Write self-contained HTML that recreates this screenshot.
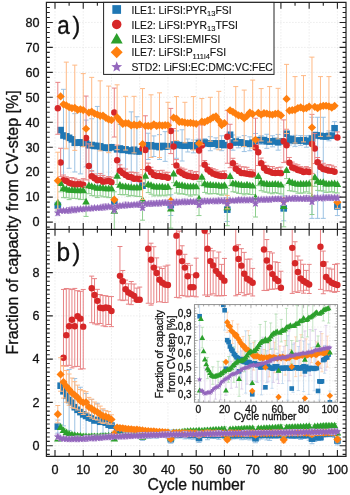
<!DOCTYPE html><html><head><meta charset="utf-8"><style>html,body{margin:0;padding:0;background:#fff}body{width:350px;height:495px;overflow:hidden}svg{display:block;will-change:transform}text{font-family:"Liberation Sans",sans-serif;stroke:#111;stroke-width:0.3px;paint-order:stroke}</style></head><body>
<svg width="350" height="495" viewBox="0 0 350 495">
<defs><clipPath id="ca"><rect x="46.4" y="2.4" width="299.6" height="227"/></clipPath>
<clipPath id="cb"><rect x="46.4" y="229.4" width="299.6" height="227"/></clipPath>
<clipPath id="ci"><rect x="194.4" y="304.6" width="143.2" height="97.6"/></clipPath></defs>
<path d="M55 2.4V229.4M55 229.4V456.4M83.24 2.4V229.4M83.24 229.4V456.4M111.48 2.4V229.4M111.48 229.4V456.4M139.72 2.4V229.4M139.72 229.4V456.4M167.96 2.4V229.4M167.96 229.4V456.4M196.2 2.4V229.4M196.2 229.4V456.4M224.44 2.4V229.4M224.44 229.4V456.4M252.68 2.4V229.4M252.68 229.4V456.4M280.92 2.4V229.4M280.92 229.4V456.4M309.16 2.4V229.4M309.16 229.4V456.4M337.4 2.4V229.4M337.4 229.4V456.4M46.4 222.1H346M46.4 197.14H346M46.4 172.19H346M46.4 147.23H346M46.4 122.28H346M46.4 97.32H346M46.4 72.36H346M46.4 47.41H346M46.4 22.45H346M46.4 445.7H346M46.4 402.42H346M46.4 359.14H346M46.4 315.86H346M46.4 272.58H346" stroke="#dadada" stroke-width="0.75" stroke-dasharray="1 2" fill="none"/>
<g clip-path="url(#ca)">
<path d="M63.47 89.32V181.65M60.97 89.32H65.97M60.97 181.65H65.97" stroke="#9cc2e3" stroke-width="1.0" fill="none"/><path d="M69.12 107.36V168.29M66.62 107.36H71.62M66.62 168.29H71.62" stroke="#9cc2e3" stroke-width="1.0" fill="none"/><path d="M74.77 113.67V171.96M72.27 113.67H77.27M72.27 171.96H77.27" stroke="#9cc2e3" stroke-width="1.0" fill="none"/><path d="M80.42 110.89V173.87M77.92 110.89H82.92M77.92 173.87H82.92" stroke="#9cc2e3" stroke-width="1.0" fill="none"/><path d="M86.06 120.07V166.84M83.56 120.07H88.56M83.56 166.84H88.56" stroke="#9cc2e3" stroke-width="1.0" fill="none"/><path d="M91.71 118.76V171.32M89.21 118.76H94.21M89.21 171.32H94.21" stroke="#9cc2e3" stroke-width="1.0" fill="none"/><path d="M97.36 106.43V185.39M94.86 106.43H99.86M94.86 185.39H99.86" stroke="#9cc2e3" stroke-width="1.0" fill="none"/><path d="M103.01 117.52V177.9M100.51 117.52H105.51M100.51 177.9H105.51" stroke="#9cc2e3" stroke-width="1.0" fill="none"/><path d="M108.66 117.29V178.7M106.16 117.29H111.16M106.16 178.7H111.16" stroke="#9cc2e3" stroke-width="1.0" fill="none"/><path d="M119.95 124.54V172.44M117.45 124.54H122.45M117.45 172.44H122.45" stroke="#9cc2e3" stroke-width="1.0" fill="none"/><path d="M125.6 122.03V176.7M123.1 122.03H128.1M123.1 176.7H128.1" stroke="#9cc2e3" stroke-width="1.0" fill="none"/><path d="M131.25 111.86V190.14M128.75 111.86H133.75M128.75 190.14H133.75" stroke="#9cc2e3" stroke-width="1.0" fill="none"/><path d="M136.9 116.74V185.67M134.4 116.74H139.4M134.4 185.67H139.4" stroke="#9cc2e3" stroke-width="1.0" fill="none"/><path d="M148.19 133.23V159.53M145.69 133.23H150.69M145.69 159.53H150.69" stroke="#9cc2e3" stroke-width="1.0" fill="none"/><path d="M153.84 135.91V156.53M151.34 135.91H156.34M151.34 156.53H156.34" stroke="#9cc2e3" stroke-width="1.0" fill="none"/><path d="M159.49 134.65V159.51M156.99 134.65H161.99M156.99 159.51H161.99" stroke="#9cc2e3" stroke-width="1.0" fill="none"/><path d="M165.14 131.67V161.35M162.64 131.67H167.64M162.64 161.35H167.64" stroke="#9cc2e3" stroke-width="1.0" fill="none"/><path d="M170.78 194.77V215.49M168.28 194.77H173.28M168.28 215.49H173.28" stroke="#9cc2e3" stroke-width="1.0" fill="none"/><path d="M176.43 130.93V158.3M173.93 130.93H178.93M173.93 158.3H178.93" stroke="#9cc2e3" stroke-width="1.0" fill="none"/><path d="M182.08 129.77V161M179.58 129.77H184.58M179.58 161H184.58" stroke="#9cc2e3" stroke-width="1.0" fill="none"/><path d="M187.73 139.02V151.98M185.23 139.02H190.23M185.23 151.98H190.23" stroke="#9cc2e3" stroke-width="1.0" fill="none"/><path d="M193.38 139.97V152.85M190.88 139.97H195.88M190.88 152.85H195.88" stroke="#9cc2e3" stroke-width="1.0" fill="none"/><path d="M199.02 139.13V146.92M196.52 139.13H201.52M196.52 146.92H201.52" stroke="#9cc2e3" stroke-width="1.0" fill="none"/><path d="M204.67 138.67V146.36M202.17 138.67H207.17M202.17 146.36H207.17" stroke="#9cc2e3" stroke-width="1.0" fill="none"/><path d="M210.32 136.72V150.74M207.82 136.72H212.82M207.82 150.74H212.82" stroke="#9cc2e3" stroke-width="1.0" fill="none"/><path d="M215.97 137.88V148.88M213.47 137.88H218.47M213.47 148.88H218.47" stroke="#9cc2e3" stroke-width="1.0" fill="none"/><path d="M221.62 135.79V150.69M219.12 135.79H224.12M219.12 150.69H224.12" stroke="#9cc2e3" stroke-width="1.0" fill="none"/><path d="M227.26 197.8V221.45M224.76 197.8H229.76M224.76 221.45H229.76" stroke="#9cc2e3" stroke-width="1.0" fill="none"/><path d="M232.91 134.96V150.21M230.41 134.96H235.41M230.41 150.21H235.41" stroke="#9cc2e3" stroke-width="1.0" fill="none"/><path d="M238.56 137.13V147.82M236.06 137.13H241.06M236.06 147.82H241.06" stroke="#9cc2e3" stroke-width="1.0" fill="none"/><path d="M244.21 135.62V151.58M241.71 135.62H246.71M241.71 151.58H246.71" stroke="#9cc2e3" stroke-width="1.0" fill="none"/><path d="M249.86 136.84V150.75M247.36 136.84H252.36M247.36 150.75H252.36" stroke="#9cc2e3" stroke-width="1.0" fill="none"/><path d="M255.5 133.5V148.55M253 133.5H258M253 148.55H258" stroke="#9cc2e3" stroke-width="1.0" fill="none"/><path d="M261.15 135.65V144.39M258.65 135.65H263.65M258.65 144.39H263.65" stroke="#9cc2e3" stroke-width="1.0" fill="none"/><path d="M266.8 134.26V148.38M264.3 134.26H269.3M264.3 148.38H269.3" stroke="#9cc2e3" stroke-width="1.0" fill="none"/><path d="M272.45 135.75V146.82M269.95 135.75H274.95M269.95 146.82H274.95" stroke="#9cc2e3" stroke-width="1.0" fill="none"/><path d="M278.1 134.42V150.16M275.6 134.42H280.6M275.6 150.16H280.6" stroke="#9cc2e3" stroke-width="1.0" fill="none"/><path d="M283.74 195.92V220.83M281.24 195.92H286.24M281.24 220.83H286.24" stroke="#9cc2e3" stroke-width="1.0" fill="none"/><path d="M289.39 135.67V145M286.89 135.67H291.89M286.89 145H291.89" stroke="#9cc2e3" stroke-width="1.0" fill="none"/><path d="M295.04 135.27V146.33M292.54 135.27H297.54M292.54 146.33H297.54" stroke="#9cc2e3" stroke-width="1.0" fill="none"/><path d="M300.69 135.56V145.35M298.19 135.56H303.19M298.19 145.35H303.19" stroke="#9cc2e3" stroke-width="1.0" fill="none"/><path d="M306.34 135.75V147.23M303.84 135.75H308.84M303.84 147.23H308.84" stroke="#9cc2e3" stroke-width="1.0" fill="none"/><path d="M311.98 117.28V218.36M309.48 117.28H314.48M309.48 218.36H314.48" stroke="#9cc2e3" stroke-width="1.0" fill="none"/><path d="M317.63 117.28V218.36M315.13 117.28H320.13M315.13 218.36H320.13" stroke="#9cc2e3" stroke-width="1.0" fill="none"/><path d="M323.28 117.28V218.36M320.78 117.28H325.78M320.78 218.36H325.78" stroke="#9cc2e3" stroke-width="1.0" fill="none"/><path d="M328.93 130.89V140.81M326.43 130.89H331.43M326.43 140.81H331.43" stroke="#9cc2e3" stroke-width="1.0" fill="none"/><path d="M334.58 121.69V134.84M332.08 121.69H337.08M332.08 134.84H337.08" stroke="#9cc2e3" stroke-width="1.0" fill="none"/><path d="M337.4 197.18V215.57M334.9 197.18H339.9M334.9 215.57H339.9" stroke="#9cc2e3" stroke-width="1.0" fill="none"/>
<rect x="54.52" y="202.33" width="6.6" height="6.6" fill="#1f77b4"/><rect x="57.35" y="126.79" width="6.6" height="6.6" fill="#1f77b4"/><rect x="60.17" y="132.19" width="6.6" height="6.6" fill="#1f77b4"/><rect x="63" y="133.05" width="6.6" height="6.6" fill="#1f77b4"/><rect x="65.82" y="134.53" width="6.6" height="6.6" fill="#1f77b4"/><rect x="68.64" y="136.08" width="6.6" height="6.6" fill="#1f77b4"/><rect x="71.47" y="139.51" width="6.6" height="6.6" fill="#1f77b4"/><rect x="74.29" y="139.33" width="6.6" height="6.6" fill="#1f77b4"/><rect x="77.12" y="139.08" width="6.6" height="6.6" fill="#1f77b4"/><rect x="79.94" y="140.18" width="6.6" height="6.6" fill="#1f77b4"/><rect x="82.76" y="140.15" width="6.6" height="6.6" fill="#1f77b4"/><rect x="85.59" y="141.95" width="6.6" height="6.6" fill="#1f77b4"/><rect x="88.41" y="141.74" width="6.6" height="6.6" fill="#1f77b4"/><rect x="91.24" y="142.63" width="6.6" height="6.6" fill="#1f77b4"/><rect x="94.06" y="142.61" width="6.6" height="6.6" fill="#1f77b4"/><rect x="96.88" y="143.05" width="6.6" height="6.6" fill="#1f77b4"/><rect x="99.71" y="144.41" width="6.6" height="6.6" fill="#1f77b4"/><rect x="102.53" y="144.43" width="6.6" height="6.6" fill="#1f77b4"/><rect x="105.36" y="144.69" width="6.6" height="6.6" fill="#1f77b4"/><rect x="108.18" y="143.95" width="6.6" height="6.6" fill="#1f77b4"/><rect x="111" y="198.59" width="6.6" height="6.6" fill="#1f77b4"/><rect x="113.83" y="146.02" width="6.6" height="6.6" fill="#1f77b4"/><rect x="116.65" y="145.19" width="6.6" height="6.6" fill="#1f77b4"/><rect x="119.48" y="146.62" width="6.6" height="6.6" fill="#1f77b4"/><rect x="122.3" y="146.07" width="6.6" height="6.6" fill="#1f77b4"/><rect x="125.12" y="147.2" width="6.6" height="6.6" fill="#1f77b4"/><rect x="127.95" y="147.7" width="6.6" height="6.6" fill="#1f77b4"/><rect x="130.77" y="146.47" width="6.6" height="6.6" fill="#1f77b4"/><rect x="133.6" y="147.9" width="6.6" height="6.6" fill="#1f77b4"/><rect x="136.42" y="148.17" width="6.6" height="6.6" fill="#1f77b4"/><rect x="139.24" y="182.36" width="6.6" height="6.6" fill="#1f77b4"/><rect x="142.07" y="141.92" width="6.6" height="6.6" fill="#1f77b4"/><rect x="144.89" y="143.08" width="6.6" height="6.6" fill="#1f77b4"/><rect x="147.72" y="142.04" width="6.6" height="6.6" fill="#1f77b4"/><rect x="150.54" y="142.92" width="6.6" height="6.6" fill="#1f77b4"/><rect x="153.36" y="142.82" width="6.6" height="6.6" fill="#1f77b4"/><rect x="156.19" y="143.78" width="6.6" height="6.6" fill="#1f77b4"/><rect x="159.01" y="142.63" width="6.6" height="6.6" fill="#1f77b4"/><rect x="161.84" y="143.21" width="6.6" height="6.6" fill="#1f77b4"/><rect x="164.66" y="142.87" width="6.6" height="6.6" fill="#1f77b4"/><rect x="167.48" y="201.83" width="6.6" height="6.6" fill="#1f77b4"/><rect x="170.31" y="141.23" width="6.6" height="6.6" fill="#1f77b4"/><rect x="173.13" y="141.32" width="6.6" height="6.6" fill="#1f77b4"/><rect x="175.96" y="141.85" width="6.6" height="6.6" fill="#1f77b4"/><rect x="178.78" y="142.08" width="6.6" height="6.6" fill="#1f77b4"/><rect x="181.6" y="142.42" width="6.6" height="6.6" fill="#1f77b4"/><rect x="184.43" y="142.2" width="6.6" height="6.6" fill="#1f77b4"/><rect x="187.25" y="141.87" width="6.6" height="6.6" fill="#1f77b4"/><rect x="190.08" y="143.11" width="6.6" height="6.6" fill="#1f77b4"/><rect x="192.9" y="142.12" width="6.6" height="6.6" fill="#1f77b4"/><rect x="195.72" y="139.72" width="6.6" height="6.6" fill="#1f77b4"/><rect x="198.55" y="139.94" width="6.6" height="6.6" fill="#1f77b4"/><rect x="201.37" y="139.22" width="6.6" height="6.6" fill="#1f77b4"/><rect x="204.2" y="139.97" width="6.6" height="6.6" fill="#1f77b4"/><rect x="207.02" y="140.43" width="6.6" height="6.6" fill="#1f77b4"/><rect x="209.84" y="140.3" width="6.6" height="6.6" fill="#1f77b4"/><rect x="212.67" y="140.08" width="6.6" height="6.6" fill="#1f77b4"/><rect x="215.49" y="141.38" width="6.6" height="6.6" fill="#1f77b4"/><rect x="218.32" y="139.94" width="6.6" height="6.6" fill="#1f77b4"/><rect x="221.14" y="141.77" width="6.6" height="6.6" fill="#1f77b4"/><rect x="223.96" y="206.32" width="6.6" height="6.6" fill="#1f77b4"/><rect x="226.79" y="131.45" width="6.6" height="6.6" fill="#1f77b4"/><rect x="229.61" y="139.28" width="6.6" height="6.6" fill="#1f77b4"/><rect x="232.44" y="138.19" width="6.6" height="6.6" fill="#1f77b4"/><rect x="235.26" y="139.17" width="6.6" height="6.6" fill="#1f77b4"/><rect x="238.08" y="139.05" width="6.6" height="6.6" fill="#1f77b4"/><rect x="240.91" y="140.3" width="6.6" height="6.6" fill="#1f77b4"/><rect x="243.73" y="140.48" width="6.6" height="6.6" fill="#1f77b4"/><rect x="246.56" y="140.5" width="6.6" height="6.6" fill="#1f77b4"/><rect x="249.38" y="139.39" width="6.6" height="6.6" fill="#1f77b4"/><rect x="252.2" y="137.72" width="6.6" height="6.6" fill="#1f77b4"/><rect x="255.03" y="136.89" width="6.6" height="6.6" fill="#1f77b4"/><rect x="257.85" y="136.72" width="6.6" height="6.6" fill="#1f77b4"/><rect x="260.68" y="136.84" width="6.6" height="6.6" fill="#1f77b4"/><rect x="263.5" y="138.02" width="6.6" height="6.6" fill="#1f77b4"/><rect x="266.32" y="138.14" width="6.6" height="6.6" fill="#1f77b4"/><rect x="269.15" y="137.98" width="6.6" height="6.6" fill="#1f77b4"/><rect x="271.97" y="137.68" width="6.6" height="6.6" fill="#1f77b4"/><rect x="274.8" y="138.99" width="6.6" height="6.6" fill="#1f77b4"/><rect x="277.62" y="138.01" width="6.6" height="6.6" fill="#1f77b4"/><rect x="280.44" y="205.07" width="6.6" height="6.6" fill="#1f77b4"/><rect x="283.27" y="130.46" width="6.6" height="6.6" fill="#1f77b4"/><rect x="286.09" y="137.04" width="6.6" height="6.6" fill="#1f77b4"/><rect x="288.92" y="135.73" width="6.6" height="6.6" fill="#1f77b4"/><rect x="291.74" y="137.5" width="6.6" height="6.6" fill="#1f77b4"/><rect x="294.56" y="137.35" width="6.6" height="6.6" fill="#1f77b4"/><rect x="297.39" y="137.16" width="6.6" height="6.6" fill="#1f77b4"/><rect x="300.21" y="136.9" width="6.6" height="6.6" fill="#1f77b4"/><rect x="303.04" y="138.19" width="6.6" height="6.6" fill="#1f77b4"/><rect x="305.86" y="137.45" width="6.6" height="6.6" fill="#1f77b4"/><rect x="308.68" y="135.2" width="6.6" height="6.6" fill="#1f77b4"/><rect x="311.51" y="131.78" width="6.6" height="6.6" fill="#1f77b4"/><rect x="314.33" y="132.06" width="6.6" height="6.6" fill="#1f77b4"/><rect x="317.16" y="132.59" width="6.6" height="6.6" fill="#1f77b4"/><rect x="319.98" y="133.05" width="6.6" height="6.6" fill="#1f77b4"/><rect x="322.8" y="133.21" width="6.6" height="6.6" fill="#1f77b4"/><rect x="325.63" y="132.55" width="6.6" height="6.6" fill="#1f77b4"/><rect x="328.45" y="132.3" width="6.6" height="6.6" fill="#1f77b4"/><rect x="331.28" y="124.97" width="6.6" height="6.6" fill="#1f77b4"/><rect x="334.1" y="203.08" width="6.6" height="6.6" fill="#1f77b4"/>
<path d="M57.82 82.35V134.25M55.32 82.35H60.32M55.32 134.25H60.32" stroke="#e88284" stroke-width="1.0" fill="none"/><path d="M60.65 148.29V176.62M58.15 148.29H63.15M58.15 176.62H63.15" stroke="#e88284" stroke-width="1.0" fill="none"/><path d="M63.47 175.04V180.17M60.97 175.04H65.97M60.97 180.17H65.97" stroke="#e88284" stroke-width="1.0" fill="none"/><path d="M66.3 176.77V180.94M63.8 176.77H68.8M63.8 180.94H68.8" stroke="#e88284" stroke-width="1.0" fill="none"/><path d="M69.12 177.92V182.86M66.62 177.92H71.62M66.62 182.86H71.62" stroke="#e88284" stroke-width="1.0" fill="none"/><path d="M71.94 177.57V183.8M69.44 177.57H74.44M69.44 183.8H74.44" stroke="#e88284" stroke-width="1.0" fill="none"/><path d="M74.77 178.31V184.51M72.27 178.31H77.27M72.27 184.51H77.27" stroke="#e88284" stroke-width="1.0" fill="none"/><path d="M77.59 179.77V184.26M75.09 179.77H80.09M75.09 184.26H80.09" stroke="#e88284" stroke-width="1.0" fill="none"/><path d="M80.42 180.04V184.08M77.92 180.04H82.92M77.92 184.08H82.92" stroke="#e88284" stroke-width="1.0" fill="none"/><path d="M83.24 178.67V184.73M80.74 178.67H85.74M80.74 184.73H85.74" stroke="#e88284" stroke-width="1.0" fill="none"/><path d="M86.06 96.07V179.92M83.56 96.07H88.56M83.56 179.92H88.56" stroke="#e88284" stroke-width="1.0" fill="none"/><path d="M88.89 143.88V188.02M86.39 143.88H91.39M86.39 188.02H91.39" stroke="#e88284" stroke-width="1.0" fill="none"/><path d="M91.71 170.69V176.18M89.21 170.69H94.21M89.21 176.18H94.21" stroke="#e88284" stroke-width="1.0" fill="none"/><path d="M94.54 173.96V178.29M92.04 173.96H97.04M92.04 178.29H97.04" stroke="#e88284" stroke-width="1.0" fill="none"/><path d="M97.36 175.71V180.29M94.86 175.71H99.86M94.86 180.29H99.86" stroke="#e88284" stroke-width="1.0" fill="none"/><path d="M100.18 173.59V179.88M97.68 173.59H102.68M97.68 179.88H102.68" stroke="#e88284" stroke-width="1.0" fill="none"/><path d="M103.01 175.4V181.73M100.51 175.4H105.51M100.51 181.73H105.51" stroke="#e88284" stroke-width="1.0" fill="none"/><path d="M105.83 177.3V181.37M103.33 177.3H108.33M103.33 181.37H108.33" stroke="#e88284" stroke-width="1.0" fill="none"/><path d="M108.66 176.59V181.05M106.16 176.59H111.16M106.16 181.05H111.16" stroke="#e88284" stroke-width="1.0" fill="none"/><path d="M111.48 177.16V182.22M108.98 177.16H113.98M108.98 182.22H113.98" stroke="#e88284" stroke-width="1.0" fill="none"/><path d="M114.3 88.09V137M111.8 88.09H116.8M111.8 137H116.8" stroke="#e88284" stroke-width="1.0" fill="none"/><path d="M117.13 145.07V175.35M114.63 145.07H119.63M114.63 175.35H119.63" stroke="#e88284" stroke-width="1.0" fill="none"/><path d="M119.95 164.82V170.69M117.45 164.82H122.45M117.45 170.69H122.45" stroke="#e88284" stroke-width="1.0" fill="none"/><path d="M122.78 168.17V173.09M120.28 168.17H125.28M120.28 173.09H125.28" stroke="#e88284" stroke-width="1.0" fill="none"/><path d="M125.6 169V174.93M123.1 169H128.1M123.1 174.93H128.1" stroke="#e88284" stroke-width="1.0" fill="none"/><path d="M128.42 172.35V176.73M125.92 172.35H130.92M125.92 176.73H130.92" stroke="#e88284" stroke-width="1.0" fill="none"/><path d="M131.25 172V177.29M128.75 172H133.75M128.75 177.29H133.75" stroke="#e88284" stroke-width="1.0" fill="none"/><path d="M134.07 172.37V178.79M131.57 172.37H136.57M131.57 178.79H136.57" stroke="#e88284" stroke-width="1.0" fill="none"/><path d="M136.9 172.85V178.6M134.4 172.85H139.4M134.4 178.6H139.4" stroke="#e88284" stroke-width="1.0" fill="none"/><path d="M139.72 174.98V179.2M137.22 174.98H142.22M137.22 179.2H142.22" stroke="#e88284" stroke-width="1.0" fill="none"/><path d="M142.54 127.41V169.55M140.04 127.41H145.04M140.04 169.55H145.04" stroke="#e88284" stroke-width="1.0" fill="none"/><path d="M145.37 115.79V184.17M142.87 115.79H147.87M142.87 184.17H147.87" stroke="#e88284" stroke-width="1.0" fill="none"/><path d="M148.19 163.1V168.69M145.69 163.1H150.69M145.69 168.69H150.69" stroke="#e88284" stroke-width="1.0" fill="none"/><path d="M151.02 167.24V172.17M148.52 167.24H153.52M148.52 172.17H153.52" stroke="#e88284" stroke-width="1.0" fill="none"/><path d="M153.84 170.15V175.06M151.34 170.15H156.34M151.34 175.06H156.34" stroke="#e88284" stroke-width="1.0" fill="none"/><path d="M156.66 170.89V176.08M154.16 170.89H159.16M154.16 176.08H159.16" stroke="#e88284" stroke-width="1.0" fill="none"/><path d="M159.49 170.58V176.02M156.99 170.58H161.99M156.99 176.02H161.99" stroke="#e88284" stroke-width="1.0" fill="none"/><path d="M162.31 170.3V176.7M159.81 170.3H164.81M159.81 176.7H164.81" stroke="#e88284" stroke-width="1.0" fill="none"/><path d="M165.14 172.2V176.8M162.64 172.2H167.64M162.64 176.8H167.64" stroke="#e88284" stroke-width="1.0" fill="none"/><path d="M167.96 172.34V177.75M165.46 172.34H170.46M165.46 177.75H170.46" stroke="#e88284" stroke-width="1.0" fill="none"/><path d="M170.78 108.42V153.6M168.28 108.42H173.28M168.28 153.6H173.28" stroke="#e88284" stroke-width="1.0" fill="none"/><path d="M173.61 128.56V164.41M171.11 128.56H176.11M171.11 164.41H176.11" stroke="#e88284" stroke-width="1.0" fill="none"/><path d="M176.43 159.63V165.45M173.93 159.63H178.93M173.93 165.45H178.93" stroke="#e88284" stroke-width="1.0" fill="none"/><path d="M179.26 167.13V171.46M176.76 167.13H181.76M176.76 171.46H181.76" stroke="#e88284" stroke-width="1.0" fill="none"/><path d="M182.08 168.07V173.27M179.58 168.07H184.58M179.58 173.27H184.58" stroke="#e88284" stroke-width="1.0" fill="none"/><path d="M184.9 169.2V174.96M182.4 169.2H187.4M182.4 174.96H187.4" stroke="#e88284" stroke-width="1.0" fill="none"/><path d="M187.73 172.02V176.04M185.23 172.02H190.23M185.23 176.04H190.23" stroke="#e88284" stroke-width="1.0" fill="none"/><path d="M190.55 170.43V176.35M188.05 170.43H193.05M188.05 176.35H193.05" stroke="#e88284" stroke-width="1.0" fill="none"/><path d="M193.38 171.99V177.03M190.88 171.99H195.88M190.88 177.03H195.88" stroke="#e88284" stroke-width="1.0" fill="none"/><path d="M196.2 171.61V176.86M193.7 171.61H198.7M193.7 176.86H198.7" stroke="#e88284" stroke-width="1.0" fill="none"/><path d="M199.02 124.42V176.54M196.52 124.42H201.52M196.52 176.54H201.52" stroke="#e88284" stroke-width="1.0" fill="none"/><path d="M201.85 125.09V165.88M199.35 125.09H204.35M199.35 165.88H204.35" stroke="#e88284" stroke-width="1.0" fill="none"/><path d="M204.67 160.57V164.7M202.17 160.57H207.17M202.17 164.7H207.17" stroke="#e88284" stroke-width="1.0" fill="none"/><path d="M207.5 164.22V169.46M205 164.22H210M205 169.46H210" stroke="#e88284" stroke-width="1.0" fill="none"/><path d="M210.32 167.69V171.78M207.82 167.69H212.82M207.82 171.78H212.82" stroke="#e88284" stroke-width="1.0" fill="none"/><path d="M213.14 168.7V173.65M210.64 168.7H215.64M210.64 173.65H215.64" stroke="#e88284" stroke-width="1.0" fill="none"/><path d="M215.97 169.83V174.68M213.47 169.83H218.47M213.47 174.68H218.47" stroke="#e88284" stroke-width="1.0" fill="none"/><path d="M218.79 171.38V175.43M216.29 171.38H221.29M216.29 175.43H221.29" stroke="#e88284" stroke-width="1.0" fill="none"/><path d="M221.62 171.37V176.11M219.12 171.37H224.12M219.12 176.11H224.12" stroke="#e88284" stroke-width="1.0" fill="none"/><path d="M224.44 170.91V176.02M221.94 170.91H226.94M221.94 176.02H226.94" stroke="#e88284" stroke-width="1.0" fill="none"/><path d="M227.26 110.25V163.25M224.76 110.25H229.76M224.76 163.25H229.76" stroke="#e88284" stroke-width="1.0" fill="none"/><path d="M230.09 124.27V167.69M227.59 124.27H232.59M227.59 167.69H232.59" stroke="#e88284" stroke-width="1.0" fill="none"/><path d="M232.91 158.29V163.2M230.41 158.29H235.41M230.41 163.2H235.41" stroke="#e88284" stroke-width="1.0" fill="none"/><path d="M235.74 163.46V168.77M233.24 163.46H238.24M233.24 168.77H238.24" stroke="#e88284" stroke-width="1.0" fill="none"/><path d="M238.56 165.14V170.92M236.06 165.14H241.06M236.06 170.92H241.06" stroke="#e88284" stroke-width="1.0" fill="none"/><path d="M241.38 166.72V173.05M238.88 166.72H243.88M238.88 173.05H243.88" stroke="#e88284" stroke-width="1.0" fill="none"/><path d="M244.21 166.89V173.25M241.71 166.89H246.71M241.71 173.25H246.71" stroke="#e88284" stroke-width="1.0" fill="none"/><path d="M247.03 167.32V173.78M244.53 167.32H249.53M244.53 173.78H249.53" stroke="#e88284" stroke-width="1.0" fill="none"/><path d="M249.86 169.46V174.21M247.36 169.46H252.36M247.36 174.21H252.36" stroke="#e88284" stroke-width="1.0" fill="none"/><path d="M252.68 170.03V174.44M250.18 170.03H255.18M250.18 174.44H255.18" stroke="#e88284" stroke-width="1.0" fill="none"/><path d="M255.5 118.21V176.75M253 118.21H258M253 176.75H258" stroke="#e88284" stroke-width="1.0" fill="none"/><path d="M258.33 138.97V165.47M255.83 138.97H260.83M255.83 165.47H260.83" stroke="#e88284" stroke-width="1.0" fill="none"/><path d="M261.15 158.09V163.2M258.65 158.09H263.65M258.65 163.2H263.65" stroke="#e88284" stroke-width="1.0" fill="none"/><path d="M263.98 162.23V168.06M261.48 162.23H266.48M261.48 168.06H266.48" stroke="#e88284" stroke-width="1.0" fill="none"/><path d="M266.8 165.4V170.72M264.3 165.4H269.3M264.3 170.72H269.3" stroke="#e88284" stroke-width="1.0" fill="none"/><path d="M269.62 166.5V171.46M267.12 166.5H272.12M267.12 171.46H272.12" stroke="#e88284" stroke-width="1.0" fill="none"/><path d="M272.45 166.55V172.85M269.95 166.55H274.95M269.95 172.85H274.95" stroke="#e88284" stroke-width="1.0" fill="none"/><path d="M275.27 168.27V173.01M272.77 168.27H277.77M272.77 173.01H277.77" stroke="#e88284" stroke-width="1.0" fill="none"/><path d="M278.1 167.49V172.86M275.6 167.49H280.6M275.6 172.86H280.6" stroke="#e88284" stroke-width="1.0" fill="none"/><path d="M280.92 167.09V173.15M278.42 167.09H283.42M278.42 173.15H283.42" stroke="#e88284" stroke-width="1.0" fill="none"/><path d="M283.74 119.9V162.58M281.24 119.9H286.24M281.24 162.58H286.24" stroke="#e88284" stroke-width="1.0" fill="none"/><path d="M286.57 129.25V161.22M284.07 129.25H289.07M284.07 161.22H289.07" stroke="#e88284" stroke-width="1.0" fill="none"/><path d="M289.39 157.48V162.7M286.89 157.48H291.89M286.89 162.7H291.89" stroke="#e88284" stroke-width="1.0" fill="none"/><path d="M292.22 162.1V167.51M289.72 162.1H294.72M289.72 167.51H294.72" stroke="#e88284" stroke-width="1.0" fill="none"/><path d="M295.04 163.88V168.39M292.54 163.88H297.54M292.54 168.39H297.54" stroke="#e88284" stroke-width="1.0" fill="none"/><path d="M297.86 164.84V169.96M295.36 164.84H300.36M295.36 169.96H300.36" stroke="#e88284" stroke-width="1.0" fill="none"/><path d="M300.69 166.61V170.75M298.19 166.61H303.19M298.19 170.75H303.19" stroke="#e88284" stroke-width="1.0" fill="none"/><path d="M303.51 167.8V172.02M301.01 167.8H306.01M301.01 172.02H306.01" stroke="#e88284" stroke-width="1.0" fill="none"/><path d="M306.34 166.62V171.47M303.84 166.62H308.84M303.84 171.47H308.84" stroke="#e88284" stroke-width="1.0" fill="none"/><path d="M309.16 167.71V172.06M306.66 167.71H311.66M306.66 172.06H311.66" stroke="#e88284" stroke-width="1.0" fill="none"/><path d="M311.98 114.36V173.61M309.48 114.36H314.48M309.48 173.61H314.48" stroke="#e88284" stroke-width="1.0" fill="none"/><path d="M314.81 133.37V163.59M312.31 133.37H317.31M312.31 163.59H317.31" stroke="#e88284" stroke-width="1.0" fill="none"/><path d="M317.63 157.52V162.21M315.13 157.52H320.13M315.13 162.21H320.13" stroke="#e88284" stroke-width="1.0" fill="none"/><path d="M320.46 160.99V166.94M317.96 160.99H322.96M317.96 166.94H322.96" stroke="#e88284" stroke-width="1.0" fill="none"/><path d="M323.28 163.27V169.11M320.78 163.27H325.78M320.78 169.11H325.78" stroke="#e88284" stroke-width="1.0" fill="none"/><path d="M326.1 165.06V169.71M323.6 165.06H328.6M323.6 169.71H328.6" stroke="#e88284" stroke-width="1.0" fill="none"/><path d="M328.93 164.59V170.65M326.43 164.59H331.43M326.43 170.65H331.43" stroke="#e88284" stroke-width="1.0" fill="none"/><path d="M331.75 165.28V170.84M329.25 165.28H334.25M329.25 170.84H334.25" stroke="#e88284" stroke-width="1.0" fill="none"/><path d="M334.58 166.8V171.76M332.08 166.8H337.08M332.08 171.76H337.08" stroke="#e88284" stroke-width="1.0" fill="none"/><path d="M337.4 131.94V137.5M334.9 131.94H339.9M334.9 137.5H339.9" stroke="#e88284" stroke-width="1.0" fill="none"/>
<circle cx="57.82" cy="108.3" r="3.2" fill="#d62728"/><circle cx="60.65" cy="162.46" r="3.2" fill="#d62728"/><circle cx="63.47" cy="180.17" r="3.2" fill="#d62728"/><circle cx="66.3" cy="180.94" r="3.2" fill="#d62728"/><circle cx="69.12" cy="182.86" r="3.2" fill="#d62728"/><circle cx="71.94" cy="183.8" r="3.2" fill="#d62728"/><circle cx="74.77" cy="184.51" r="3.2" fill="#d62728"/><circle cx="77.59" cy="184.26" r="3.2" fill="#d62728"/><circle cx="80.42" cy="184.08" r="3.2" fill="#d62728"/><circle cx="83.24" cy="184.73" r="3.2" fill="#d62728"/><circle cx="86.06" cy="138" r="3.2" fill="#d62728"/><circle cx="88.89" cy="165.95" r="3.2" fill="#d62728"/><circle cx="91.71" cy="176.18" r="3.2" fill="#d62728"/><circle cx="94.54" cy="178.29" r="3.2" fill="#d62728"/><circle cx="97.36" cy="180.29" r="3.2" fill="#d62728"/><circle cx="100.18" cy="179.88" r="3.2" fill="#d62728"/><circle cx="103.01" cy="181.73" r="3.2" fill="#d62728"/><circle cx="105.83" cy="181.37" r="3.2" fill="#d62728"/><circle cx="108.66" cy="181.05" r="3.2" fill="#d62728"/><circle cx="111.48" cy="182.22" r="3.2" fill="#d62728"/><circle cx="114.3" cy="112.54" r="3.2" fill="#d62728"/><circle cx="117.13" cy="160.21" r="3.2" fill="#d62728"/><circle cx="119.95" cy="170.69" r="3.2" fill="#d62728"/><circle cx="122.78" cy="173.09" r="3.2" fill="#d62728"/><circle cx="125.6" cy="174.93" r="3.2" fill="#d62728"/><circle cx="128.42" cy="176.73" r="3.2" fill="#d62728"/><circle cx="131.25" cy="177.29" r="3.2" fill="#d62728"/><circle cx="134.07" cy="178.79" r="3.2" fill="#d62728"/><circle cx="136.9" cy="178.6" r="3.2" fill="#d62728"/><circle cx="139.72" cy="179.2" r="3.2" fill="#d62728"/><circle cx="142.54" cy="148.48" r="3.2" fill="#d62728"/><circle cx="145.37" cy="149.98" r="3.2" fill="#d62728"/><circle cx="148.19" cy="168.69" r="3.2" fill="#d62728"/><circle cx="151.02" cy="172.17" r="3.2" fill="#d62728"/><circle cx="153.84" cy="175.06" r="3.2" fill="#d62728"/><circle cx="156.66" cy="176.08" r="3.2" fill="#d62728"/><circle cx="159.49" cy="176.02" r="3.2" fill="#d62728"/><circle cx="162.31" cy="176.7" r="3.2" fill="#d62728"/><circle cx="165.14" cy="176.8" r="3.2" fill="#d62728"/><circle cx="167.96" cy="177.75" r="3.2" fill="#d62728"/><circle cx="170.78" cy="131.01" r="3.2" fill="#d62728"/><circle cx="173.61" cy="146.48" r="3.2" fill="#d62728"/><circle cx="176.43" cy="165.45" r="3.2" fill="#d62728"/><circle cx="179.26" cy="171.46" r="3.2" fill="#d62728"/><circle cx="182.08" cy="173.27" r="3.2" fill="#d62728"/><circle cx="184.9" cy="174.96" r="3.2" fill="#d62728"/><circle cx="187.73" cy="176.04" r="3.2" fill="#d62728"/><circle cx="190.55" cy="176.35" r="3.2" fill="#d62728"/><circle cx="193.38" cy="177.03" r="3.2" fill="#d62728"/><circle cx="196.2" cy="176.86" r="3.2" fill="#d62728"/><circle cx="199.02" cy="150.48" r="3.2" fill="#d62728"/><circle cx="201.85" cy="145.49" r="3.2" fill="#d62728"/><circle cx="204.67" cy="164.7" r="3.2" fill="#d62728"/><circle cx="207.5" cy="169.46" r="3.2" fill="#d62728"/><circle cx="210.32" cy="171.78" r="3.2" fill="#d62728"/><circle cx="213.14" cy="173.65" r="3.2" fill="#d62728"/><circle cx="215.97" cy="174.68" r="3.2" fill="#d62728"/><circle cx="218.79" cy="175.43" r="3.2" fill="#d62728"/><circle cx="221.62" cy="176.11" r="3.2" fill="#d62728"/><circle cx="224.44" cy="176.02" r="3.2" fill="#d62728"/><circle cx="227.26" cy="136.75" r="3.2" fill="#d62728"/><circle cx="230.09" cy="145.98" r="3.2" fill="#d62728"/><circle cx="232.91" cy="163.2" r="3.2" fill="#d62728"/><circle cx="235.74" cy="168.77" r="3.2" fill="#d62728"/><circle cx="238.56" cy="170.92" r="3.2" fill="#d62728"/><circle cx="241.38" cy="173.05" r="3.2" fill="#d62728"/><circle cx="244.21" cy="173.25" r="3.2" fill="#d62728"/><circle cx="247.03" cy="173.78" r="3.2" fill="#d62728"/><circle cx="249.86" cy="174.21" r="3.2" fill="#d62728"/><circle cx="252.68" cy="174.44" r="3.2" fill="#d62728"/><circle cx="255.5" cy="147.48" r="3.2" fill="#d62728"/><circle cx="258.33" cy="152.22" r="3.2" fill="#d62728"/><circle cx="261.15" cy="163.2" r="3.2" fill="#d62728"/><circle cx="263.98" cy="168.06" r="3.2" fill="#d62728"/><circle cx="266.8" cy="170.72" r="3.2" fill="#d62728"/><circle cx="269.62" cy="171.46" r="3.2" fill="#d62728"/><circle cx="272.45" cy="172.85" r="3.2" fill="#d62728"/><circle cx="275.27" cy="173.01" r="3.2" fill="#d62728"/><circle cx="278.1" cy="172.86" r="3.2" fill="#d62728"/><circle cx="280.92" cy="173.15" r="3.2" fill="#d62728"/><circle cx="283.74" cy="141.24" r="3.2" fill="#d62728"/><circle cx="286.57" cy="145.24" r="3.2" fill="#d62728"/><circle cx="289.39" cy="162.7" r="3.2" fill="#d62728"/><circle cx="292.22" cy="167.51" r="3.2" fill="#d62728"/><circle cx="295.04" cy="168.39" r="3.2" fill="#d62728"/><circle cx="297.86" cy="169.96" r="3.2" fill="#d62728"/><circle cx="300.69" cy="170.75" r="3.2" fill="#d62728"/><circle cx="303.51" cy="172.02" r="3.2" fill="#d62728"/><circle cx="306.34" cy="171.47" r="3.2" fill="#d62728"/><circle cx="309.16" cy="172.06" r="3.2" fill="#d62728"/><circle cx="311.98" cy="143.99" r="3.2" fill="#d62728"/><circle cx="314.81" cy="148.48" r="3.2" fill="#d62728"/><circle cx="317.63" cy="162.21" r="3.2" fill="#d62728"/><circle cx="320.46" cy="166.94" r="3.2" fill="#d62728"/><circle cx="323.28" cy="169.11" r="3.2" fill="#d62728"/><circle cx="326.1" cy="169.71" r="3.2" fill="#d62728"/><circle cx="328.93" cy="170.65" r="3.2" fill="#d62728"/><circle cx="331.75" cy="170.84" r="3.2" fill="#d62728"/><circle cx="334.58" cy="171.76" r="3.2" fill="#d62728"/><circle cx="337.4" cy="137.5" r="3.2" fill="#d62728"/>
<path d="M57.82 202.14V210.99M55.32 202.14H60.32M55.32 210.99H60.32" stroke="#8fcf8f" stroke-width="1.0" fill="none"/><path d="M60.65 182.92V191.8M58.15 182.92H63.15M58.15 191.8H63.15" stroke="#8fcf8f" stroke-width="1.0" fill="none"/><path d="M63.47 187.86V197.66M60.97 187.86H65.97M60.97 197.66H65.97" stroke="#8fcf8f" stroke-width="1.0" fill="none"/><path d="M66.3 188.63V197.77M63.8 188.63H68.8M63.8 197.77H68.8" stroke="#8fcf8f" stroke-width="1.0" fill="none"/><path d="M69.12 189.81V199.64M66.62 189.81H71.62M66.62 199.64H71.62" stroke="#8fcf8f" stroke-width="1.0" fill="none"/><path d="M71.94 189.59V198.34M69.44 189.59H74.44M69.44 198.34H74.44" stroke="#8fcf8f" stroke-width="1.0" fill="none"/><path d="M74.77 189.82V198.51M72.27 189.82H77.27M72.27 198.51H77.27" stroke="#8fcf8f" stroke-width="1.0" fill="none"/><path d="M77.59 190.22V198.79M75.09 190.22H80.09M75.09 198.79H80.09" stroke="#8fcf8f" stroke-width="1.0" fill="none"/><path d="M80.42 189.98V199.57M77.92 189.98H82.92M77.92 199.57H82.92" stroke="#8fcf8f" stroke-width="1.0" fill="none"/><path d="M83.24 190.09V199.41M80.74 190.09H85.74M80.74 199.41H85.74" stroke="#8fcf8f" stroke-width="1.0" fill="none"/><path d="M86.06 186.35V216.42M83.56 186.35H88.56M83.56 216.42H88.56" stroke="#8fcf8f" stroke-width="1.0" fill="none"/><path d="M88.89 185.17V193.71M86.39 185.17H91.39M86.39 193.71H91.39" stroke="#8fcf8f" stroke-width="1.0" fill="none"/><path d="M91.71 185.89V195.61M89.21 185.89H94.21M89.21 195.61H94.21" stroke="#8fcf8f" stroke-width="1.0" fill="none"/><path d="M94.54 186.75V195.98M92.04 186.75H97.04M92.04 195.98H97.04" stroke="#8fcf8f" stroke-width="1.0" fill="none"/><path d="M97.36 187.79V197.58M94.86 187.79H99.86M94.86 197.58H99.86" stroke="#8fcf8f" stroke-width="1.0" fill="none"/><path d="M100.18 187.35V195.9M97.68 187.35H102.68M97.68 195.9H102.68" stroke="#8fcf8f" stroke-width="1.0" fill="none"/><path d="M103.01 187.49V196.86M100.51 187.49H105.51M100.51 196.86H105.51" stroke="#8fcf8f" stroke-width="1.0" fill="none"/><path d="M105.83 188.24V196.9M103.33 188.24H108.33M103.33 196.9H108.33" stroke="#8fcf8f" stroke-width="1.0" fill="none"/><path d="M108.66 188.09V197.66M106.16 188.09H111.16M106.16 197.66H111.16" stroke="#8fcf8f" stroke-width="1.0" fill="none"/><path d="M111.48 188.14V197.54M108.98 188.14H113.98M108.98 197.54H113.98" stroke="#8fcf8f" stroke-width="1.0" fill="none"/><path d="M114.3 191.83V229.41M111.8 191.83H116.8M111.8 229.41H116.8" stroke="#8fcf8f" stroke-width="1.0" fill="none"/><path d="M117.13 175.68V184.5M114.63 175.68H119.63M114.63 184.5H119.63" stroke="#8fcf8f" stroke-width="1.0" fill="none"/><path d="M119.95 184.63V194.53M117.45 184.63H122.45M117.45 194.53H122.45" stroke="#8fcf8f" stroke-width="1.0" fill="none"/><path d="M122.78 186.2V194.85M120.28 186.2H125.28M120.28 194.85H125.28" stroke="#8fcf8f" stroke-width="1.0" fill="none"/><path d="M125.6 186.03V194.61M123.1 186.03H128.1M123.1 194.61H128.1" stroke="#8fcf8f" stroke-width="1.0" fill="none"/><path d="M128.42 186.67V196.18M125.92 186.67H130.92M125.92 196.18H130.92" stroke="#8fcf8f" stroke-width="1.0" fill="none"/><path d="M131.25 186.83V195.45M128.75 186.83H133.75M128.75 195.45H133.75" stroke="#8fcf8f" stroke-width="1.0" fill="none"/><path d="M134.07 187.31V195.9M131.57 187.31H136.57M131.57 195.9H136.57" stroke="#8fcf8f" stroke-width="1.0" fill="none"/><path d="M136.9 187.18V196.35M134.4 187.18H139.4M134.4 196.35H139.4" stroke="#8fcf8f" stroke-width="1.0" fill="none"/><path d="M139.72 187.07V196.53M137.22 187.07H142.22M137.22 196.53H142.22" stroke="#8fcf8f" stroke-width="1.0" fill="none"/><path d="M142.54 179.1V220.18M140.04 179.1H145.04M140.04 220.18H145.04" stroke="#8fcf8f" stroke-width="1.0" fill="none"/><path d="M145.37 175.68V185.25M142.87 175.68H147.87M142.87 185.25H147.87" stroke="#8fcf8f" stroke-width="1.0" fill="none"/><path d="M148.19 184V192.58M145.69 184H150.69M145.69 192.58H150.69" stroke="#8fcf8f" stroke-width="1.0" fill="none"/><path d="M151.02 184.77V194.22M148.52 184.77H153.52M148.52 194.22H153.52" stroke="#8fcf8f" stroke-width="1.0" fill="none"/><path d="M153.84 186.22V195.97M151.34 186.22H156.34M151.34 195.97H156.34" stroke="#8fcf8f" stroke-width="1.0" fill="none"/><path d="M156.66 186.45V195.11M154.16 186.45H159.16M154.16 195.11H159.16" stroke="#8fcf8f" stroke-width="1.0" fill="none"/><path d="M159.49 186.36V195.98M156.99 186.36H161.99M156.99 195.98H161.99" stroke="#8fcf8f" stroke-width="1.0" fill="none"/><path d="M162.31 186.28V195.15M159.81 186.28H164.81M159.81 195.15H164.81" stroke="#8fcf8f" stroke-width="1.0" fill="none"/><path d="M165.14 186.93V195.87M162.64 186.93H167.64M162.64 195.87H167.64" stroke="#8fcf8f" stroke-width="1.0" fill="none"/><path d="M167.96 186.43V194.92M165.46 186.43H170.46M165.46 194.92H170.46" stroke="#8fcf8f" stroke-width="1.0" fill="none"/><path d="M170.78 188.67V228.08M168.28 188.67H173.28M168.28 228.08H173.28" stroke="#8fcf8f" stroke-width="1.0" fill="none"/><path d="M173.61 173.44V182.69M171.11 173.44H176.11M171.11 182.69H176.11" stroke="#8fcf8f" stroke-width="1.0" fill="none"/><path d="M176.43 183.25V193.09M173.93 183.25H178.93M173.93 193.09H178.93" stroke="#8fcf8f" stroke-width="1.0" fill="none"/><path d="M179.26 184.87V194.05M176.76 184.87H181.76M176.76 194.05H181.76" stroke="#8fcf8f" stroke-width="1.0" fill="none"/><path d="M182.08 184.92V193.63M179.58 184.92H184.58M179.58 193.63H184.58" stroke="#8fcf8f" stroke-width="1.0" fill="none"/><path d="M184.9 185.62V194.43M182.4 185.62H187.4M182.4 194.43H187.4" stroke="#8fcf8f" stroke-width="1.0" fill="none"/><path d="M187.73 186.1V194.97M185.23 186.1H190.23M185.23 194.97H190.23" stroke="#8fcf8f" stroke-width="1.0" fill="none"/><path d="M190.55 186.17V196.08M188.05 186.17H193.05M188.05 196.08H193.05" stroke="#8fcf8f" stroke-width="1.0" fill="none"/><path d="M193.38 186.06V194.85M190.88 186.06H195.88M190.88 194.85H195.88" stroke="#8fcf8f" stroke-width="1.0" fill="none"/><path d="M196.2 186.31V194.93M193.7 186.31H198.7M193.7 194.93H198.7" stroke="#8fcf8f" stroke-width="1.0" fill="none"/><path d="M199.02 181.22V215.57M196.52 181.22H201.52M196.52 215.57H201.52" stroke="#8fcf8f" stroke-width="1.0" fill="none"/><path d="M201.85 176.68V185.28M199.35 176.68H204.35M199.35 185.28H204.35" stroke="#8fcf8f" stroke-width="1.0" fill="none"/><path d="M204.67 183.3V192.42M202.17 183.3H207.17M202.17 192.42H207.17" stroke="#8fcf8f" stroke-width="1.0" fill="none"/><path d="M207.5 184.37V193.79M205 184.37H210M205 193.79H210" stroke="#8fcf8f" stroke-width="1.0" fill="none"/><path d="M210.32 184.43V193.88M207.82 184.43H212.82M207.82 193.88H212.82" stroke="#8fcf8f" stroke-width="1.0" fill="none"/><path d="M213.14 184.93V193.67M210.64 184.93H215.64M210.64 193.67H215.64" stroke="#8fcf8f" stroke-width="1.0" fill="none"/><path d="M215.97 184.9V193.59M213.47 184.9H218.47M213.47 193.59H218.47" stroke="#8fcf8f" stroke-width="1.0" fill="none"/><path d="M218.79 185.1V194.32M216.29 185.1H221.29M216.29 194.32H221.29" stroke="#8fcf8f" stroke-width="1.0" fill="none"/><path d="M221.62 185.66V195.18M219.12 185.66H224.12M219.12 195.18H224.12" stroke="#8fcf8f" stroke-width="1.0" fill="none"/><path d="M224.44 184.91V194.07M221.94 184.91H226.94M221.94 194.07H226.94" stroke="#8fcf8f" stroke-width="1.0" fill="none"/><path d="M227.26 188.58V225.68M224.76 188.58H229.76M224.76 225.68H229.76" stroke="#8fcf8f" stroke-width="1.0" fill="none"/><path d="M230.09 175.93V185.78M227.59 175.93H232.59M227.59 185.78H232.59" stroke="#8fcf8f" stroke-width="1.0" fill="none"/><path d="M232.91 183.04V191.75M230.41 183.04H235.41M230.41 191.75H235.41" stroke="#8fcf8f" stroke-width="1.0" fill="none"/><path d="M235.74 183.41V192.3M233.24 183.41H238.24M233.24 192.3H238.24" stroke="#8fcf8f" stroke-width="1.0" fill="none"/><path d="M238.56 184.16V193.38M236.06 184.16H241.06M236.06 193.38H241.06" stroke="#8fcf8f" stroke-width="1.0" fill="none"/><path d="M241.38 184.39V193.68M238.88 184.39H243.88M238.88 193.68H243.88" stroke="#8fcf8f" stroke-width="1.0" fill="none"/><path d="M244.21 185.02V194.85M241.71 185.02H246.71M241.71 194.85H246.71" stroke="#8fcf8f" stroke-width="1.0" fill="none"/><path d="M247.03 184.3V193.62M244.53 184.3H249.53M244.53 193.62H249.53" stroke="#8fcf8f" stroke-width="1.0" fill="none"/><path d="M249.86 184.99V194.47M247.36 184.99H252.36M247.36 194.47H252.36" stroke="#8fcf8f" stroke-width="1.0" fill="none"/><path d="M252.68 185.49V194.61M250.18 185.49H255.18M250.18 194.61H255.18" stroke="#8fcf8f" stroke-width="1.0" fill="none"/><path d="M255.5 177.28V217.01M253 177.28H258M253 217.01H258" stroke="#8fcf8f" stroke-width="1.0" fill="none"/><path d="M258.33 175.93V185.67M255.83 175.93H260.83M255.83 185.67H260.83" stroke="#8fcf8f" stroke-width="1.0" fill="none"/><path d="M261.15 181.78V190.7M258.65 181.78H263.65M258.65 190.7H263.65" stroke="#8fcf8f" stroke-width="1.0" fill="none"/><path d="M263.98 183.3V191.95M261.48 183.3H266.48M261.48 191.95H266.48" stroke="#8fcf8f" stroke-width="1.0" fill="none"/><path d="M266.8 183.33V192.2M264.3 183.33H269.3M264.3 192.2H269.3" stroke="#8fcf8f" stroke-width="1.0" fill="none"/><path d="M269.62 183.98V193M267.12 183.98H272.12M267.12 193H272.12" stroke="#8fcf8f" stroke-width="1.0" fill="none"/><path d="M272.45 183.94V193.76M269.95 183.94H274.95M269.95 193.76H274.95" stroke="#8fcf8f" stroke-width="1.0" fill="none"/><path d="M275.27 183.65V192.53M272.77 183.65H277.77M272.77 192.53H277.77" stroke="#8fcf8f" stroke-width="1.0" fill="none"/><path d="M278.1 183.94V193.37M275.6 183.94H280.6M275.6 193.37H280.6" stroke="#8fcf8f" stroke-width="1.0" fill="none"/><path d="M280.92 184.52V193.96M278.42 184.52H283.42M278.42 193.96H283.42" stroke="#8fcf8f" stroke-width="1.0" fill="none"/><path d="M283.74 184.94V226.82M281.24 184.94H286.24M281.24 226.82H286.24" stroke="#8fcf8f" stroke-width="1.0" fill="none"/><path d="M286.57 169.94V178.6M284.07 169.94H289.07M284.07 178.6H289.07" stroke="#8fcf8f" stroke-width="1.0" fill="none"/><path d="M289.39 181.03V190.67M286.89 181.03H291.89M286.89 190.67H291.89" stroke="#8fcf8f" stroke-width="1.0" fill="none"/><path d="M292.22 182.12V191.11M289.72 182.12H294.72M289.72 191.11H294.72" stroke="#8fcf8f" stroke-width="1.0" fill="none"/><path d="M295.04 183.05V191.69M292.54 183.05H297.54M292.54 191.69H297.54" stroke="#8fcf8f" stroke-width="1.0" fill="none"/><path d="M297.86 183.73V193.16M295.36 183.73H300.36M295.36 193.16H300.36" stroke="#8fcf8f" stroke-width="1.0" fill="none"/><path d="M300.69 183.42V193.17M298.19 183.42H303.19M298.19 193.17H303.19" stroke="#8fcf8f" stroke-width="1.0" fill="none"/><path d="M303.51 183.64V193M301.01 183.64H306.01M301.01 193H306.01" stroke="#8fcf8f" stroke-width="1.0" fill="none"/><path d="M306.34 183.27V191.83M303.84 183.27H308.84M303.84 191.83H308.84" stroke="#8fcf8f" stroke-width="1.0" fill="none"/><path d="M309.16 183.33V193.27M306.66 183.33H311.66M306.66 193.27H311.66" stroke="#8fcf8f" stroke-width="1.0" fill="none"/><path d="M311.98 179.77V214.51M309.48 179.77H314.48M309.48 214.51H314.48" stroke="#8fcf8f" stroke-width="1.0" fill="none"/><path d="M314.81 176.93V186.37M312.31 176.93H317.31M312.31 186.37H317.31" stroke="#8fcf8f" stroke-width="1.0" fill="none"/><path d="M317.63 180.79V190.36M315.13 180.79H320.13M315.13 190.36H320.13" stroke="#8fcf8f" stroke-width="1.0" fill="none"/><path d="M320.46 181.98V190.86M317.96 181.98H322.96M317.96 190.86H322.96" stroke="#8fcf8f" stroke-width="1.0" fill="none"/><path d="M323.28 181.89V190.99M320.78 181.89H325.78M320.78 190.99H325.78" stroke="#8fcf8f" stroke-width="1.0" fill="none"/><path d="M326.1 183.4V192.38M323.6 183.4H328.6M323.6 192.38H328.6" stroke="#8fcf8f" stroke-width="1.0" fill="none"/><path d="M328.93 183.53V192.16M326.43 183.53H331.43M326.43 192.16H331.43" stroke="#8fcf8f" stroke-width="1.0" fill="none"/><path d="M331.75 183.14V191.72M329.25 183.14H334.25M329.25 191.72H334.25" stroke="#8fcf8f" stroke-width="1.0" fill="none"/><path d="M334.58 183.2V192.75M332.08 183.2H337.08M332.08 192.75H337.08" stroke="#8fcf8f" stroke-width="1.0" fill="none"/><path d="M337.4 183.87V192.97M334.9 183.87H339.9M334.9 192.97H339.9" stroke="#8fcf8f" stroke-width="1.0" fill="none"/>
<path d="M57.82 198.54L61.62 205.2L54.02 205.2Z" fill="#2ca02c"/><path d="M60.65 179.32L64.45 185.98L56.85 185.98Z" fill="#2ca02c"/><path d="M63.47 184.26L67.27 190.92L59.67 190.92Z" fill="#2ca02c"/><path d="M66.3 185.03L70.1 191.69L62.5 191.69Z" fill="#2ca02c"/><path d="M69.12 186.21L72.92 192.87L65.32 192.87Z" fill="#2ca02c"/><path d="M71.94 185.99L75.74 192.65L68.14 192.65Z" fill="#2ca02c"/><path d="M74.77 186.22L78.57 192.88L70.97 192.88Z" fill="#2ca02c"/><path d="M77.59 186.62L81.39 193.28L73.79 193.28Z" fill="#2ca02c"/><path d="M80.42 186.38L84.22 193.04L76.62 193.04Z" fill="#2ca02c"/><path d="M83.24 186.49L87.04 193.15L79.44 193.15Z" fill="#2ca02c"/><path d="M86.06 197.79L89.86 204.45L82.26 204.45Z" fill="#2ca02c"/><path d="M88.89 181.57L92.69 188.23L85.09 188.23Z" fill="#2ca02c"/><path d="M91.71 182.29L95.51 188.95L87.91 188.95Z" fill="#2ca02c"/><path d="M94.54 183.15L98.34 189.81L90.74 189.81Z" fill="#2ca02c"/><path d="M97.36 184.19L101.16 190.85L93.56 190.85Z" fill="#2ca02c"/><path d="M100.18 183.75L103.98 190.41L96.38 190.41Z" fill="#2ca02c"/><path d="M103.01 183.89L106.81 190.55L99.21 190.55Z" fill="#2ca02c"/><path d="M105.83 184.64L109.63 191.3L102.03 191.3Z" fill="#2ca02c"/><path d="M108.66 184.49L112.46 191.15L104.86 191.15Z" fill="#2ca02c"/><path d="M111.48 184.54L115.28 191.2L107.68 191.2Z" fill="#2ca02c"/><path d="M114.3 207.02L118.1 213.68L110.5 213.68Z" fill="#2ca02c"/><path d="M117.13 172.08L120.93 178.74L113.33 178.74Z" fill="#2ca02c"/><path d="M119.95 181.03L123.75 187.69L116.15 187.69Z" fill="#2ca02c"/><path d="M122.78 182.6L126.58 189.26L118.98 189.26Z" fill="#2ca02c"/><path d="M125.6 182.43L129.4 189.09L121.8 189.09Z" fill="#2ca02c"/><path d="M128.42 183.07L132.22 189.73L124.62 189.73Z" fill="#2ca02c"/><path d="M131.25 183.23L135.05 189.89L127.45 189.89Z" fill="#2ca02c"/><path d="M134.07 183.71L137.87 190.37L130.27 190.37Z" fill="#2ca02c"/><path d="M136.9 183.58L140.7 190.24L133.1 190.24Z" fill="#2ca02c"/><path d="M139.72 183.47L143.52 190.13L135.92 190.13Z" fill="#2ca02c"/><path d="M142.54 196.04L146.34 202.7L138.74 202.7Z" fill="#2ca02c"/><path d="M145.37 172.08L149.17 178.74L141.57 178.74Z" fill="#2ca02c"/><path d="M148.19 180.4L151.99 187.06L144.39 187.06Z" fill="#2ca02c"/><path d="M151.02 181.17L154.82 187.83L147.22 187.83Z" fill="#2ca02c"/><path d="M153.84 182.62L157.64 189.28L150.04 189.28Z" fill="#2ca02c"/><path d="M156.66 182.85L160.46 189.51L152.86 189.51Z" fill="#2ca02c"/><path d="M159.49 182.76L163.29 189.42L155.69 189.42Z" fill="#2ca02c"/><path d="M162.31 182.68L166.11 189.34L158.51 189.34Z" fill="#2ca02c"/><path d="M165.14 183.33L168.94 189.99L161.34 189.99Z" fill="#2ca02c"/><path d="M167.96 182.83L171.76 189.49L164.16 189.49Z" fill="#2ca02c"/><path d="M170.78 204.77L174.58 211.43L166.98 211.43Z" fill="#2ca02c"/><path d="M173.61 169.84L177.41 176.5L169.81 176.5Z" fill="#2ca02c"/><path d="M176.43 179.65L180.23 186.31L172.63 186.31Z" fill="#2ca02c"/><path d="M179.26 181.27L183.06 187.93L175.46 187.93Z" fill="#2ca02c"/><path d="M182.08 181.32L185.88 187.98L178.28 187.98Z" fill="#2ca02c"/><path d="M184.9 182.02L188.7 188.68L181.1 188.68Z" fill="#2ca02c"/><path d="M187.73 182.5L191.53 189.16L183.93 189.16Z" fill="#2ca02c"/><path d="M190.55 182.57L194.35 189.23L186.75 189.23Z" fill="#2ca02c"/><path d="M193.38 182.46L197.18 189.12L189.58 189.12Z" fill="#2ca02c"/><path d="M196.2 182.71L200 189.37L192.4 189.37Z" fill="#2ca02c"/><path d="M199.02 194.79L202.82 201.45L195.22 201.45Z" fill="#2ca02c"/><path d="M201.85 173.08L205.65 179.74L198.05 179.74Z" fill="#2ca02c"/><path d="M204.67 179.7L208.47 186.36L200.87 186.36Z" fill="#2ca02c"/><path d="M207.5 180.77L211.3 187.43L203.7 187.43Z" fill="#2ca02c"/><path d="M210.32 180.83L214.12 187.49L206.52 187.49Z" fill="#2ca02c"/><path d="M213.14 181.33L216.94 187.99L209.34 187.99Z" fill="#2ca02c"/><path d="M215.97 181.3L219.77 187.96L212.17 187.96Z" fill="#2ca02c"/><path d="M218.79 181.5L222.59 188.16L214.99 188.16Z" fill="#2ca02c"/><path d="M221.62 182.06L225.42 188.72L217.82 188.72Z" fill="#2ca02c"/><path d="M224.44 181.31L228.24 187.97L220.64 187.97Z" fill="#2ca02c"/><path d="M227.26 203.53L231.06 210.19L223.46 210.19Z" fill="#2ca02c"/><path d="M230.09 172.33L233.89 178.99L226.29 178.99Z" fill="#2ca02c"/><path d="M232.91 179.44L236.71 186.1L229.11 186.1Z" fill="#2ca02c"/><path d="M235.74 179.81L239.54 186.47L231.94 186.47Z" fill="#2ca02c"/><path d="M238.56 180.56L242.36 187.22L234.76 187.22Z" fill="#2ca02c"/><path d="M241.38 180.79L245.18 187.45L237.58 187.45Z" fill="#2ca02c"/><path d="M244.21 181.42L248.01 188.08L240.41 188.08Z" fill="#2ca02c"/><path d="M247.03 180.7L250.83 187.36L243.23 187.36Z" fill="#2ca02c"/><path d="M249.86 181.39L253.66 188.05L246.06 188.05Z" fill="#2ca02c"/><path d="M252.68 181.89L256.48 188.55L248.88 188.55Z" fill="#2ca02c"/><path d="M255.5 193.54L259.3 200.2L251.7 200.2Z" fill="#2ca02c"/><path d="M258.33 172.33L262.13 178.99L254.53 178.99Z" fill="#2ca02c"/><path d="M261.15 178.18L264.95 184.84L257.35 184.84Z" fill="#2ca02c"/><path d="M263.98 179.7L267.78 186.36L260.18 186.36Z" fill="#2ca02c"/><path d="M266.8 179.73L270.6 186.39L263 186.39Z" fill="#2ca02c"/><path d="M269.62 180.38L273.42 187.04L265.82 187.04Z" fill="#2ca02c"/><path d="M272.45 180.34L276.25 187L268.65 187Z" fill="#2ca02c"/><path d="M275.27 180.05L279.07 186.71L271.47 186.71Z" fill="#2ca02c"/><path d="M278.1 180.34L281.9 187L274.3 187Z" fill="#2ca02c"/><path d="M280.92 180.92L284.72 187.58L277.12 187.58Z" fill="#2ca02c"/><path d="M283.74 202.28L287.54 208.94L279.94 208.94Z" fill="#2ca02c"/><path d="M286.57 166.34L290.37 173L282.77 173Z" fill="#2ca02c"/><path d="M289.39 177.43L293.19 184.09L285.59 184.09Z" fill="#2ca02c"/><path d="M292.22 178.52L296.02 185.18L288.42 185.18Z" fill="#2ca02c"/><path d="M295.04 179.45L298.84 186.11L291.24 186.11Z" fill="#2ca02c"/><path d="M297.86 180.13L301.66 186.79L294.06 186.79Z" fill="#2ca02c"/><path d="M300.69 179.82L304.49 186.48L296.89 186.48Z" fill="#2ca02c"/><path d="M303.51 180.04L307.31 186.7L299.71 186.7Z" fill="#2ca02c"/><path d="M306.34 179.67L310.14 186.33L302.54 186.33Z" fill="#2ca02c"/><path d="M309.16 179.73L312.96 186.39L305.36 186.39Z" fill="#2ca02c"/><path d="M311.98 193.54L315.78 200.2L308.18 200.2Z" fill="#2ca02c"/><path d="M314.81 173.33L318.61 179.99L311.01 179.99Z" fill="#2ca02c"/><path d="M317.63 177.19L321.43 183.85L313.83 183.85Z" fill="#2ca02c"/><path d="M320.46 178.38L324.26 185.04L316.66 185.04Z" fill="#2ca02c"/><path d="M323.28 178.29L327.08 184.95L319.48 184.95Z" fill="#2ca02c"/><path d="M326.1 179.8L329.9 186.46L322.3 186.46Z" fill="#2ca02c"/><path d="M328.93 179.93L332.73 186.59L325.13 186.59Z" fill="#2ca02c"/><path d="M331.75 179.54L335.55 186.2L327.95 186.2Z" fill="#2ca02c"/><path d="M334.58 179.6L338.38 186.26L330.78 186.26Z" fill="#2ca02c"/><path d="M337.4 180.27L341.2 186.93L333.6 186.93Z" fill="#2ca02c"/>
<path d="M57.82 152.22V209.12M55.32 152.22H60.32M55.32 209.12H60.32" stroke="#ffb985" stroke-width="1.0" fill="none"/><path d="M66.3 62.13V148.79M63.8 62.13H68.8M63.8 148.79H68.8" stroke="#ffb985" stroke-width="1.0" fill="none"/><path d="M74.77 65.13V150.35M72.27 65.13H77.27M72.27 150.35H77.27" stroke="#ffb985" stroke-width="1.0" fill="none"/><path d="M83.24 73.61V146.62M80.74 73.61H85.74M80.74 146.62H85.74" stroke="#ffb985" stroke-width="1.0" fill="none"/><path d="M91.71 77.36V146.07M89.21 77.36H94.21M89.21 146.07H94.21" stroke="#ffb985" stroke-width="1.0" fill="none"/><path d="M100.18 80.85V150.87M97.68 80.85H102.68M97.68 150.87H102.68" stroke="#ffb985" stroke-width="1.0" fill="none"/><path d="M108.66 86.09V152.68M106.16 86.09H111.16M106.16 152.68H111.16" stroke="#ffb985" stroke-width="1.0" fill="none"/><path d="M117.13 84.84V149.68M114.63 84.84H119.63M114.63 149.68H119.63" stroke="#ffb985" stroke-width="1.0" fill="none"/><path d="M125.6 96.32V150.04M123.1 96.32H128.1M123.1 150.04H128.1" stroke="#ffb985" stroke-width="1.0" fill="none"/><path d="M134.07 96.32V152.91M131.57 96.32H136.57M131.57 152.91H136.57" stroke="#ffb985" stroke-width="1.0" fill="none"/><path d="M142.54 88.59V199.39M140.04 88.59H145.04M140.04 199.39H145.04" stroke="#ffb985" stroke-width="1.0" fill="none"/><path d="M151.02 94.82V157.47M148.52 94.82H153.52M148.52 157.47H153.52" stroke="#ffb985" stroke-width="1.0" fill="none"/><path d="M159.49 92.83V157.58M156.99 92.83H161.99M156.99 157.58H161.99" stroke="#ffb985" stroke-width="1.0" fill="none"/><path d="M167.96 102.31V148.26M165.46 102.31H170.46M165.46 148.26H170.46" stroke="#ffb985" stroke-width="1.0" fill="none"/><path d="M176.43 96.57V140.57M173.93 96.57H178.93M173.93 140.57H178.93" stroke="#ffb985" stroke-width="1.0" fill="none"/><path d="M184.9 102.31V142.81M182.4 102.31H187.4M182.4 142.81H187.4" stroke="#ffb985" stroke-width="1.0" fill="none"/><path d="M193.38 96.57V149.97M190.88 96.57H195.88M190.88 149.97H195.88" stroke="#ffb985" stroke-width="1.0" fill="none"/><path d="M201.85 98.57V144.74M199.35 98.57H204.35M199.35 144.74H204.35" stroke="#ffb985" stroke-width="1.0" fill="none"/><path d="M210.32 97.32V141.19M207.82 97.32H212.82M207.82 141.19H212.82" stroke="#ffb985" stroke-width="1.0" fill="none"/><path d="M218.79 91.33V149.77M216.29 91.33H221.29M216.29 149.77H221.29" stroke="#ffb985" stroke-width="1.0" fill="none"/><path d="M227.26 195.4V208.87M224.76 195.4H229.76M224.76 208.87H229.76" stroke="#ffb985" stroke-width="1.0" fill="none"/><path d="M235.74 86.59V140.9M233.24 86.59H238.24M233.24 140.9H238.24" stroke="#ffb985" stroke-width="1.0" fill="none"/><path d="M244.21 90.08V146.5M241.71 90.08H246.71M241.71 146.5H246.71" stroke="#ffb985" stroke-width="1.0" fill="none"/><path d="M252.68 80.1V148.1M250.18 80.1H255.18M250.18 148.1H255.18" stroke="#ffb985" stroke-width="1.0" fill="none"/><path d="M261.15 88.59V140.95M258.65 88.59H263.65M258.65 140.95H263.65" stroke="#ffb985" stroke-width="1.0" fill="none"/><path d="M269.62 86.59V142.04M267.12 86.59H272.12M267.12 142.04H272.12" stroke="#ffb985" stroke-width="1.0" fill="none"/><path d="M278.1 88.34V138.9M275.6 88.34H280.6M275.6 138.9H280.6" stroke="#ffb985" stroke-width="1.0" fill="none"/><path d="M286.57 64.38V133.54M284.07 64.38H289.07M284.07 133.54H289.07" stroke="#ffb985" stroke-width="1.0" fill="none"/><path d="M295.04 76.61V143.05M292.54 76.61H297.54M292.54 143.05H297.54" stroke="#ffb985" stroke-width="1.0" fill="none"/><path d="M303.51 75.61V141.93M301.01 75.61H306.01M301.01 141.93H306.01" stroke="#ffb985" stroke-width="1.0" fill="none"/><path d="M311.98 57.14V197.89M309.48 57.14H314.48M309.48 197.89H314.48" stroke="#ffb985" stroke-width="1.0" fill="none"/><path d="M320.46 76.61V136.4M317.96 76.61H322.96M317.96 136.4H322.96" stroke="#ffb985" stroke-width="1.0" fill="none"/><path d="M328.93 76.61V136.05M326.43 76.61H331.43M326.43 136.05H331.43" stroke="#ffb985" stroke-width="1.0" fill="none"/><path d="M337.4 195.9V208.37M334.9 195.9H339.9M334.9 208.37H339.9" stroke="#ffb985" stroke-width="1.0" fill="none"/>
<path d="M57.82 176.57L61.92 180.67L57.82 184.77L53.72 180.67Z" fill="#ff7f0e"/><path d="M60.65 92.34L64.75 96.44L60.65 100.54L56.55 96.44Z" fill="#ff7f0e"/><path d="M63.47 100.24L67.57 104.34L63.47 108.44L59.37 104.34Z" fill="#ff7f0e"/><path d="M66.3 101.36L70.4 105.46L66.3 109.56L62.2 105.46Z" fill="#ff7f0e"/><path d="M69.12 103.07L73.22 107.17L69.12 111.27L65.02 107.17Z" fill="#ff7f0e"/><path d="M71.94 104.05L76.04 108.15L71.94 112.25L67.84 108.15Z" fill="#ff7f0e"/><path d="M74.77 103.64L78.87 107.74L74.77 111.84L70.67 107.74Z" fill="#ff7f0e"/><path d="M77.59 105.72L81.69 109.82L77.59 113.92L73.49 109.82Z" fill="#ff7f0e"/><path d="M80.42 105.16L84.52 109.26L80.42 113.36L76.32 109.26Z" fill="#ff7f0e"/><path d="M83.24 106.02L87.34 110.12L83.24 114.22L79.14 110.12Z" fill="#ff7f0e"/><path d="M86.06 124.66L90.16 128.76L86.06 132.86L81.96 128.76Z" fill="#ff7f0e"/><path d="M88.89 108.48L92.99 112.58L88.89 116.68L84.79 112.58Z" fill="#ff7f0e"/><path d="M91.71 107.61L95.81 111.71L91.71 115.81L87.61 111.71Z" fill="#ff7f0e"/><path d="M94.54 109.45L98.64 113.55L94.54 117.65L90.44 113.55Z" fill="#ff7f0e"/><path d="M97.36 110.38L101.46 114.48L97.36 118.58L93.26 114.48Z" fill="#ff7f0e"/><path d="M100.18 111.76L104.28 115.86L100.18 119.96L96.08 115.86Z" fill="#ff7f0e"/><path d="M103.01 111.43L107.11 115.53L103.01 119.63L98.91 115.53Z" fill="#ff7f0e"/><path d="M105.83 113.7L109.93 117.8L105.83 121.9L101.73 117.8Z" fill="#ff7f0e"/><path d="M108.66 115.29L112.76 119.39L108.66 123.49L104.56 119.39Z" fill="#ff7f0e"/><path d="M111.48 115.98L115.58 120.08L111.48 124.18L107.38 120.08Z" fill="#ff7f0e"/><path d="M114.3 195.54L118.4 199.64L114.3 203.74L110.2 199.64Z" fill="#ff7f0e"/><path d="M117.13 113.16L121.23 117.26L117.13 121.36L113.03 117.26Z" fill="#ff7f0e"/><path d="M119.95 116.56L124.05 120.66L119.95 124.76L115.85 120.66Z" fill="#ff7f0e"/><path d="M122.78 119.89L126.88 123.99L122.78 128.09L118.68 123.99Z" fill="#ff7f0e"/><path d="M125.6 119.08L129.7 123.18L125.6 127.28L121.5 123.18Z" fill="#ff7f0e"/><path d="M128.42 119.27L132.52 123.37L128.42 127.47L124.32 123.37Z" fill="#ff7f0e"/><path d="M131.25 121.39L135.35 125.49L131.25 129.59L127.15 125.49Z" fill="#ff7f0e"/><path d="M134.07 120.52L138.17 124.62L134.07 128.72L129.97 124.62Z" fill="#ff7f0e"/><path d="M136.9 121.39L141 125.49L136.9 129.59L132.8 125.49Z" fill="#ff7f0e"/><path d="M139.72 120.19L143.82 124.29L139.72 128.39L135.62 124.29Z" fill="#ff7f0e"/><path d="M142.54 139.89L146.64 143.99L142.54 148.09L138.44 143.99Z" fill="#ff7f0e"/><path d="M145.37 121.79L149.47 125.89L145.37 129.99L141.27 125.89Z" fill="#ff7f0e"/><path d="M148.19 121.77L152.29 125.87L148.19 129.97L144.09 125.87Z" fill="#ff7f0e"/><path d="M151.02 122.05L155.12 126.15L151.02 130.25L146.92 126.15Z" fill="#ff7f0e"/><path d="M153.84 120.2L157.94 124.3L153.84 128.4L149.74 124.3Z" fill="#ff7f0e"/><path d="M156.66 121.78L160.76 125.88L156.66 129.98L152.56 125.88Z" fill="#ff7f0e"/><path d="M159.49 121.1L163.59 125.2L159.49 129.3L155.39 125.2Z" fill="#ff7f0e"/><path d="M162.31 121.43L166.41 125.53L162.31 129.63L158.21 125.53Z" fill="#ff7f0e"/><path d="M165.14 121.07L169.24 125.17L165.14 129.27L161.04 125.17Z" fill="#ff7f0e"/><path d="M167.96 121.19L172.06 125.29L167.96 129.39L163.86 125.29Z" fill="#ff7f0e"/><path d="M170.78 196.79L174.88 200.89L170.78 204.99L166.68 200.89Z" fill="#ff7f0e"/><path d="M173.61 113.54L177.71 117.64L173.61 121.74L169.51 117.64Z" fill="#ff7f0e"/><path d="M176.43 114.47L180.53 118.57L176.43 122.67L172.33 118.57Z" fill="#ff7f0e"/><path d="M179.26 117.87L183.36 121.97L179.26 126.07L175.16 121.97Z" fill="#ff7f0e"/><path d="M182.08 117.68L186.18 121.78L182.08 125.88L177.98 121.78Z" fill="#ff7f0e"/><path d="M184.9 118.46L189 122.56L184.9 126.66L180.8 122.56Z" fill="#ff7f0e"/><path d="M187.73 118.88L191.83 122.98L187.73 127.08L183.63 122.98Z" fill="#ff7f0e"/><path d="M190.55 118.69L194.65 122.79L190.55 126.89L186.45 122.79Z" fill="#ff7f0e"/><path d="M193.38 119.17L197.48 123.27L193.38 127.37L189.28 123.27Z" fill="#ff7f0e"/><path d="M196.2 119.74L200.3 123.84L196.2 127.94L192.1 123.84Z" fill="#ff7f0e"/><path d="M199.02 139.39L203.12 143.49L199.02 147.59L194.92 143.49Z" fill="#ff7f0e"/><path d="M201.85 117.56L205.95 121.66L201.85 125.76L197.75 121.66Z" fill="#ff7f0e"/><path d="M204.67 117.97L208.77 122.07L204.67 126.17L200.57 122.07Z" fill="#ff7f0e"/><path d="M207.5 116.55L211.6 120.65L207.5 124.75L203.4 120.65Z" fill="#ff7f0e"/><path d="M210.32 115.16L214.42 119.26L210.32 123.36L206.22 119.26Z" fill="#ff7f0e"/><path d="M213.14 113.19L217.24 117.29L213.14 121.39L209.04 117.29Z" fill="#ff7f0e"/><path d="M215.97 112.31L220.07 116.41L215.97 120.51L211.87 116.41Z" fill="#ff7f0e"/><path d="M218.79 116.45L222.89 120.55L218.79 124.65L214.69 120.55Z" fill="#ff7f0e"/><path d="M221.62 121.01L225.72 125.11L221.62 129.21L217.52 125.11Z" fill="#ff7f0e"/><path d="M224.44 119.05L228.54 123.15L224.44 127.25L220.34 123.15Z" fill="#ff7f0e"/><path d="M227.26 198.04L231.36 202.14L227.26 206.24L223.16 202.14Z" fill="#ff7f0e"/><path d="M230.09 106.28L234.19 110.38L230.09 114.48L225.99 110.38Z" fill="#ff7f0e"/><path d="M232.91 107.73L237.01 111.83L232.91 115.93L228.81 111.83Z" fill="#ff7f0e"/><path d="M235.74 109.64L239.84 113.74L235.74 117.84L231.64 113.74Z" fill="#ff7f0e"/><path d="M238.56 111.31L242.66 115.41L238.56 119.51L234.46 115.41Z" fill="#ff7f0e"/><path d="M241.38 111.68L245.48 115.78L241.38 119.88L237.28 115.78Z" fill="#ff7f0e"/><path d="M244.21 114.19L248.31 118.29L244.21 122.39L240.11 118.29Z" fill="#ff7f0e"/><path d="M247.03 111.81L251.13 115.91L247.03 120.01L242.93 115.91Z" fill="#ff7f0e"/><path d="M249.86 108.4L253.96 112.5L249.86 116.6L245.76 112.5Z" fill="#ff7f0e"/><path d="M252.68 110L256.78 114.1L252.68 118.2L248.58 114.1Z" fill="#ff7f0e"/><path d="M255.5 135.65L259.6 139.75L255.5 143.85L251.4 139.75Z" fill="#ff7f0e"/><path d="M258.33 108.82L262.43 112.92L258.33 117.02L254.23 112.92Z" fill="#ff7f0e"/><path d="M261.15 110.67L265.25 114.77L261.15 118.87L257.05 114.77Z" fill="#ff7f0e"/><path d="M263.98 109.06L268.08 113.16L263.98 117.26L259.88 113.16Z" fill="#ff7f0e"/><path d="M266.8 109.5L270.9 113.6L266.8 117.7L262.7 113.6Z" fill="#ff7f0e"/><path d="M269.62 110.22L273.72 114.32L269.62 118.42L265.52 114.32Z" fill="#ff7f0e"/><path d="M272.45 110.67L276.55 114.77L272.45 118.87L268.35 114.77Z" fill="#ff7f0e"/><path d="M275.27 109.68L279.37 113.78L275.27 117.88L271.17 113.78Z" fill="#ff7f0e"/><path d="M278.1 109.52L282.2 113.62L278.1 117.72L274 113.62Z" fill="#ff7f0e"/><path d="M280.92 111.37L285.02 115.47L280.92 119.57L276.82 115.47Z" fill="#ff7f0e"/><path d="M283.74 196.79L287.84 200.89L283.74 204.99L279.64 200.89Z" fill="#ff7f0e"/><path d="M286.57 94.86L290.67 98.96L286.57 103.06L282.47 98.96Z" fill="#ff7f0e"/><path d="M289.39 106.45L293.49 110.55L289.39 114.65L285.29 110.55Z" fill="#ff7f0e"/><path d="M292.22 106.08L296.32 110.18L292.22 114.28L288.12 110.18Z" fill="#ff7f0e"/><path d="M295.04 105.73L299.14 109.83L295.04 113.93L290.94 109.83Z" fill="#ff7f0e"/><path d="M297.86 104.01L301.96 108.11L297.86 112.21L293.76 108.11Z" fill="#ff7f0e"/><path d="M300.69 103.25L304.79 107.35L300.69 111.45L296.59 107.35Z" fill="#ff7f0e"/><path d="M303.51 104.67L307.61 108.77L303.51 112.87L299.41 108.77Z" fill="#ff7f0e"/><path d="M306.34 104.06L310.44 108.16L306.34 112.26L302.24 108.16Z" fill="#ff7f0e"/><path d="M309.16 102.48L313.26 106.58L309.16 110.68L305.06 106.58Z" fill="#ff7f0e"/><path d="M311.98 123.42L316.08 127.52L311.98 131.62L307.88 127.52Z" fill="#ff7f0e"/><path d="M314.81 102.69L318.91 106.79L314.81 110.89L310.71 106.79Z" fill="#ff7f0e"/><path d="M317.63 104.04L321.73 108.14L317.63 112.24L313.53 108.14Z" fill="#ff7f0e"/><path d="M320.46 102.4L324.56 106.5L320.46 110.6L316.36 106.5Z" fill="#ff7f0e"/><path d="M323.28 101.75L327.38 105.85L323.28 109.95L319.18 105.85Z" fill="#ff7f0e"/><path d="M326.1 101.63L330.2 105.73L326.1 109.83L322 105.73Z" fill="#ff7f0e"/><path d="M328.93 102.23L333.03 106.33L328.93 110.43L324.83 106.33Z" fill="#ff7f0e"/><path d="M331.75 103.62L335.85 107.72L331.75 111.82L327.65 107.72Z" fill="#ff7f0e"/><path d="M334.58 101.76L338.68 105.86L334.58 109.96L330.48 105.86Z" fill="#ff7f0e"/><path d="M337.4 198.04L341.5 202.14L337.4 206.24L333.3 202.14Z" fill="#ff7f0e"/>
<path d="M57.82 210.07V215.67M55.32 210.07H60.32M55.32 215.67H60.32" stroke="#c6aedd" stroke-width="1.0" fill="none"/><path d="M60.65 209.26V212.44M58.15 209.26H63.15M58.15 212.44H63.15" stroke="#c6aedd" stroke-width="1.0" fill="none"/><path d="M63.47 208.77V212.67M60.97 208.77H65.97M60.97 212.67H65.97" stroke="#c6aedd" stroke-width="1.0" fill="none"/><path d="M66.3 209.02V212.56M63.8 209.02H68.8M63.8 212.56H68.8" stroke="#c6aedd" stroke-width="1.0" fill="none"/><path d="M69.12 207.51V213.33M66.62 207.51H71.62M66.62 213.33H71.62" stroke="#c6aedd" stroke-width="1.0" fill="none"/><path d="M71.94 207.09V212.45M69.44 207.09H74.44M69.44 212.45H74.44" stroke="#c6aedd" stroke-width="1.0" fill="none"/><path d="M74.77 207.12V212.8M72.27 207.12H77.27M72.27 212.8H77.27" stroke="#c6aedd" stroke-width="1.0" fill="none"/><path d="M77.59 207.15V211.66M75.09 207.15H80.09M75.09 211.66H80.09" stroke="#c6aedd" stroke-width="1.0" fill="none"/><path d="M80.42 207.6V210.9M77.92 207.6H82.92M77.92 210.9H82.92" stroke="#c6aedd" stroke-width="1.0" fill="none"/><path d="M83.24 207.01V211.25M80.74 207.01H85.74M80.74 211.25H85.74" stroke="#c6aedd" stroke-width="1.0" fill="none"/><path d="M86.06 206.74V210.41M83.56 206.74H88.56M83.56 210.41H88.56" stroke="#c6aedd" stroke-width="1.0" fill="none"/><path d="M88.89 207.11V210.19M86.39 207.11H91.39M86.39 210.19H91.39" stroke="#c6aedd" stroke-width="1.0" fill="none"/><path d="M91.71 206.05V210.73M89.21 206.05H94.21M89.21 210.73H94.21" stroke="#c6aedd" stroke-width="1.0" fill="none"/><path d="M94.54 206.08V209.94M92.04 206.08H97.04M92.04 209.94H97.04" stroke="#c6aedd" stroke-width="1.0" fill="none"/><path d="M97.36 206.32V209.63M94.86 206.32H99.86M94.86 209.63H99.86" stroke="#c6aedd" stroke-width="1.0" fill="none"/><path d="M100.18 205.5V210.03M97.68 205.5H102.68M97.68 210.03H102.68" stroke="#c6aedd" stroke-width="1.0" fill="none"/><path d="M103.01 204.34V210.13M100.51 204.34H105.51M100.51 210.13H105.51" stroke="#c6aedd" stroke-width="1.0" fill="none"/><path d="M105.83 204.01V209.83M103.33 204.01H108.33M103.33 209.83H108.33" stroke="#c6aedd" stroke-width="1.0" fill="none"/><path d="M108.66 204.42V208.81M106.16 204.42H111.16M106.16 208.81H111.16" stroke="#c6aedd" stroke-width="1.0" fill="none"/><path d="M111.48 205.2V208.5M108.98 205.2H113.98M108.98 208.5H113.98" stroke="#c6aedd" stroke-width="1.0" fill="none"/><path d="M114.3 207.51V212.81M111.8 207.51H116.8M111.8 212.81H116.8" stroke="#c6aedd" stroke-width="1.0" fill="none"/><path d="M117.13 204.57V207.91M114.63 204.57H119.63M114.63 207.91H119.63" stroke="#c6aedd" stroke-width="1.0" fill="none"/><path d="M119.95 203.52V208.12M117.45 203.52H122.45M117.45 208.12H122.45" stroke="#c6aedd" stroke-width="1.0" fill="none"/><path d="M122.78 204.01V207.26M120.28 204.01H125.28M120.28 207.26H125.28" stroke="#c6aedd" stroke-width="1.0" fill="none"/><path d="M125.6 202.14V208.09M123.1 202.14H128.1M123.1 208.09H128.1" stroke="#c6aedd" stroke-width="1.0" fill="none"/><path d="M128.42 202.9V207.52M125.92 202.9H130.92M125.92 207.52H130.92" stroke="#c6aedd" stroke-width="1.0" fill="none"/><path d="M131.25 202.99V207.3M128.75 202.99H133.75M128.75 207.3H133.75" stroke="#c6aedd" stroke-width="1.0" fill="none"/><path d="M134.07 202.68V206.49M131.57 202.68H136.57M131.57 206.49H136.57" stroke="#c6aedd" stroke-width="1.0" fill="none"/><path d="M136.9 202.42V207.07M134.4 202.42H139.4M134.4 207.07H139.4" stroke="#c6aedd" stroke-width="1.0" fill="none"/><path d="M139.72 201.33V207.24M137.22 201.33H142.22M137.22 207.24H142.22" stroke="#c6aedd" stroke-width="1.0" fill="none"/><path d="M142.54 205.79V210.07M140.04 205.79H145.04M140.04 210.07H145.04" stroke="#c6aedd" stroke-width="1.0" fill="none"/><path d="M145.37 201.96V205.58M142.87 201.96H147.87M142.87 205.58H147.87" stroke="#c6aedd" stroke-width="1.0" fill="none"/><path d="M148.19 201.54V206.08M145.69 201.54H150.69M145.69 206.08H150.69" stroke="#c6aedd" stroke-width="1.0" fill="none"/><path d="M151.02 200.73V206.47M148.52 200.73H153.52M148.52 206.47H153.52" stroke="#c6aedd" stroke-width="1.0" fill="none"/><path d="M153.84 201.57V205.71M151.34 201.57H156.34M151.34 205.71H156.34" stroke="#c6aedd" stroke-width="1.0" fill="none"/><path d="M156.66 200.85V205.74M154.16 200.85H159.16M154.16 205.74H159.16" stroke="#c6aedd" stroke-width="1.0" fill="none"/><path d="M159.49 200.43V206.17M156.99 200.43H161.99M156.99 206.17H161.99" stroke="#c6aedd" stroke-width="1.0" fill="none"/><path d="M162.31 200.84V204.81M159.81 200.84H164.81M159.81 204.81H164.81" stroke="#c6aedd" stroke-width="1.0" fill="none"/><path d="M165.14 200.09V205.51M162.64 200.09H167.64M162.64 205.51H167.64" stroke="#c6aedd" stroke-width="1.0" fill="none"/><path d="M167.96 200.56V205.14M165.46 200.56H170.46M165.46 205.14H170.46" stroke="#c6aedd" stroke-width="1.0" fill="none"/><path d="M170.78 204.73V208.14M168.28 204.73H173.28M168.28 208.14H173.28" stroke="#c6aedd" stroke-width="1.0" fill="none"/><path d="M173.61 200.93V204.08M171.11 200.93H176.11M171.11 204.08H176.11" stroke="#c6aedd" stroke-width="1.0" fill="none"/><path d="M176.43 199.28V205.08M173.93 199.28H178.93M173.93 205.08H178.93" stroke="#c6aedd" stroke-width="1.0" fill="none"/><path d="M179.26 200.22V204.61M176.76 200.22H181.76M176.76 204.61H181.76" stroke="#c6aedd" stroke-width="1.0" fill="none"/><path d="M182.08 199.83V204.15M179.58 199.83H184.58M179.58 204.15H184.58" stroke="#c6aedd" stroke-width="1.0" fill="none"/><path d="M184.9 199.05V204.79M182.4 199.05H187.4M182.4 204.79H187.4" stroke="#c6aedd" stroke-width="1.0" fill="none"/><path d="M187.73 199.8V204.51M185.23 199.8H190.23M185.23 204.51H190.23" stroke="#c6aedd" stroke-width="1.0" fill="none"/><path d="M190.55 199.46V203.95M188.05 199.46H193.05M188.05 203.95H193.05" stroke="#c6aedd" stroke-width="1.0" fill="none"/><path d="M193.38 200.02V203.87M190.88 200.02H195.88M190.88 203.87H195.88" stroke="#c6aedd" stroke-width="1.0" fill="none"/><path d="M196.2 199.21V204.43M193.7 199.21H198.7M193.7 204.43H198.7" stroke="#c6aedd" stroke-width="1.0" fill="none"/><path d="M199.02 203.3V207.06M196.52 203.3H201.52M196.52 207.06H201.52" stroke="#c6aedd" stroke-width="1.0" fill="none"/><path d="M201.85 199.34V203.74M199.35 199.34H204.35M199.35 203.74H204.35" stroke="#c6aedd" stroke-width="1.0" fill="none"/><path d="M204.67 198.44V203.71M202.17 198.44H207.17M202.17 203.71H207.17" stroke="#c6aedd" stroke-width="1.0" fill="none"/><path d="M207.5 198.83V203.63M205 198.83H210M205 203.63H210" stroke="#c6aedd" stroke-width="1.0" fill="none"/><path d="M210.32 199.54V202.94M207.82 199.54H212.82M207.82 202.94H212.82" stroke="#c6aedd" stroke-width="1.0" fill="none"/><path d="M213.14 199.08V202.68M210.64 199.08H215.64M210.64 202.68H215.64" stroke="#c6aedd" stroke-width="1.0" fill="none"/><path d="M215.97 198.71V203.79M213.47 198.71H218.47M213.47 203.79H218.47" stroke="#c6aedd" stroke-width="1.0" fill="none"/><path d="M218.79 198.16V203.34M216.29 198.16H221.29M216.29 203.34H221.29" stroke="#c6aedd" stroke-width="1.0" fill="none"/><path d="M221.62 199.42V202.72M219.12 199.42H224.12M219.12 202.72H224.12" stroke="#c6aedd" stroke-width="1.0" fill="none"/><path d="M224.44 197.94V203.92M221.94 197.94H226.94M221.94 203.92H226.94" stroke="#c6aedd" stroke-width="1.0" fill="none"/><path d="M227.26 202.41V205.81M224.76 202.41H229.76M224.76 205.81H229.76" stroke="#c6aedd" stroke-width="1.0" fill="none"/><path d="M230.09 198.7V202.19M227.59 198.7H232.59M227.59 202.19H232.59" stroke="#c6aedd" stroke-width="1.0" fill="none"/><path d="M232.91 199.01V202.27M230.41 199.01H235.41M230.41 202.27H235.41" stroke="#c6aedd" stroke-width="1.0" fill="none"/><path d="M235.74 198.45V202.78M233.24 198.45H238.24M233.24 202.78H238.24" stroke="#c6aedd" stroke-width="1.0" fill="none"/><path d="M238.56 197.6V202.45M236.06 197.6H241.06M236.06 202.45H241.06" stroke="#c6aedd" stroke-width="1.0" fill="none"/><path d="M241.38 197.34V202.9M238.88 197.34H243.88M238.88 202.9H243.88" stroke="#c6aedd" stroke-width="1.0" fill="none"/><path d="M244.21 198.21V201.69M241.71 198.21H246.71M241.71 201.69H246.71" stroke="#c6aedd" stroke-width="1.0" fill="none"/><path d="M247.03 197.73V202.81M244.53 197.73H249.53M244.53 202.81H249.53" stroke="#c6aedd" stroke-width="1.0" fill="none"/><path d="M249.86 198.24V201.55M247.36 198.24H252.36M247.36 201.55H252.36" stroke="#c6aedd" stroke-width="1.0" fill="none"/><path d="M252.68 197.61V202.34M250.18 197.61H255.18M250.18 202.34H255.18" stroke="#c6aedd" stroke-width="1.0" fill="none"/><path d="M255.5 201.83V205.58M253 201.83H258M253 205.58H258" stroke="#c6aedd" stroke-width="1.0" fill="none"/><path d="M258.33 197.79V201.85M255.83 197.79H260.83M255.83 201.85H260.83" stroke="#c6aedd" stroke-width="1.0" fill="none"/><path d="M261.15 198V201.15M258.65 198H263.65M258.65 201.15H263.65" stroke="#c6aedd" stroke-width="1.0" fill="none"/><path d="M263.98 197.07V202.22M261.48 197.07H266.48M261.48 202.22H266.48" stroke="#c6aedd" stroke-width="1.0" fill="none"/><path d="M266.8 197.86V201.22M264.3 197.86H269.3M264.3 201.22H269.3" stroke="#c6aedd" stroke-width="1.0" fill="none"/><path d="M269.62 196.97V202.25M267.12 196.97H272.12M267.12 202.25H272.12" stroke="#c6aedd" stroke-width="1.0" fill="none"/><path d="M272.45 197.11V201.11M269.95 197.11H274.95M269.95 201.11H274.95" stroke="#c6aedd" stroke-width="1.0" fill="none"/><path d="M275.27 196.75V201.52M272.77 196.75H277.77M272.77 201.52H277.77" stroke="#c6aedd" stroke-width="1.0" fill="none"/><path d="M278.1 196.5V201.41M275.6 196.5H280.6M275.6 201.41H280.6" stroke="#c6aedd" stroke-width="1.0" fill="none"/><path d="M280.92 196.87V201.33M278.42 196.87H283.42M278.42 201.33H283.42" stroke="#c6aedd" stroke-width="1.0" fill="none"/><path d="M283.74 199.7V205.31M281.24 199.7H286.24M281.24 205.31H286.24" stroke="#c6aedd" stroke-width="1.0" fill="none"/><path d="M286.57 196.01V201.75M284.07 196.01H289.07M284.07 201.75H289.07" stroke="#c6aedd" stroke-width="1.0" fill="none"/><path d="M289.39 196.83V200.67M286.89 196.83H291.89M286.89 200.67H291.89" stroke="#c6aedd" stroke-width="1.0" fill="none"/><path d="M292.22 196.68V200.68M289.72 196.68H294.72M289.72 200.68H294.72" stroke="#c6aedd" stroke-width="1.0" fill="none"/><path d="M295.04 195.69V201.31M292.54 195.69H297.54M292.54 201.31H297.54" stroke="#c6aedd" stroke-width="1.0" fill="none"/><path d="M297.86 196.94V200.33M295.36 196.94H300.36M295.36 200.33H300.36" stroke="#c6aedd" stroke-width="1.0" fill="none"/><path d="M300.69 196.62V200.88M298.19 196.62H303.19M298.19 200.88H303.19" stroke="#c6aedd" stroke-width="1.0" fill="none"/><path d="M303.51 196.6V200.84M301.01 196.6H306.01M301.01 200.84H306.01" stroke="#c6aedd" stroke-width="1.0" fill="none"/><path d="M306.34 195.59V201.51M303.84 195.59H308.84M303.84 201.51H308.84" stroke="#c6aedd" stroke-width="1.0" fill="none"/><path d="M309.16 196.9V200.27M306.66 196.9H311.66M306.66 200.27H311.66" stroke="#c6aedd" stroke-width="1.0" fill="none"/><path d="M311.98 199.27V204.23M309.48 199.27H314.48M309.48 204.23H314.48" stroke="#c6aedd" stroke-width="1.0" fill="none"/><path d="M314.81 195.56V200.82M312.31 195.56H317.31M312.31 200.82H317.31" stroke="#c6aedd" stroke-width="1.0" fill="none"/><path d="M317.63 195.37V200.54M315.13 195.37H320.13M315.13 200.54H320.13" stroke="#c6aedd" stroke-width="1.0" fill="none"/><path d="M320.46 196.84V199.84M317.96 196.84H322.96M317.96 199.84H322.96" stroke="#c6aedd" stroke-width="1.0" fill="none"/><path d="M323.28 195.08V200.9M320.78 195.08H325.78M320.78 200.9H325.78" stroke="#c6aedd" stroke-width="1.0" fill="none"/><path d="M326.1 195.71V199.64M323.6 195.71H328.6M323.6 199.64H328.6" stroke="#c6aedd" stroke-width="1.0" fill="none"/><path d="M328.93 195V200.55M326.43 195H331.43M326.43 200.55H331.43" stroke="#c6aedd" stroke-width="1.0" fill="none"/><path d="M331.75 195.33V200.31M329.25 195.33H334.25M329.25 200.31H334.25" stroke="#c6aedd" stroke-width="1.0" fill="none"/><path d="M334.58 195.6V199.86M332.08 195.6H337.08M332.08 199.86H337.08" stroke="#c6aedd" stroke-width="1.0" fill="none"/><path d="M337.4 195.13V200.63M334.9 195.13H339.9M334.9 200.63H339.9" stroke="#c6aedd" stroke-width="1.0" fill="none"/>
<path d="M57.82 208.67L58.86 211.44L61.82 211.57L59.5 213.41L60.29 216.26L57.82 214.63L55.36 216.26L56.15 213.41L53.83 211.57L56.79 211.44Z" fill="#9467bd"/><path d="M60.65 206.65L61.68 209.42L64.64 209.55L62.33 211.39L63.12 214.25L60.65 212.61L58.18 214.25L58.97 211.39L56.65 209.55L59.61 209.42Z" fill="#9467bd"/><path d="M63.47 206.52L64.51 209.29L67.47 209.42L65.15 211.26L65.94 214.12L63.47 212.48L61 214.12L61.79 211.26L59.48 209.42L62.44 209.29Z" fill="#9467bd"/><path d="M66.3 206.59L67.33 209.36L70.29 209.49L67.97 211.33L68.76 214.19L66.3 212.55L63.83 214.19L64.62 211.33L62.3 209.49L65.26 209.36Z" fill="#9467bd"/><path d="M69.12 206.22L70.16 208.99L73.11 209.12L70.8 210.97L71.59 213.82L69.12 212.18L66.65 213.82L67.44 210.97L65.13 209.12L68.08 208.99Z" fill="#9467bd"/><path d="M71.94 205.57L72.98 208.34L75.94 208.47L73.62 210.32L74.41 213.17L71.94 211.53L69.48 213.17L70.27 210.32L67.95 208.47L70.91 208.34Z" fill="#9467bd"/><path d="M74.77 205.76L75.8 208.53L78.76 208.66L76.45 210.5L77.24 213.35L74.77 211.72L72.3 213.35L73.09 210.5L70.77 208.66L73.73 208.53Z" fill="#9467bd"/><path d="M77.59 205.21L78.63 207.98L81.59 208.11L79.27 209.95L80.06 212.8L77.59 211.17L75.12 212.8L75.91 209.95L73.6 208.11L76.56 207.98Z" fill="#9467bd"/><path d="M80.42 205.05L81.45 207.82L84.41 207.95L82.09 209.79L82.88 212.65L80.42 211.01L77.95 212.65L78.74 209.79L76.42 207.95L79.38 207.82Z" fill="#9467bd"/><path d="M83.24 204.93L84.28 207.7L87.23 207.83L84.92 209.67L85.71 212.52L83.24 210.89L80.77 212.52L81.56 209.67L79.25 207.83L82.2 207.7Z" fill="#9467bd"/><path d="M86.06 204.38L87.1 207.15L90.06 207.28L87.74 209.12L88.53 211.97L86.06 210.34L83.6 211.97L84.39 209.12L82.07 207.28L85.03 207.15Z" fill="#9467bd"/><path d="M88.89 204.45L89.92 207.22L92.88 207.35L90.57 209.19L91.36 212.05L88.89 210.41L86.42 212.05L87.21 209.19L84.89 207.35L87.85 207.22Z" fill="#9467bd"/><path d="M91.71 204.19L92.75 206.96L95.71 207.09L93.39 208.94L94.18 211.79L91.71 210.15L89.24 211.79L90.03 208.94L87.72 207.09L90.68 206.96Z" fill="#9467bd"/><path d="M94.54 203.81L95.57 206.58L98.53 206.71L96.21 208.55L97 211.41L94.54 209.77L92.07 211.41L92.86 208.55L90.54 206.71L93.5 206.58Z" fill="#9467bd"/><path d="M97.36 203.78L98.4 206.55L101.35 206.68L99.04 208.52L99.83 211.37L97.36 209.74L94.89 211.37L95.68 208.52L93.37 206.68L96.32 206.55Z" fill="#9467bd"/><path d="M100.18 203.57L101.22 206.34L104.18 206.47L101.86 208.31L102.65 211.16L100.18 209.53L97.72 211.16L98.51 208.31L96.19 206.47L99.15 206.34Z" fill="#9467bd"/><path d="M103.01 203.04L104.04 205.81L107 205.94L104.69 207.78L105.48 210.64L103.01 209L100.54 210.64L101.33 207.78L99.01 205.94L101.97 205.81Z" fill="#9467bd"/><path d="M105.83 202.72L106.87 205.49L109.83 205.62L107.51 207.46L108.3 210.32L105.83 208.68L103.36 210.32L104.15 207.46L101.84 205.62L104.8 205.49Z" fill="#9467bd"/><path d="M108.66 202.42L109.69 205.19L112.65 205.32L110.33 207.16L111.12 210.02L108.66 208.38L106.19 210.02L106.98 207.16L104.66 205.32L107.62 205.19Z" fill="#9467bd"/><path d="M111.48 202.65L112.52 205.42L115.47 205.55L113.16 207.39L113.95 210.24L111.48 208.61L109.01 210.24L109.8 207.39L107.49 205.55L110.44 205.42Z" fill="#9467bd"/><path d="M114.3 205.96L115.34 208.73L118.3 208.86L115.98 210.71L116.77 213.56L114.3 211.93L111.84 213.56L112.63 210.71L110.31 208.86L113.27 208.73Z" fill="#9467bd"/><path d="M117.13 202.04L118.16 204.81L121.12 204.94L118.81 206.78L119.6 209.64L117.13 208L114.66 209.64L115.45 206.78L113.13 204.94L116.09 204.81Z" fill="#9467bd"/><path d="M119.95 201.62L120.99 204.39L123.95 204.52L121.63 206.36L122.42 209.22L119.95 207.58L117.48 209.22L118.27 206.36L115.96 204.52L118.92 204.39Z" fill="#9467bd"/><path d="M122.78 201.44L123.81 204.21L126.77 204.34L124.45 206.18L125.24 209.03L122.78 207.4L120.31 209.03L121.1 206.18L118.78 204.34L121.74 204.21Z" fill="#9467bd"/><path d="M125.6 200.92L126.64 203.69L129.59 203.82L127.28 205.66L128.07 208.51L125.6 206.88L123.13 208.51L123.92 205.66L121.61 203.82L124.56 203.69Z" fill="#9467bd"/><path d="M128.42 201.01L129.46 203.78L132.42 203.91L130.1 205.75L130.89 208.6L128.42 206.97L125.96 208.6L126.75 205.75L124.43 203.91L127.39 203.78Z" fill="#9467bd"/><path d="M131.25 200.95L132.28 203.72L135.24 203.85L132.93 205.69L133.72 208.54L131.25 206.91L128.78 208.54L129.57 205.69L127.25 203.85L130.21 203.72Z" fill="#9467bd"/><path d="M134.07 200.39L135.11 203.16L138.07 203.29L135.75 205.13L136.54 207.99L134.07 206.35L131.6 207.99L132.39 205.13L130.08 203.29L133.04 203.16Z" fill="#9467bd"/><path d="M136.9 200.54L137.93 203.32L140.89 203.45L138.57 205.29L139.36 208.14L136.9 206.51L134.43 208.14L135.22 205.29L132.9 203.45L135.86 203.32Z" fill="#9467bd"/><path d="M139.72 200.08L140.76 202.86L143.71 202.99L141.4 204.83L142.19 207.68L139.72 206.05L137.25 207.68L138.04 204.83L135.73 202.99L138.68 202.86Z" fill="#9467bd"/><path d="M142.54 203.73L143.58 206.5L146.54 206.63L144.22 208.47L145.01 211.33L142.54 209.69L140.08 211.33L140.87 208.47L138.55 206.63L141.51 206.5Z" fill="#9467bd"/><path d="M145.37 199.57L146.4 202.34L149.36 202.47L147.05 204.32L147.84 207.17L145.37 205.53L142.9 207.17L143.69 204.32L141.37 202.47L144.33 202.34Z" fill="#9467bd"/><path d="M148.19 199.61L149.23 202.38L152.19 202.51L149.87 204.36L150.66 207.21L148.19 205.57L145.72 207.21L146.51 204.36L144.2 202.51L147.16 202.38Z" fill="#9467bd"/><path d="M151.02 199.4L152.05 202.17L155.01 202.3L152.69 204.14L153.48 207L151.02 205.36L148.55 207L149.34 204.14L147.02 202.3L149.98 202.17Z" fill="#9467bd"/><path d="M153.84 199.44L154.88 202.21L157.83 202.34L155.52 204.19L156.31 207.04L153.84 205.4L151.37 207.04L152.16 204.19L149.85 202.34L152.8 202.21Z" fill="#9467bd"/><path d="M156.66 199.09L157.7 201.87L160.66 202L158.34 203.84L159.13 206.69L156.66 205.06L154.2 206.69L154.99 203.84L152.67 202L155.63 201.87Z" fill="#9467bd"/><path d="M159.49 199.1L160.52 201.87L163.48 202L161.17 203.84L161.96 206.7L159.49 205.06L157.02 206.7L157.81 203.84L155.49 202L158.45 201.87Z" fill="#9467bd"/><path d="M162.31 198.63L163.35 201.4L166.31 201.53L163.99 203.37L164.78 206.23L162.31 204.59L159.84 206.23L160.63 203.37L158.32 201.53L161.28 201.4Z" fill="#9467bd"/><path d="M165.14 198.6L166.17 201.37L169.13 201.5L166.81 203.34L167.6 206.19L165.14 204.56L162.67 206.19L163.46 203.34L161.14 201.5L164.1 201.37Z" fill="#9467bd"/><path d="M167.96 198.65L169 201.43L171.95 201.56L169.64 203.4L170.43 206.25L167.96 204.62L165.49 206.25L166.28 203.4L163.97 201.56L166.92 201.43Z" fill="#9467bd"/><path d="M170.78 202.23L171.82 205.01L174.78 205.13L172.46 206.98L173.25 209.83L170.78 208.2L168.32 209.83L169.11 206.98L166.79 205.13L169.75 205.01Z" fill="#9467bd"/><path d="M173.61 198.3L174.64 201.08L177.6 201.21L175.29 203.05L176.08 205.9L173.61 204.27L171.14 205.9L171.93 203.05L169.61 201.21L172.57 201.08Z" fill="#9467bd"/><path d="M176.43 197.98L177.47 200.75L180.43 200.88L178.11 202.73L178.9 205.58L176.43 203.94L173.96 205.58L174.75 202.73L172.44 200.88L175.4 200.75Z" fill="#9467bd"/><path d="M179.26 198.21L180.29 200.98L183.25 201.11L180.93 202.96L181.72 205.81L179.26 204.17L176.79 205.81L177.58 202.96L175.26 201.11L178.22 200.98Z" fill="#9467bd"/><path d="M182.08 197.79L183.12 200.56L186.07 200.69L183.76 202.53L184.55 205.38L182.08 203.75L179.61 205.38L180.4 202.53L178.09 200.69L181.04 200.56Z" fill="#9467bd"/><path d="M184.9 197.72L185.94 200.49L188.9 200.62L186.58 202.46L187.37 205.32L184.9 203.68L182.44 205.32L183.23 202.46L180.91 200.62L183.87 200.49Z" fill="#9467bd"/><path d="M187.73 197.95L188.76 200.73L191.72 200.86L189.41 202.7L190.2 205.55L187.73 203.92L185.26 205.55L186.05 202.7L183.73 200.86L186.69 200.73Z" fill="#9467bd"/><path d="M190.55 197.5L191.59 200.27L194.55 200.4L192.23 202.25L193.02 205.1L190.55 203.47L188.08 205.1L188.87 202.25L186.56 200.4L189.52 200.27Z" fill="#9467bd"/><path d="M193.38 197.74L194.41 200.52L197.37 200.65L195.05 202.49L195.84 205.34L193.38 203.71L190.91 205.34L191.7 202.49L189.38 200.65L192.34 200.52Z" fill="#9467bd"/><path d="M196.2 197.62L197.24 200.39L200.19 200.52L197.88 202.36L198.67 205.22L196.2 203.58L193.73 205.22L194.52 202.36L192.21 200.52L195.16 200.39Z" fill="#9467bd"/><path d="M199.02 200.98L200.06 203.75L203.02 203.88L200.7 205.72L201.49 208.58L199.02 206.94L196.56 208.58L197.35 205.72L195.03 203.88L197.99 203.75Z" fill="#9467bd"/><path d="M201.85 197.34L202.88 200.12L205.84 200.25L203.53 202.09L204.32 204.94L201.85 203.31L199.38 204.94L200.17 202.09L197.85 200.25L200.81 200.12Z" fill="#9467bd"/><path d="M204.67 196.88L205.71 199.65L208.67 199.78L206.35 201.62L207.14 204.48L204.67 202.84L202.2 204.48L202.99 201.62L200.68 199.78L203.64 199.65Z" fill="#9467bd"/><path d="M207.5 197.03L208.53 199.8L211.49 199.93L209.17 201.78L209.96 204.63L207.5 203L205.03 204.63L205.82 201.78L203.5 199.93L206.46 199.8Z" fill="#9467bd"/><path d="M210.32 197.04L211.36 199.82L214.31 199.94L212 201.79L212.79 204.64L210.32 203.01L207.85 204.64L208.64 201.79L206.33 199.94L209.28 199.82Z" fill="#9467bd"/><path d="M213.14 196.68L214.18 199.45L217.14 199.58L214.82 201.42L215.61 204.27L213.14 202.64L210.68 204.27L211.47 201.42L209.15 199.58L212.11 199.45Z" fill="#9467bd"/><path d="M215.97 197.05L217 199.83L219.96 199.95L217.65 201.8L218.44 204.65L215.97 203.02L213.5 204.65L214.29 201.8L211.97 199.95L214.93 199.83Z" fill="#9467bd"/><path d="M218.79 196.55L219.83 199.33L222.79 199.45L220.47 201.3L221.26 204.15L218.79 202.52L216.32 204.15L217.11 201.3L214.8 199.45L217.76 199.33Z" fill="#9467bd"/><path d="M221.62 196.87L222.65 199.64L225.61 199.77L223.29 201.62L224.08 204.47L221.62 202.84L219.15 204.47L219.94 201.62L217.62 199.77L220.58 199.64Z" fill="#9467bd"/><path d="M224.44 196.73L225.48 199.5L228.43 199.63L226.12 201.48L226.91 204.33L224.44 202.69L221.97 204.33L222.76 201.48L220.45 199.63L223.4 199.5Z" fill="#9467bd"/><path d="M227.26 199.91L228.3 202.68L231.26 202.81L228.94 204.66L229.73 207.51L227.26 205.87L224.8 207.51L225.59 204.66L223.27 202.81L226.23 202.68Z" fill="#9467bd"/><path d="M230.09 196.25L231.12 199.02L234.08 199.15L231.77 200.99L232.56 203.84L230.09 202.21L227.62 203.84L228.41 200.99L226.09 199.15L229.05 199.02Z" fill="#9467bd"/><path d="M232.91 196.44L233.95 199.21L236.91 199.34L234.59 201.18L235.38 204.04L232.91 202.4L230.44 204.04L231.23 201.18L228.92 199.34L231.88 199.21Z" fill="#9467bd"/><path d="M235.74 196.42L236.77 199.19L239.73 199.32L237.41 201.16L238.2 204.02L235.74 202.38L233.27 204.02L234.06 201.16L231.74 199.32L234.7 199.19Z" fill="#9467bd"/><path d="M238.56 195.82L239.6 198.59L242.55 198.72L240.24 200.57L241.03 203.42L238.56 201.79L236.09 203.42L236.88 200.57L234.57 198.72L237.52 198.59Z" fill="#9467bd"/><path d="M241.38 195.92L242.42 198.7L245.38 198.83L243.06 200.67L243.85 203.52L241.38 201.89L238.92 203.52L239.71 200.67L237.39 198.83L240.35 198.7Z" fill="#9467bd"/><path d="M244.21 195.75L245.24 198.52L248.2 198.65L245.89 200.49L246.68 203.34L244.21 201.71L241.74 203.34L242.53 200.49L240.21 198.65L243.17 198.52Z" fill="#9467bd"/><path d="M247.03 196.07L248.07 198.84L251.03 198.97L248.71 200.82L249.5 203.67L247.03 202.04L244.56 203.67L245.35 200.82L243.04 198.97L246 198.84Z" fill="#9467bd"/><path d="M249.86 195.7L250.89 198.47L253.85 198.6L251.53 200.44L252.32 203.3L249.86 201.66L247.39 203.3L248.18 200.44L245.86 198.6L248.82 198.47Z" fill="#9467bd"/><path d="M252.68 195.78L253.72 198.55L256.67 198.68L254.36 200.52L255.15 203.37L252.68 201.74L250.21 203.37L251 200.52L248.69 198.68L251.64 198.55Z" fill="#9467bd"/><path d="M255.5 199.51L256.54 202.28L259.5 202.41L257.18 204.25L257.97 207.11L255.5 205.47L253.04 207.11L253.83 204.25L251.51 202.41L254.47 202.28Z" fill="#9467bd"/><path d="M258.33 195.62L259.36 198.4L262.32 198.52L260.01 200.37L260.8 203.22L258.33 201.59L255.86 203.22L256.65 200.37L254.33 198.52L257.29 198.4Z" fill="#9467bd"/><path d="M261.15 195.37L262.19 198.14L265.15 198.27L262.83 200.12L263.62 202.97L261.15 201.34L258.68 202.97L259.47 200.12L257.16 198.27L260.12 198.14Z" fill="#9467bd"/><path d="M263.98 195.45L265.01 198.22L267.97 198.35L265.65 200.19L266.44 203.04L263.98 201.41L261.51 203.04L262.3 200.19L259.98 198.35L262.94 198.22Z" fill="#9467bd"/><path d="M266.8 195.34L267.84 198.11L270.79 198.24L268.48 200.09L269.27 202.94L266.8 201.31L264.33 202.94L265.12 200.09L262.81 198.24L265.76 198.11Z" fill="#9467bd"/><path d="M269.62 195.41L270.66 198.18L273.62 198.31L271.3 200.15L272.09 203.01L269.62 201.37L267.16 203.01L267.95 200.15L265.63 198.31L268.59 198.18Z" fill="#9467bd"/><path d="M272.45 194.91L273.48 197.68L276.44 197.81L274.13 199.65L274.92 202.51L272.45 200.87L269.98 202.51L270.77 199.65L268.45 197.81L271.41 197.68Z" fill="#9467bd"/><path d="M275.27 194.94L276.31 197.71L279.27 197.84L276.95 199.68L277.74 202.53L275.27 200.9L272.8 202.53L273.59 199.68L271.28 197.84L274.24 197.71Z" fill="#9467bd"/><path d="M278.1 194.76L279.13 197.53L282.09 197.66L279.77 199.5L280.56 202.36L278.1 200.72L275.63 202.36L276.42 199.5L274.1 197.66L277.06 197.53Z" fill="#9467bd"/><path d="M280.92 194.9L281.96 197.67L284.91 197.8L282.6 199.64L283.39 202.5L280.92 200.86L278.45 202.5L279.24 199.64L276.93 197.8L279.88 197.67Z" fill="#9467bd"/><path d="M283.74 198.31L284.78 201.08L287.74 201.21L285.42 203.05L286.21 205.9L283.74 204.27L281.28 205.9L282.07 203.05L279.75 201.21L282.71 201.08Z" fill="#9467bd"/><path d="M286.57 194.68L287.6 197.45L290.56 197.58L288.25 199.43L289.04 202.28L286.57 200.64L284.1 202.28L284.89 199.43L282.57 197.58L285.53 197.45Z" fill="#9467bd"/><path d="M289.39 194.55L290.43 197.33L293.39 197.45L291.07 199.3L291.86 202.15L289.39 200.52L286.92 202.15L287.71 199.3L285.4 197.45L288.36 197.33Z" fill="#9467bd"/><path d="M292.22 194.48L293.25 197.25L296.21 197.38L293.89 199.23L294.68 202.08L292.22 200.44L289.75 202.08L290.54 199.23L288.22 197.38L291.18 197.25Z" fill="#9467bd"/><path d="M295.04 194.3L296.08 197.07L299.03 197.2L296.72 199.04L297.51 201.9L295.04 200.26L292.57 201.9L293.36 199.04L291.05 197.2L294 197.07Z" fill="#9467bd"/><path d="M297.86 194.44L298.9 197.21L301.86 197.34L299.54 199.18L300.33 202.04L297.86 200.4L295.4 202.04L296.19 199.18L293.87 197.34L296.83 197.21Z" fill="#9467bd"/><path d="M300.69 194.55L301.72 197.32L304.68 197.45L302.37 199.29L303.16 202.15L300.69 200.51L298.22 202.15L299.01 199.29L296.69 197.45L299.65 197.32Z" fill="#9467bd"/><path d="M303.51 194.52L304.55 197.29L307.51 197.42L305.19 199.27L305.98 202.12L303.51 200.49L301.04 202.12L301.83 199.27L299.52 197.42L302.48 197.29Z" fill="#9467bd"/><path d="M306.34 194.35L307.37 197.13L310.33 197.26L308.01 199.1L308.8 201.95L306.34 200.32L303.87 201.95L304.66 199.1L302.34 197.26L305.3 197.13Z" fill="#9467bd"/><path d="M309.16 194.38L310.2 197.16L313.15 197.29L310.84 199.13L311.63 201.98L309.16 200.35L306.69 201.98L307.48 199.13L305.17 197.29L308.12 197.16Z" fill="#9467bd"/><path d="M311.98 197.55L313.02 200.33L315.98 200.45L313.66 202.3L314.45 205.15L311.98 203.52L309.52 205.15L310.31 202.3L307.99 200.45L310.95 200.33Z" fill="#9467bd"/><path d="M314.81 193.99L315.84 196.76L318.8 196.89L316.49 198.73L317.28 201.58L314.81 199.95L312.34 201.58L313.13 198.73L310.81 196.89L313.77 196.76Z" fill="#9467bd"/><path d="M317.63 193.75L318.67 196.53L321.63 196.66L319.31 198.5L320.1 201.35L317.63 199.72L315.16 201.35L315.95 198.5L313.64 196.66L316.6 196.53Z" fill="#9467bd"/><path d="M320.46 194.14L321.49 196.91L324.45 197.04L322.13 198.89L322.92 201.74L320.46 200.11L317.99 201.74L318.78 198.89L316.46 197.04L319.42 196.91Z" fill="#9467bd"/><path d="M323.28 193.79L324.32 196.57L327.27 196.7L324.96 198.54L325.75 201.39L323.28 199.76L320.81 201.39L321.6 198.54L319.29 196.7L322.24 196.57Z" fill="#9467bd"/><path d="M326.1 193.48L327.14 196.25L330.1 196.38L327.78 198.22L328.57 201.07L326.1 199.44L323.64 201.07L324.43 198.22L322.11 196.38L325.07 196.25Z" fill="#9467bd"/><path d="M328.93 193.57L329.96 196.34L332.92 196.47L330.61 198.32L331.4 201.17L328.93 199.54L326.46 201.17L327.25 198.32L324.93 196.47L327.89 196.34Z" fill="#9467bd"/><path d="M331.75 193.62L332.79 196.39L335.75 196.52L333.43 198.36L334.22 201.22L331.75 199.58L329.28 201.22L330.07 198.36L327.76 196.52L330.72 196.39Z" fill="#9467bd"/><path d="M334.58 193.53L335.61 196.3L338.57 196.43L336.25 198.28L337.04 201.13L334.58 199.49L332.11 201.13L332.9 198.28L330.58 196.43L333.54 196.3Z" fill="#9467bd"/><path d="M337.4 193.68L338.44 196.46L341.39 196.58L339.08 198.43L339.87 201.28L337.4 199.65L334.93 201.28L335.72 198.43L333.41 196.58L336.36 196.46Z" fill="#9467bd"/>
</g>
<g clip-path="url(#cb)">
<path d="M57.82 420.07V433.1M55.32 420.07H60.32M55.32 433.1H60.32" stroke="#9cc2e3" stroke-width="1.0" fill="none"/><path d="M63.47 356.74V425.87M60.97 356.74H65.97M60.97 425.87H65.97" stroke="#9cc2e3" stroke-width="1.0" fill="none"/><path d="M69.12 369.56V430.42M66.62 369.56H71.62M66.62 430.42H71.62" stroke="#9cc2e3" stroke-width="1.0" fill="none"/><path d="M74.77 378.55V435.88M72.27 378.55H77.27M72.27 435.88H77.27" stroke="#9cc2e3" stroke-width="1.0" fill="none"/><path d="M80.42 387.24V437.01M77.92 387.24H82.92M77.92 437.01H82.92" stroke="#9cc2e3" stroke-width="1.0" fill="none"/><path d="M86.06 393.44V438.48M83.56 393.44H88.56M83.56 438.48H88.56" stroke="#9cc2e3" stroke-width="1.0" fill="none"/><path d="M91.71 399.35V437.68M89.21 399.35H94.21M89.21 437.68H94.21" stroke="#9cc2e3" stroke-width="1.0" fill="none"/><path d="M97.36 403.21V436.63M94.86 403.21H99.86M94.86 436.63H99.86" stroke="#9cc2e3" stroke-width="1.0" fill="none"/><path d="M103.01 409.94V433.13M100.51 409.94H105.51M100.51 433.13H105.51" stroke="#9cc2e3" stroke-width="1.0" fill="none"/><path d="M108.66 415.09V434.39M106.16 415.09H111.16M106.16 434.39H111.16" stroke="#9cc2e3" stroke-width="1.0" fill="none"/><path d="M114.3 432.88V437.23M111.8 432.88H116.8M111.8 437.23H116.8" stroke="#9cc2e3" stroke-width="1.0" fill="none"/><path d="M117.13 425.7V435.19M114.63 425.7H119.63M114.63 435.19H119.63" stroke="#9cc2e3" stroke-width="1.0" fill="none"/><path d="M119.95 426.06V435.43M117.45 426.06H122.45M117.45 435.43H122.45" stroke="#9cc2e3" stroke-width="1.0" fill="none"/><path d="M122.78 426.56V436.35M120.28 426.56H125.28M120.28 436.35H125.28" stroke="#9cc2e3" stroke-width="1.0" fill="none"/><path d="M125.6 429.58V434.21M123.1 429.58H128.1M123.1 434.21H128.1" stroke="#9cc2e3" stroke-width="1.0" fill="none"/><path d="M128.42 428.23V436.06M125.92 428.23H130.92M125.92 436.06H130.92" stroke="#9cc2e3" stroke-width="1.0" fill="none"/><path d="M131.25 428.93V436.39M128.75 428.93H133.75M128.75 436.39H133.75" stroke="#9cc2e3" stroke-width="1.0" fill="none"/><path d="M134.07 430.31V435.44M131.57 430.31H136.57M131.57 435.44H136.57" stroke="#9cc2e3" stroke-width="1.0" fill="none"/><path d="M136.9 430.35V436.01M134.4 430.35H139.4M134.4 436.01H139.4" stroke="#9cc2e3" stroke-width="1.0" fill="none"/><path d="M139.72 427.98V438.67M137.22 427.98H142.22M137.22 438.67H142.22" stroke="#9cc2e3" stroke-width="1.0" fill="none"/><path d="M142.54 430.52V440.42M140.04 430.52H145.04M140.04 440.42H145.04" stroke="#9cc2e3" stroke-width="1.0" fill="none"/><path d="M145.37 430.67V436.56M142.87 430.67H147.87M142.87 436.56H147.87" stroke="#9cc2e3" stroke-width="1.0" fill="none"/><path d="M148.19 428.62V438.36M145.69 428.62H150.69M145.69 438.36H150.69" stroke="#9cc2e3" stroke-width="1.0" fill="none"/><path d="M151.02 429.59V438.17M148.52 429.59H153.52M148.52 438.17H153.52" stroke="#9cc2e3" stroke-width="1.0" fill="none"/><path d="M153.84 430.54V437.39M151.34 430.54H156.34M151.34 437.39H156.34" stroke="#9cc2e3" stroke-width="1.0" fill="none"/><path d="M156.66 429.69V438.24M154.16 429.69H159.16M154.16 438.24H159.16" stroke="#9cc2e3" stroke-width="1.0" fill="none"/><path d="M159.49 431.19V437.03M156.99 431.19H161.99M156.99 437.03H161.99" stroke="#9cc2e3" stroke-width="1.0" fill="none"/><path d="M162.31 430.91V437.03M159.81 430.91H164.81M159.81 437.03H164.81" stroke="#9cc2e3" stroke-width="1.0" fill="none"/><path d="M165.14 431.83V436.24M162.64 431.83H167.64M162.64 436.24H167.64" stroke="#9cc2e3" stroke-width="1.0" fill="none"/><path d="M167.96 430.02V438.64M165.46 430.02H170.46M165.46 438.64H170.46" stroke="#9cc2e3" stroke-width="1.0" fill="none"/><path d="M170.78 435.12V443.25M168.28 435.12H173.28M168.28 443.25H173.28" stroke="#9cc2e3" stroke-width="1.0" fill="none"/><path d="M173.61 429.63V438.82M171.11 429.63H176.11M171.11 438.82H176.11" stroke="#9cc2e3" stroke-width="1.0" fill="none"/><path d="M176.43 430.36V437.98M173.93 430.36H178.93M173.93 437.98H178.93" stroke="#9cc2e3" stroke-width="1.0" fill="none"/><path d="M179.26 430.78V437.95M176.76 430.78H181.76M176.76 437.95H181.76" stroke="#9cc2e3" stroke-width="1.0" fill="none"/><path d="M182.08 431.35V437.69M179.58 431.35H184.58M179.58 437.69H184.58" stroke="#9cc2e3" stroke-width="1.0" fill="none"/><path d="M184.9 429.78V438.92M182.4 429.78H187.4M182.4 438.92H187.4" stroke="#9cc2e3" stroke-width="1.0" fill="none"/><path d="M187.73 431.45V438.22M185.23 431.45H190.23M185.23 438.22H190.23" stroke="#9cc2e3" stroke-width="1.0" fill="none"/><path d="M190.55 430.72V438.96M188.05 430.72H193.05M188.05 438.96H193.05" stroke="#9cc2e3" stroke-width="1.0" fill="none"/><path d="M193.38 429.92V439.2M190.88 429.92H195.88M190.88 439.2H195.88" stroke="#9cc2e3" stroke-width="1.0" fill="none"/><path d="M196.2 431.12V438.36M193.7 431.12H198.7M193.7 438.36H198.7" stroke="#9cc2e3" stroke-width="1.0" fill="none"/><path d="M199.02 433.65V442.46M196.52 433.65H201.52M196.52 442.46H201.52" stroke="#9cc2e3" stroke-width="1.0" fill="none"/><path d="M201.85 432.36V437.11M199.35 432.36H204.35M199.35 437.11H204.35" stroke="#9cc2e3" stroke-width="1.0" fill="none"/><path d="M204.67 431.55V437.59M202.17 431.55H207.17M202.17 437.59H207.17" stroke="#9cc2e3" stroke-width="1.0" fill="none"/><path d="M207.5 429.89V439.72M205 429.89H210M205 439.72H210" stroke="#9cc2e3" stroke-width="1.0" fill="none"/><path d="M210.32 432.25V437.56M207.82 432.25H212.82M207.82 437.56H212.82" stroke="#9cc2e3" stroke-width="1.0" fill="none"/><path d="M213.14 432.66V437.37M210.64 432.66H215.64M210.64 437.37H215.64" stroke="#9cc2e3" stroke-width="1.0" fill="none"/><path d="M215.97 432.81V437.25M213.47 432.81H218.47M213.47 437.25H218.47" stroke="#9cc2e3" stroke-width="1.0" fill="none"/><path d="M218.79 430V439.33M216.29 430H221.29M216.29 439.33H221.29" stroke="#9cc2e3" stroke-width="1.0" fill="none"/><path d="M221.62 432.33V437.36M219.12 432.33H224.12M219.12 437.36H224.12" stroke="#9cc2e3" stroke-width="1.0" fill="none"/><path d="M224.44 430.99V438.32M221.94 430.99H226.94M221.94 438.32H226.94" stroke="#9cc2e3" stroke-width="1.0" fill="none"/><path d="M227.26 431.67V438.87M224.76 431.67H229.76M224.76 438.87H229.76" stroke="#9cc2e3" stroke-width="1.0" fill="none"/><path d="M230.09 430.16V439.74M227.59 430.16H232.59M227.59 439.74H232.59" stroke="#9cc2e3" stroke-width="1.0" fill="none"/><path d="M232.91 431.31V438.76M230.41 431.31H235.41M230.41 438.76H235.41" stroke="#9cc2e3" stroke-width="1.0" fill="none"/><path d="M235.74 431.01V438.76M233.24 431.01H238.24M233.24 438.76H238.24" stroke="#9cc2e3" stroke-width="1.0" fill="none"/><path d="M238.56 432.78V437.28M236.06 432.78H241.06M236.06 437.28H241.06" stroke="#9cc2e3" stroke-width="1.0" fill="none"/><path d="M241.38 430.18V439.71M238.88 430.18H243.88M238.88 439.71H243.88" stroke="#9cc2e3" stroke-width="1.0" fill="none"/><path d="M244.21 430.21V439.55M241.71 430.21H246.71M241.71 439.55H246.71" stroke="#9cc2e3" stroke-width="1.0" fill="none"/><path d="M247.03 430.72V439.13M244.53 430.72H249.53M244.53 439.13H249.53" stroke="#9cc2e3" stroke-width="1.0" fill="none"/><path d="M249.86 430.14V439.93M247.36 430.14H252.36M247.36 439.93H252.36" stroke="#9cc2e3" stroke-width="1.0" fill="none"/><path d="M252.68 430.87V439.21M250.18 430.87H255.18M250.18 439.21H255.18" stroke="#9cc2e3" stroke-width="1.0" fill="none"/><path d="M255.5 433.75V442.75M253 433.75H258M253 442.75H258" stroke="#9cc2e3" stroke-width="1.0" fill="none"/><path d="M258.33 430.03V439.92M255.83 430.03H260.83M255.83 439.92H260.83" stroke="#9cc2e3" stroke-width="1.0" fill="none"/><path d="M261.15 430.65V439.02M258.65 430.65H263.65M258.65 439.02H263.65" stroke="#9cc2e3" stroke-width="1.0" fill="none"/><path d="M263.98 432.64V437.12M261.48 432.64H266.48M261.48 437.12H266.48" stroke="#9cc2e3" stroke-width="1.0" fill="none"/><path d="M266.8 429.77V439.88M264.3 429.77H269.3M264.3 439.88H269.3" stroke="#9cc2e3" stroke-width="1.0" fill="none"/><path d="M269.62 429.62V440.42M267.12 429.62H272.12M267.12 440.42H272.12" stroke="#9cc2e3" stroke-width="1.0" fill="none"/><path d="M272.45 432.09V437.75M269.95 432.09H274.95M269.95 437.75H274.95" stroke="#9cc2e3" stroke-width="1.0" fill="none"/><path d="M275.27 432.62V437.4M272.77 432.62H277.77M272.77 437.4H277.77" stroke="#9cc2e3" stroke-width="1.0" fill="none"/><path d="M278.1 431.54V438.1M275.6 431.54H280.6M275.6 438.1H280.6" stroke="#9cc2e3" stroke-width="1.0" fill="none"/><path d="M280.92 432.16V437.16M278.42 432.16H283.42M278.42 437.16H283.42" stroke="#9cc2e3" stroke-width="1.0" fill="none"/><path d="M283.74 432.12V438.87M281.24 432.12H286.24M281.24 438.87H286.24" stroke="#9cc2e3" stroke-width="1.0" fill="none"/><path d="M286.57 432.27V437.19M284.07 432.27H289.07M284.07 437.19H289.07" stroke="#9cc2e3" stroke-width="1.0" fill="none"/><path d="M289.39 432.14V437.92M286.89 432.14H291.89M286.89 437.92H291.89" stroke="#9cc2e3" stroke-width="1.0" fill="none"/><path d="M292.22 432.95V437.32M289.72 432.95H294.72M289.72 437.32H294.72" stroke="#9cc2e3" stroke-width="1.0" fill="none"/><path d="M295.04 431.36V438.5M292.54 431.36H297.54M292.54 438.5H297.54" stroke="#9cc2e3" stroke-width="1.0" fill="none"/><path d="M297.86 431.83V438.13M295.36 431.83H300.36M295.36 438.13H300.36" stroke="#9cc2e3" stroke-width="1.0" fill="none"/><path d="M300.69 430.41V439.51M298.19 430.41H303.19M298.19 439.51H303.19" stroke="#9cc2e3" stroke-width="1.0" fill="none"/><path d="M303.51 431.63V438.51M301.01 431.63H306.01M301.01 438.51H306.01" stroke="#9cc2e3" stroke-width="1.0" fill="none"/><path d="M306.34 432.27V437.69M303.84 432.27H308.84M303.84 437.69H308.84" stroke="#9cc2e3" stroke-width="1.0" fill="none"/><path d="M309.16 429.68V440.24M306.66 429.68H311.66M306.66 440.24H311.66" stroke="#9cc2e3" stroke-width="1.0" fill="none"/><path d="M311.98 433.55V443.73M309.48 433.55H314.48M309.48 443.73H314.48" stroke="#9cc2e3" stroke-width="1.0" fill="none"/><path d="M314.81 432.68V441.51M312.31 432.68H317.31M312.31 441.51H317.31" stroke="#9cc2e3" stroke-width="1.0" fill="none"/><path d="M317.63 434.26V440.02M315.13 434.26H320.13M315.13 440.02H320.13" stroke="#9cc2e3" stroke-width="1.0" fill="none"/><path d="M320.46 433.6V440.57M317.96 433.6H322.96M317.96 440.57H322.96" stroke="#9cc2e3" stroke-width="1.0" fill="none"/><path d="M323.28 430.02V437.3M320.78 430.02H325.78M320.78 437.3H325.78" stroke="#9cc2e3" stroke-width="1.0" fill="none"/><path d="M326.1 430.04V437.04M323.6 430.04H328.6M323.6 437.04H328.6" stroke="#9cc2e3" stroke-width="1.0" fill="none"/><path d="M328.93 431.04V435.55M326.43 431.04H331.43M326.43 435.55H331.43" stroke="#9cc2e3" stroke-width="1.0" fill="none"/><path d="M331.75 429.57V436.88M329.25 429.57H334.25M329.25 436.88H334.25" stroke="#9cc2e3" stroke-width="1.0" fill="none"/><path d="M334.58 428.09V437.44M332.08 428.09H337.08M332.08 437.44H337.08" stroke="#9cc2e3" stroke-width="1.0" fill="none"/><path d="M337.4 436.06V444.92M334.9 436.06H339.9M334.9 444.92H339.9" stroke="#9cc2e3" stroke-width="1.0" fill="none"/>
<rect x="54.52" y="423.29" width="6.6" height="6.6" fill="#1f77b4"/><rect x="57.35" y="382.4" width="6.6" height="6.6" fill="#1f77b4"/><rect x="60.17" y="388" width="6.6" height="6.6" fill="#1f77b4"/><rect x="63" y="392.49" width="6.6" height="6.6" fill="#1f77b4"/><rect x="65.82" y="396.69" width="6.6" height="6.6" fill="#1f77b4"/><rect x="68.64" y="399.48" width="6.6" height="6.6" fill="#1f77b4"/><rect x="71.47" y="403.91" width="6.6" height="6.6" fill="#1f77b4"/><rect x="74.29" y="406.48" width="6.6" height="6.6" fill="#1f77b4"/><rect x="77.12" y="408.82" width="6.6" height="6.6" fill="#1f77b4"/><rect x="79.94" y="411.09" width="6.6" height="6.6" fill="#1f77b4"/><rect x="82.76" y="412.66" width="6.6" height="6.6" fill="#1f77b4"/><rect x="85.59" y="414.3" width="6.6" height="6.6" fill="#1f77b4"/><rect x="88.41" y="415.22" width="6.6" height="6.6" fill="#1f77b4"/><rect x="91.24" y="417.16" width="6.6" height="6.6" fill="#1f77b4"/><rect x="94.06" y="416.62" width="6.6" height="6.6" fill="#1f77b4"/><rect x="96.88" y="418.46" width="6.6" height="6.6" fill="#1f77b4"/><rect x="99.71" y="418.23" width="6.6" height="6.6" fill="#1f77b4"/><rect x="102.53" y="419.33" width="6.6" height="6.6" fill="#1f77b4"/><rect x="105.36" y="421.44" width="6.6" height="6.6" fill="#1f77b4"/><rect x="108.18" y="422.31" width="6.6" height="6.6" fill="#1f77b4"/><rect x="111" y="431.76" width="6.6" height="6.6" fill="#1f77b4"/><rect x="113.83" y="427.14" width="6.6" height="6.6" fill="#1f77b4"/><rect x="116.65" y="427.45" width="6.6" height="6.6" fill="#1f77b4"/><rect x="119.48" y="428.16" width="6.6" height="6.6" fill="#1f77b4"/><rect x="122.3" y="428.6" width="6.6" height="6.6" fill="#1f77b4"/><rect x="125.12" y="428.84" width="6.6" height="6.6" fill="#1f77b4"/><rect x="127.95" y="429.36" width="6.6" height="6.6" fill="#1f77b4"/><rect x="130.77" y="429.57" width="6.6" height="6.6" fill="#1f77b4"/><rect x="133.6" y="429.88" width="6.6" height="6.6" fill="#1f77b4"/><rect x="136.42" y="430.03" width="6.6" height="6.6" fill="#1f77b4"/><rect x="139.24" y="432.17" width="6.6" height="6.6" fill="#1f77b4"/><rect x="142.07" y="430.32" width="6.6" height="6.6" fill="#1f77b4"/><rect x="144.89" y="430.19" width="6.6" height="6.6" fill="#1f77b4"/><rect x="147.72" y="430.58" width="6.6" height="6.6" fill="#1f77b4"/><rect x="150.54" y="430.67" width="6.6" height="6.6" fill="#1f77b4"/><rect x="153.36" y="430.66" width="6.6" height="6.6" fill="#1f77b4"/><rect x="156.19" y="430.81" width="6.6" height="6.6" fill="#1f77b4"/><rect x="159.01" y="430.67" width="6.6" height="6.6" fill="#1f77b4"/><rect x="161.84" y="430.73" width="6.6" height="6.6" fill="#1f77b4"/><rect x="164.66" y="431.03" width="6.6" height="6.6" fill="#1f77b4"/><rect x="167.48" y="435.88" width="6.6" height="6.6" fill="#1f77b4"/><rect x="170.31" y="430.92" width="6.6" height="6.6" fill="#1f77b4"/><rect x="173.13" y="430.87" width="6.6" height="6.6" fill="#1f77b4"/><rect x="175.96" y="431.06" width="6.6" height="6.6" fill="#1f77b4"/><rect x="178.78" y="431.22" width="6.6" height="6.6" fill="#1f77b4"/><rect x="181.6" y="431.05" width="6.6" height="6.6" fill="#1f77b4"/><rect x="184.43" y="431.54" width="6.6" height="6.6" fill="#1f77b4"/><rect x="187.25" y="431.54" width="6.6" height="6.6" fill="#1f77b4"/><rect x="190.08" y="431.26" width="6.6" height="6.6" fill="#1f77b4"/><rect x="192.9" y="431.44" width="6.6" height="6.6" fill="#1f77b4"/><rect x="195.72" y="434.75" width="6.6" height="6.6" fill="#1f77b4"/><rect x="198.55" y="431.44" width="6.6" height="6.6" fill="#1f77b4"/><rect x="201.37" y="431.27" width="6.6" height="6.6" fill="#1f77b4"/><rect x="204.2" y="431.5" width="6.6" height="6.6" fill="#1f77b4"/><rect x="207.02" y="431.61" width="6.6" height="6.6" fill="#1f77b4"/><rect x="209.84" y="431.72" width="6.6" height="6.6" fill="#1f77b4"/><rect x="212.67" y="431.73" width="6.6" height="6.6" fill="#1f77b4"/><rect x="215.49" y="431.37" width="6.6" height="6.6" fill="#1f77b4"/><rect x="218.32" y="431.54" width="6.6" height="6.6" fill="#1f77b4"/><rect x="221.14" y="431.35" width="6.6" height="6.6" fill="#1f77b4"/><rect x="223.96" y="431.97" width="6.6" height="6.6" fill="#1f77b4"/><rect x="226.79" y="431.65" width="6.6" height="6.6" fill="#1f77b4"/><rect x="229.61" y="431.74" width="6.6" height="6.6" fill="#1f77b4"/><rect x="232.44" y="431.58" width="6.6" height="6.6" fill="#1f77b4"/><rect x="235.26" y="431.73" width="6.6" height="6.6" fill="#1f77b4"/><rect x="238.08" y="431.65" width="6.6" height="6.6" fill="#1f77b4"/><rect x="240.91" y="431.58" width="6.6" height="6.6" fill="#1f77b4"/><rect x="243.73" y="431.62" width="6.6" height="6.6" fill="#1f77b4"/><rect x="246.56" y="431.73" width="6.6" height="6.6" fill="#1f77b4"/><rect x="249.38" y="431.74" width="6.6" height="6.6" fill="#1f77b4"/><rect x="252.2" y="434.95" width="6.6" height="6.6" fill="#1f77b4"/><rect x="255.03" y="431.68" width="6.6" height="6.6" fill="#1f77b4"/><rect x="257.85" y="431.54" width="6.6" height="6.6" fill="#1f77b4"/><rect x="260.68" y="431.58" width="6.6" height="6.6" fill="#1f77b4"/><rect x="263.5" y="431.53" width="6.6" height="6.6" fill="#1f77b4"/><rect x="266.32" y="431.72" width="6.6" height="6.6" fill="#1f77b4"/><rect x="269.15" y="431.62" width="6.6" height="6.6" fill="#1f77b4"/><rect x="271.97" y="431.71" width="6.6" height="6.6" fill="#1f77b4"/><rect x="274.8" y="431.52" width="6.6" height="6.6" fill="#1f77b4"/><rect x="277.62" y="431.36" width="6.6" height="6.6" fill="#1f77b4"/><rect x="280.44" y="432.19" width="6.6" height="6.6" fill="#1f77b4"/><rect x="283.27" y="431.43" width="6.6" height="6.6" fill="#1f77b4"/><rect x="286.09" y="431.73" width="6.6" height="6.6" fill="#1f77b4"/><rect x="288.92" y="431.84" width="6.6" height="6.6" fill="#1f77b4"/><rect x="291.74" y="431.63" width="6.6" height="6.6" fill="#1f77b4"/><rect x="294.56" y="431.68" width="6.6" height="6.6" fill="#1f77b4"/><rect x="297.39" y="431.66" width="6.6" height="6.6" fill="#1f77b4"/><rect x="300.21" y="431.77" width="6.6" height="6.6" fill="#1f77b4"/><rect x="303.04" y="431.68" width="6.6" height="6.6" fill="#1f77b4"/><rect x="305.86" y="431.66" width="6.6" height="6.6" fill="#1f77b4"/><rect x="308.68" y="435.34" width="6.6" height="6.6" fill="#1f77b4"/><rect x="311.51" y="433.8" width="6.6" height="6.6" fill="#1f77b4"/><rect x="314.33" y="433.84" width="6.6" height="6.6" fill="#1f77b4"/><rect x="317.16" y="433.79" width="6.6" height="6.6" fill="#1f77b4"/><rect x="319.98" y="430.36" width="6.6" height="6.6" fill="#1f77b4"/><rect x="322.8" y="430.24" width="6.6" height="6.6" fill="#1f77b4"/><rect x="325.63" y="429.99" width="6.6" height="6.6" fill="#1f77b4"/><rect x="328.45" y="429.93" width="6.6" height="6.6" fill="#1f77b4"/><rect x="331.28" y="429.47" width="6.6" height="6.6" fill="#1f77b4"/><rect x="334.1" y="437.19" width="6.6" height="6.6" fill="#1f77b4"/>
<path d="M63.47 289.45V365.63M60.97 289.45H65.97M60.97 365.63H65.97" stroke="#e88284" stroke-width="1.0" fill="none"/><path d="M66.3 288.47V366.14M63.8 288.47H68.8M63.8 366.14H68.8" stroke="#e88284" stroke-width="1.0" fill="none"/><path d="M69.12 288.87V365.33M66.62 288.87H71.62M66.62 365.33H71.62" stroke="#e88284" stroke-width="1.0" fill="none"/><path d="M71.94 289.57V367.95M69.44 289.57H74.44M69.44 367.95H74.44" stroke="#e88284" stroke-width="1.0" fill="none"/><path d="M74.77 288.41V366.68M72.27 288.41H77.27M72.27 366.68H77.27" stroke="#e88284" stroke-width="1.0" fill="none"/><path d="M77.59 290.7V366.39M75.09 290.7H80.09M75.09 366.39H80.09" stroke="#e88284" stroke-width="1.0" fill="none"/><path d="M80.42 291.3V369.12M77.92 291.3H82.92M77.92 369.12H82.92" stroke="#e88284" stroke-width="1.0" fill="none"/><path d="M83.24 289.45V368.81M80.74 289.45H85.74M80.74 368.81H85.74" stroke="#e88284" stroke-width="1.0" fill="none"/><path d="M91.71 276.12V322.66M89.21 276.12H94.21M89.21 322.66H94.21" stroke="#e88284" stroke-width="1.0" fill="none"/><path d="M94.54 278.63V323.89M92.04 278.63H97.04M92.04 323.89H97.04" stroke="#e88284" stroke-width="1.0" fill="none"/><path d="M97.36 289.35V324.77M94.86 289.35H99.86M94.86 324.77H99.86" stroke="#e88284" stroke-width="1.0" fill="none"/><path d="M100.18 294.56V323.52M97.68 294.56H102.68M97.68 323.52H102.68" stroke="#e88284" stroke-width="1.0" fill="none"/><path d="M103.01 295.48V325.92M100.51 295.48H105.51M100.51 325.92H105.51" stroke="#e88284" stroke-width="1.0" fill="none"/><path d="M105.83 295.73V326.64M103.33 295.73H108.33M103.33 326.64H108.33" stroke="#e88284" stroke-width="1.0" fill="none"/><path d="M108.66 296.45V324.46M106.16 296.45H111.16M106.16 324.46H111.16" stroke="#e88284" stroke-width="1.0" fill="none"/><path d="M111.48 296.59V326.64M108.98 296.59H113.98M108.98 326.64H113.98" stroke="#e88284" stroke-width="1.0" fill="none"/><path d="M119.95 246.53V299.96M117.45 246.53H122.45M117.45 299.96H122.45" stroke="#e88284" stroke-width="1.0" fill="none"/><path d="M122.78 270.47V300.61M120.28 270.47H125.28M120.28 300.61H125.28" stroke="#e88284" stroke-width="1.0" fill="none"/><path d="M125.6 280.11V300.14M123.1 280.11H128.1M123.1 300.14H128.1" stroke="#e88284" stroke-width="1.0" fill="none"/><path d="M128.42 283.84V304.17M125.92 283.84H130.92M125.92 304.17H130.92" stroke="#e88284" stroke-width="1.0" fill="none"/><path d="M131.25 281.48V304.65M128.75 281.48H133.75M128.75 304.65H133.75" stroke="#e88284" stroke-width="1.0" fill="none"/><path d="M134.07 284.03V301.01M131.57 284.03H136.57M131.57 301.01H136.57" stroke="#e88284" stroke-width="1.0" fill="none"/><path d="M136.9 288.11V300.77M134.4 288.11H139.4M134.4 300.77H139.4" stroke="#e88284" stroke-width="1.0" fill="none"/><path d="M139.72 287.09V300.17M137.22 287.09H142.22M137.22 300.17H142.22" stroke="#e88284" stroke-width="1.0" fill="none"/><path d="M148.19 213.95V303.24M145.69 213.95H150.69M145.69 303.24H150.69" stroke="#e88284" stroke-width="1.0" fill="none"/><path d="M151.02 243.2V305.15M148.52 243.2H153.52M148.52 305.15H153.52" stroke="#e88284" stroke-width="1.0" fill="none"/><path d="M153.84 246.71V303.75M151.34 246.71H156.34M151.34 303.75H156.34" stroke="#e88284" stroke-width="1.0" fill="none"/><path d="M156.66 257.88V304.84M154.16 257.88H159.16M154.16 304.84H159.16" stroke="#e88284" stroke-width="1.0" fill="none"/><path d="M159.49 267.04V301.78M156.99 267.04H161.99M156.99 301.78H161.99" stroke="#e88284" stroke-width="1.0" fill="none"/><path d="M162.31 268.47V303.24M159.81 268.47H164.81M159.81 303.24H164.81" stroke="#e88284" stroke-width="1.0" fill="none"/><path d="M165.14 266.14V302.57M162.64 266.14H167.64M162.64 302.57H167.64" stroke="#e88284" stroke-width="1.0" fill="none"/><path d="M167.96 265.1V305.55M165.46 265.1H170.46M165.46 305.55H170.46" stroke="#e88284" stroke-width="1.0" fill="none"/><path d="M176.43 200.92V297.4M173.93 200.92H178.93M173.93 297.4H178.93" stroke="#e88284" stroke-width="1.0" fill="none"/><path d="M179.26 231.14V297.85M176.76 231.14H181.76M176.76 297.85H181.76" stroke="#e88284" stroke-width="1.0" fill="none"/><path d="M182.08 245.77V295.46M179.58 245.77H184.58M179.58 295.46H184.58" stroke="#e88284" stroke-width="1.0" fill="none"/><path d="M184.9 254.31V295.99M182.4 254.31H187.4M182.4 295.99H187.4" stroke="#e88284" stroke-width="1.0" fill="none"/><path d="M187.73 263.44V296.82M185.23 263.44H190.23M185.23 296.82H190.23" stroke="#e88284" stroke-width="1.0" fill="none"/><path d="M190.55 265.25V296.18M188.05 265.25H193.05M188.05 296.18H193.05" stroke="#e88284" stroke-width="1.0" fill="none"/><path d="M193.38 274.76V296.21M190.88 274.76H195.88M190.88 296.21H195.88" stroke="#e88284" stroke-width="1.0" fill="none"/><path d="M196.2 258.15V296.85M193.7 258.15H198.7M193.7 296.85H198.7" stroke="#e88284" stroke-width="1.0" fill="none"/><path d="M204.67 195.92V295.04M202.17 195.92H207.17M202.17 295.04H207.17" stroke="#e88284" stroke-width="1.0" fill="none"/><path d="M207.5 233.73V296.56M205 233.73H210M205 296.56H210" stroke="#e88284" stroke-width="1.0" fill="none"/><path d="M210.32 248.36V295.01M207.82 248.36H212.82M207.82 295.01H212.82" stroke="#e88284" stroke-width="1.0" fill="none"/><path d="M213.14 250.83V293.84M210.64 250.83H215.64M210.64 293.84H215.64" stroke="#e88284" stroke-width="1.0" fill="none"/><path d="M215.97 257.92V295.84M213.47 257.92H218.47M213.47 295.84H218.47" stroke="#e88284" stroke-width="1.0" fill="none"/><path d="M218.79 252.05V295.77M216.29 252.05H221.29M216.29 295.77H221.29" stroke="#e88284" stroke-width="1.0" fill="none"/><path d="M221.62 264.38V295.83M219.12 264.38H224.12M219.12 295.83H224.12" stroke="#e88284" stroke-width="1.0" fill="none"/><path d="M224.44 258.42V295.55M221.94 258.42H226.94M221.94 295.55H226.94" stroke="#e88284" stroke-width="1.0" fill="none"/><path d="M235.74 213.73V295.81M233.24 213.73H238.24M233.24 295.81H238.24" stroke="#e88284" stroke-width="1.0" fill="none"/><path d="M238.56 244.69V294.48M236.06 244.69H241.06M236.06 294.48H241.06" stroke="#e88284" stroke-width="1.0" fill="none"/><path d="M241.38 248.68V292.71M238.88 248.68H243.88M238.88 292.71H243.88" stroke="#e88284" stroke-width="1.0" fill="none"/><path d="M244.21 252.37V295.75M241.71 252.37H246.71M241.71 295.75H246.71" stroke="#e88284" stroke-width="1.0" fill="none"/><path d="M247.03 259.28V294.56M244.53 259.28H249.53M244.53 294.56H249.53" stroke="#e88284" stroke-width="1.0" fill="none"/><path d="M249.86 259V293.91M247.36 259H252.36M247.36 293.91H252.36" stroke="#e88284" stroke-width="1.0" fill="none"/><path d="M252.68 268.38V295.96M250.18 268.38H255.18M250.18 295.96H255.18" stroke="#e88284" stroke-width="1.0" fill="none"/><path d="M263.98 214.82V290.43M261.48 214.82H266.48M261.48 290.43H266.48" stroke="#e88284" stroke-width="1.0" fill="none"/><path d="M266.8 239.56V290.54M264.3 239.56H269.3M264.3 290.54H269.3" stroke="#e88284" stroke-width="1.0" fill="none"/><path d="M269.62 251.67V289.3M267.12 251.67H272.12M267.12 289.3H272.12" stroke="#e88284" stroke-width="1.0" fill="none"/><path d="M272.45 252.98V289.28M269.95 252.98H274.95M269.95 289.28H274.95" stroke="#e88284" stroke-width="1.0" fill="none"/><path d="M275.27 261.82V288.95M272.77 261.82H277.77M272.77 288.95H277.77" stroke="#e88284" stroke-width="1.0" fill="none"/><path d="M278.1 262.44V288.5M275.6 262.44H280.6M275.6 288.5H280.6" stroke="#e88284" stroke-width="1.0" fill="none"/><path d="M280.92 271.22V289.81M278.42 271.22H283.42M278.42 289.81H283.42" stroke="#e88284" stroke-width="1.0" fill="none"/><path d="M292.22 213.08V293.41M289.72 213.08H294.72M289.72 293.41H294.72" stroke="#e88284" stroke-width="1.0" fill="none"/><path d="M295.04 241.76V291.81M292.54 241.76H297.54M292.54 291.81H297.54" stroke="#e88284" stroke-width="1.0" fill="none"/><path d="M297.86 256.03V292.5M295.36 256.03H300.36M295.36 292.5H300.36" stroke="#e88284" stroke-width="1.0" fill="none"/><path d="M300.69 260.1V290.95M298.19 260.1H303.19M298.19 290.95H303.19" stroke="#e88284" stroke-width="1.0" fill="none"/><path d="M303.51 264.27V293.18M301.01 264.27H306.01M301.01 293.18H306.01" stroke="#e88284" stroke-width="1.0" fill="none"/><path d="M306.34 270.4V290.27M303.84 270.4H308.84M303.84 290.27H308.84" stroke="#e88284" stroke-width="1.0" fill="none"/><path d="M309.16 264.39V293.53M306.66 264.39H311.66M306.66 293.53H311.66" stroke="#e88284" stroke-width="1.0" fill="none"/><path d="M320.46 211.99V289.38M317.96 211.99H322.96M317.96 289.38H322.96" stroke="#e88284" stroke-width="1.0" fill="none"/><path d="M323.28 251.07V293.74M320.78 251.07H325.78M320.78 293.74H325.78" stroke="#e88284" stroke-width="1.0" fill="none"/><path d="M326.1 261.9V290.83M323.6 261.9H328.6M323.6 290.83H328.6" stroke="#e88284" stroke-width="1.0" fill="none"/><path d="M328.93 268.09V290.67M326.43 268.09H331.43M326.43 290.67H331.43" stroke="#e88284" stroke-width="1.0" fill="none"/><path d="M331.75 269.1V291.71M329.25 269.1H334.25M329.25 291.71H334.25" stroke="#e88284" stroke-width="1.0" fill="none"/><path d="M334.58 264.41V292.36M332.08 264.41H337.08M332.08 292.36H337.08" stroke="#e88284" stroke-width="1.0" fill="none"/><path d="M337.4 263.76V291.44M334.9 263.76H339.9M334.9 291.44H339.9" stroke="#e88284" stroke-width="1.0" fill="none"/>
<circle cx="63.47" cy="357.73" r="3.2" fill="#d62728"/><circle cx="66.3" cy="335.15" r="3.2" fill="#d62728"/><circle cx="69.12" cy="326.24" r="3.2" fill="#d62728"/><circle cx="71.94" cy="319.72" r="3.2" fill="#d62728"/><circle cx="74.77" cy="326.24" r="3.2" fill="#d62728"/><circle cx="77.59" cy="316.25" r="3.2" fill="#d62728"/><circle cx="80.42" cy="318.64" r="3.2" fill="#d62728"/><circle cx="83.24" cy="326.67" r="3.2" fill="#d62728"/><circle cx="91.71" cy="288.23" r="3.2" fill="#d62728"/><circle cx="94.54" cy="294.96" r="3.2" fill="#d62728"/><circle cx="97.36" cy="300.83" r="3.2" fill="#d62728"/><circle cx="100.18" cy="307.78" r="3.2" fill="#d62728"/><circle cx="103.01" cy="308.21" r="3.2" fill="#d62728"/><circle cx="105.83" cy="307.56" r="3.2" fill="#d62728"/><circle cx="108.66" cy="308" r="3.2" fill="#d62728"/><circle cx="111.48" cy="311.04" r="3.2" fill="#d62728"/><circle cx="119.95" cy="275.85" r="3.2" fill="#d62728"/><circle cx="122.78" cy="281.28" r="3.2" fill="#d62728"/><circle cx="125.6" cy="289.32" r="3.2" fill="#d62728"/><circle cx="128.42" cy="292.57" r="3.2" fill="#d62728"/><circle cx="131.25" cy="294.09" r="3.2" fill="#d62728"/><circle cx="134.07" cy="295.83" r="3.2" fill="#d62728"/><circle cx="136.9" cy="299.74" r="3.2" fill="#d62728"/><circle cx="139.72" cy="299.74" r="3.2" fill="#d62728"/><circle cx="148.19" cy="248.7" r="3.2" fill="#d62728"/><circle cx="151.02" cy="259.78" r="3.2" fill="#d62728"/><circle cx="153.84" cy="267.6" r="3.2" fill="#d62728"/><circle cx="156.66" cy="273.03" r="3.2" fill="#d62728"/><circle cx="159.49" cy="279.76" r="3.2" fill="#d62728"/><circle cx="162.31" cy="282.8" r="3.2" fill="#d62728"/><circle cx="165.14" cy="284.54" r="3.2" fill="#d62728"/><circle cx="167.96" cy="284.97" r="3.2" fill="#d62728"/><circle cx="176.43" cy="235.67" r="3.2" fill="#d62728"/><circle cx="179.26" cy="252.39" r="3.2" fill="#d62728"/><circle cx="182.08" cy="261.08" r="3.2" fill="#d62728"/><circle cx="184.9" cy="267.6" r="3.2" fill="#d62728"/><circle cx="187.73" cy="276.28" r="3.2" fill="#d62728"/><circle cx="190.55" cy="287.14" r="3.2" fill="#d62728"/><circle cx="193.38" cy="287.14" r="3.2" fill="#d62728"/><circle cx="196.2" cy="275.2" r="3.2" fill="#d62728"/><circle cx="204.67" cy="230.67" r="3.2" fill="#d62728"/><circle cx="207.5" cy="248.7" r="3.2" fill="#d62728"/><circle cx="210.32" cy="261.08" r="3.2" fill="#d62728"/><circle cx="213.14" cy="265.42" r="3.2" fill="#d62728"/><circle cx="215.97" cy="270.85" r="3.2" fill="#d62728"/><circle cx="218.79" cy="274.11" r="3.2" fill="#d62728"/><circle cx="221.62" cy="277.37" r="3.2" fill="#d62728"/><circle cx="224.44" cy="280.63" r="3.2" fill="#d62728"/><circle cx="235.74" cy="248.48" r="3.2" fill="#d62728"/><circle cx="238.56" cy="258.91" r="3.2" fill="#d62728"/><circle cx="241.38" cy="265.64" r="3.2" fill="#d62728"/><circle cx="244.21" cy="273.68" r="3.2" fill="#d62728"/><circle cx="247.03" cy="278.67" r="3.2" fill="#d62728"/><circle cx="249.86" cy="280.41" r="3.2" fill="#d62728"/><circle cx="252.68" cy="282.8" r="3.2" fill="#d62728"/><circle cx="263.98" cy="249.57" r="3.2" fill="#d62728"/><circle cx="266.8" cy="260.43" r="3.2" fill="#d62728"/><circle cx="269.62" cy="267.38" r="3.2" fill="#d62728"/><circle cx="272.45" cy="274.11" r="3.2" fill="#d62728"/><circle cx="275.27" cy="278.67" r="3.2" fill="#d62728"/><circle cx="278.1" cy="281.06" r="3.2" fill="#d62728"/><circle cx="280.92" cy="287.8" r="3.2" fill="#d62728"/><circle cx="292.22" cy="247.83" r="3.2" fill="#d62728"/><circle cx="295.04" cy="263.25" r="3.2" fill="#d62728"/><circle cx="297.86" cy="271.94" r="3.2" fill="#d62728"/><circle cx="300.69" cy="278.46" r="3.2" fill="#d62728"/><circle cx="303.51" cy="281.06" r="3.2" fill="#d62728"/><circle cx="306.34" cy="282.8" r="3.2" fill="#d62728"/><circle cx="309.16" cy="284.54" r="3.2" fill="#d62728"/><circle cx="320.46" cy="246.74" r="3.2" fill="#d62728"/><circle cx="323.28" cy="263.9" r="3.2" fill="#d62728"/><circle cx="326.1" cy="276.94" r="3.2" fill="#d62728"/><circle cx="328.93" cy="280.41" r="3.2" fill="#d62728"/><circle cx="331.75" cy="282.8" r="3.2" fill="#d62728"/><circle cx="334.58" cy="283.89" r="3.2" fill="#d62728"/><circle cx="337.4" cy="284.97" r="3.2" fill="#d62728"/>
<path d="M57.82 436.36V440.7M55.32 436.36H60.32M55.32 440.7H60.32" stroke="#8fcf8f" stroke-width="1.0" fill="none"/><path d="M60.65 425V428.93M58.15 425H63.15M58.15 428.93H63.15" stroke="#8fcf8f" stroke-width="1.0" fill="none"/><path d="M63.47 428.35V431.7M60.97 428.35H65.97M60.97 431.7H65.97" stroke="#8fcf8f" stroke-width="1.0" fill="none"/><path d="M66.3 430.22V434.16M63.8 430.22H68.8M63.8 434.16H68.8" stroke="#8fcf8f" stroke-width="1.0" fill="none"/><path d="M69.12 432.39V434.59M66.62 432.39H71.62M66.62 434.59H71.62" stroke="#8fcf8f" stroke-width="1.0" fill="none"/><path d="M71.94 432.81V435.78M69.44 432.81H74.44M69.44 435.78H74.44" stroke="#8fcf8f" stroke-width="1.0" fill="none"/><path d="M74.77 433.66V436.23M72.27 433.66H77.27M72.27 436.23H77.27" stroke="#8fcf8f" stroke-width="1.0" fill="none"/><path d="M77.59 433.58V436.95M75.09 433.58H80.09M75.09 436.95H80.09" stroke="#8fcf8f" stroke-width="1.0" fill="none"/><path d="M80.42 434.7V436.72M77.92 434.7H82.92M77.92 436.72H82.92" stroke="#8fcf8f" stroke-width="1.0" fill="none"/><path d="M83.24 434.02V438.06M80.74 434.02H85.74M80.74 438.06H85.74" stroke="#8fcf8f" stroke-width="1.0" fill="none"/><path d="M86.06 434.8V437.51M83.56 434.8H88.56M83.56 437.51H88.56" stroke="#8fcf8f" stroke-width="1.0" fill="none"/><path d="M88.89 434.39V438.17M86.39 434.39H91.39M86.39 438.17H91.39" stroke="#8fcf8f" stroke-width="1.0" fill="none"/><path d="M91.71 434.1V438.3M89.21 434.1H94.21M89.21 438.3H94.21" stroke="#8fcf8f" stroke-width="1.0" fill="none"/><path d="M94.54 434.04V438.23M92.04 434.04H97.04M92.04 438.23H97.04" stroke="#8fcf8f" stroke-width="1.0" fill="none"/><path d="M97.36 434.69V437.44M94.86 434.69H99.86M94.86 437.44H99.86" stroke="#8fcf8f" stroke-width="1.0" fill="none"/><path d="M100.18 434.02V437.99M97.68 434.02H102.68M97.68 437.99H102.68" stroke="#8fcf8f" stroke-width="1.0" fill="none"/><path d="M103.01 433.63V437.96M100.51 433.63H105.51M100.51 437.96H105.51" stroke="#8fcf8f" stroke-width="1.0" fill="none"/><path d="M105.83 434.65V436.73M103.33 434.65H108.33M103.33 436.73H108.33" stroke="#8fcf8f" stroke-width="1.0" fill="none"/><path d="M108.66 433.63V437.31M106.16 433.63H111.16M106.16 437.31H111.16" stroke="#8fcf8f" stroke-width="1.0" fill="none"/><path d="M111.48 433.6V437.23M108.98 433.6H113.98M108.98 437.23H113.98" stroke="#8fcf8f" stroke-width="1.0" fill="none"/><path d="M114.3 437.07V440M111.8 437.07H116.8M111.8 440H116.8" stroke="#8fcf8f" stroke-width="1.0" fill="none"/><path d="M117.13 433.94V436.4M114.63 433.94H119.63M114.63 436.4H119.63" stroke="#8fcf8f" stroke-width="1.0" fill="none"/><path d="M119.95 434.07V436.26M117.45 434.07H122.45M117.45 436.26H122.45" stroke="#8fcf8f" stroke-width="1.0" fill="none"/><path d="M122.78 433.6V436.41M120.28 433.6H125.28M120.28 436.41H125.28" stroke="#8fcf8f" stroke-width="1.0" fill="none"/><path d="M125.6 432.74V436.91M123.1 432.74H128.1M123.1 436.91H128.1" stroke="#8fcf8f" stroke-width="1.0" fill="none"/><path d="M128.42 433.15V435.93M125.92 433.15H130.92M125.92 435.93H130.92" stroke="#8fcf8f" stroke-width="1.0" fill="none"/><path d="M131.25 433.19V435.59M128.75 433.19H133.75M128.75 435.59H133.75" stroke="#8fcf8f" stroke-width="1.0" fill="none"/><path d="M134.07 432.45V435.8M131.57 432.45H136.57M131.57 435.8H136.57" stroke="#8fcf8f" stroke-width="1.0" fill="none"/><path d="M136.9 432.56V435.44M134.4 432.56H139.4M134.4 435.44H139.4" stroke="#8fcf8f" stroke-width="1.0" fill="none"/><path d="M139.72 432.09V435.43M137.22 432.09H142.22M137.22 435.43H142.22" stroke="#8fcf8f" stroke-width="1.0" fill="none"/><path d="M142.54 435.18V438.1M140.04 435.18H145.04M140.04 438.1H145.04" stroke="#8fcf8f" stroke-width="1.0" fill="none"/><path d="M145.37 432.54V435.02M142.87 432.54H147.87M142.87 435.02H147.87" stroke="#8fcf8f" stroke-width="1.0" fill="none"/><path d="M148.19 432.78V434.61M145.69 432.78H150.69M145.69 434.61H150.69" stroke="#8fcf8f" stroke-width="1.0" fill="none"/><path d="M151.02 431.64V435.51M148.52 431.64H153.52M148.52 435.51H153.52" stroke="#8fcf8f" stroke-width="1.0" fill="none"/><path d="M153.84 431.67V435.12M151.34 431.67H156.34M151.34 435.12H156.34" stroke="#8fcf8f" stroke-width="1.0" fill="none"/><path d="M156.66 431.99V434.36M154.16 431.99H159.16M154.16 434.36H159.16" stroke="#8fcf8f" stroke-width="1.0" fill="none"/><path d="M159.49 431.36V434.4M156.99 431.36H161.99M156.99 434.4H161.99" stroke="#8fcf8f" stroke-width="1.0" fill="none"/><path d="M162.31 430.89V434.14M159.81 430.89H164.81M159.81 434.14H164.81" stroke="#8fcf8f" stroke-width="1.0" fill="none"/><path d="M165.14 430.83V433.88M162.64 430.83H167.64M162.64 433.88H167.64" stroke="#8fcf8f" stroke-width="1.0" fill="none"/><path d="M167.96 430.15V434.24M165.46 430.15H170.46M165.46 434.24H170.46" stroke="#8fcf8f" stroke-width="1.0" fill="none"/><path d="M170.78 435.43V439.2M168.28 435.43H173.28M168.28 439.2H173.28" stroke="#8fcf8f" stroke-width="1.0" fill="none"/><path d="M173.61 430.9V433.43M171.11 430.9H176.11M171.11 433.43H176.11" stroke="#8fcf8f" stroke-width="1.0" fill="none"/><path d="M176.43 430.78V433.4M173.93 430.78H178.93M173.93 433.4H178.93" stroke="#8fcf8f" stroke-width="1.0" fill="none"/><path d="M179.26 430.14V433.47M176.76 430.14H181.76M176.76 433.47H181.76" stroke="#8fcf8f" stroke-width="1.0" fill="none"/><path d="M182.08 430.42V432.58M179.58 430.42H184.58M179.58 432.58H184.58" stroke="#8fcf8f" stroke-width="1.0" fill="none"/><path d="M184.9 429.08V433.25M182.4 429.08H187.4M182.4 433.25H187.4" stroke="#8fcf8f" stroke-width="1.0" fill="none"/><path d="M187.73 429.93V431.79M185.23 429.93H190.23M185.23 431.79H190.23" stroke="#8fcf8f" stroke-width="1.0" fill="none"/><path d="M190.55 429.14V432.18M188.05 429.14H193.05M188.05 432.18H193.05" stroke="#8fcf8f" stroke-width="1.0" fill="none"/><path d="M193.38 429.34V431.79M190.88 429.34H195.88M190.88 431.79H195.88" stroke="#8fcf8f" stroke-width="1.0" fill="none"/><path d="M196.2 428.93V432.04M193.7 428.93H198.7M193.7 432.04H198.7" stroke="#8fcf8f" stroke-width="1.0" fill="none"/><path d="M199.02 429.29V431.15M196.52 429.29H201.52M196.52 431.15H201.52" stroke="#8fcf8f" stroke-width="1.0" fill="none"/><path d="M201.85 429.39V431.71M199.35 429.39H204.35M199.35 431.71H204.35" stroke="#8fcf8f" stroke-width="1.0" fill="none"/><path d="M204.67 428.18V432.49M202.17 428.18H207.17M202.17 432.49H207.17" stroke="#8fcf8f" stroke-width="1.0" fill="none"/><path d="M207.5 428.29V432.08M205 428.29H210M205 432.08H210" stroke="#8fcf8f" stroke-width="1.0" fill="none"/><path d="M210.32 428.65V430.96M207.82 428.65H212.82M207.82 430.96H212.82" stroke="#8fcf8f" stroke-width="1.0" fill="none"/><path d="M213.14 428.05V430.97M210.64 428.05H215.64M210.64 430.97H215.64" stroke="#8fcf8f" stroke-width="1.0" fill="none"/><path d="M215.97 428.39V430.21M213.47 428.39H218.47M213.47 430.21H218.47" stroke="#8fcf8f" stroke-width="1.0" fill="none"/><path d="M218.79 428.29V430.35M216.29 428.29H221.29M216.29 430.35H221.29" stroke="#8fcf8f" stroke-width="1.0" fill="none"/><path d="M221.62 427.94V430.18M219.12 427.94H224.12M219.12 430.18H224.12" stroke="#8fcf8f" stroke-width="1.0" fill="none"/><path d="M224.44 426.86V431.16M221.94 426.86H226.94M221.94 431.16H226.94" stroke="#8fcf8f" stroke-width="1.0" fill="none"/><path d="M227.26 434.04V436.59M224.76 434.04H229.76M224.76 436.59H229.76" stroke="#8fcf8f" stroke-width="1.0" fill="none"/><path d="M230.09 427.99V430.37M227.59 427.99H232.59M227.59 430.37H232.59" stroke="#8fcf8f" stroke-width="1.0" fill="none"/><path d="M232.91 427.95V429.86M230.41 427.95H235.41M230.41 429.86H235.41" stroke="#8fcf8f" stroke-width="1.0" fill="none"/><path d="M235.74 427.79V429.81M233.24 427.79H238.24M233.24 429.81H238.24" stroke="#8fcf8f" stroke-width="1.0" fill="none"/><path d="M238.56 426.66V430.99M236.06 426.66H241.06M236.06 430.99H241.06" stroke="#8fcf8f" stroke-width="1.0" fill="none"/><path d="M241.38 426.79V430.46M238.88 426.79H243.88M238.88 430.46H243.88" stroke="#8fcf8f" stroke-width="1.0" fill="none"/><path d="M244.21 426.25V430.39M241.71 426.25H246.71M241.71 430.39H246.71" stroke="#8fcf8f" stroke-width="1.0" fill="none"/><path d="M247.03 426.33V430.24M244.53 426.33H249.53M244.53 430.24H249.53" stroke="#8fcf8f" stroke-width="1.0" fill="none"/><path d="M249.86 426.25V430.03M247.36 426.25H252.36M247.36 430.03H252.36" stroke="#8fcf8f" stroke-width="1.0" fill="none"/><path d="M252.68 426.79V429.19M250.18 426.79H255.18M250.18 429.19H255.18" stroke="#8fcf8f" stroke-width="1.0" fill="none"/><path d="M255.5 431.27V433.45M253 431.27H258M253 433.45H258" stroke="#8fcf8f" stroke-width="1.0" fill="none"/><path d="M258.33 426.87V429.31M255.83 426.87H260.83M255.83 429.31H260.83" stroke="#8fcf8f" stroke-width="1.0" fill="none"/><path d="M261.15 427.09V429M258.65 427.09H263.65M258.65 429H263.65" stroke="#8fcf8f" stroke-width="1.0" fill="none"/><path d="M263.98 426.68V428.88M261.48 426.68H266.48M261.48 428.88H266.48" stroke="#8fcf8f" stroke-width="1.0" fill="none"/><path d="M266.8 425.92V429.53M264.3 425.92H269.3M264.3 429.53H269.3" stroke="#8fcf8f" stroke-width="1.0" fill="none"/><path d="M269.62 426.18V429.2M267.12 426.18H272.12M267.12 429.2H272.12" stroke="#8fcf8f" stroke-width="1.0" fill="none"/><path d="M272.45 426.46V428.23M269.95 426.46H274.95M269.95 428.23H274.95" stroke="#8fcf8f" stroke-width="1.0" fill="none"/><path d="M275.27 426.02V428.55M272.77 426.02H277.77M272.77 428.55H277.77" stroke="#8fcf8f" stroke-width="1.0" fill="none"/><path d="M278.1 425.25V429.2M275.6 425.25H280.6M275.6 429.2H280.6" stroke="#8fcf8f" stroke-width="1.0" fill="none"/><path d="M280.92 424.84V428.8M278.42 424.84H283.42M278.42 428.8H283.42" stroke="#8fcf8f" stroke-width="1.0" fill="none"/><path d="M283.74 431.72V435.36M281.24 431.72H286.24M281.24 435.36H286.24" stroke="#8fcf8f" stroke-width="1.0" fill="none"/><path d="M286.57 425.31V428.95M284.07 425.31H289.07M284.07 428.95H289.07" stroke="#8fcf8f" stroke-width="1.0" fill="none"/><path d="M289.39 424.94V429.05M286.89 424.94H291.89M286.89 429.05H291.89" stroke="#8fcf8f" stroke-width="1.0" fill="none"/><path d="M292.22 425.13V428.32M289.72 425.13H294.72M289.72 428.32H294.72" stroke="#8fcf8f" stroke-width="1.0" fill="none"/><path d="M295.04 425.33V428.06M292.54 425.33H297.54M292.54 428.06H297.54" stroke="#8fcf8f" stroke-width="1.0" fill="none"/><path d="M297.86 424.96V428.19M295.36 424.96H300.36M295.36 428.19H300.36" stroke="#8fcf8f" stroke-width="1.0" fill="none"/><path d="M300.69 425.16V427.64M298.19 425.16H303.19M298.19 427.64H303.19" stroke="#8fcf8f" stroke-width="1.0" fill="none"/><path d="M303.51 425.34V427.18M301.01 425.34H306.01M301.01 427.18H306.01" stroke="#8fcf8f" stroke-width="1.0" fill="none"/><path d="M306.34 424.8V427.21M303.84 424.8H308.84M303.84 427.21H308.84" stroke="#8fcf8f" stroke-width="1.0" fill="none"/><path d="M309.16 424.43V427.36M306.66 424.43H311.66M306.66 427.36H311.66" stroke="#8fcf8f" stroke-width="1.0" fill="none"/><path d="M311.98 430.17V432.22M309.48 430.17H314.48M309.48 432.22H314.48" stroke="#8fcf8f" stroke-width="1.0" fill="none"/><path d="M314.81 425.16V427.11M312.31 425.16H317.31M312.31 427.11H317.31" stroke="#8fcf8f" stroke-width="1.0" fill="none"/><path d="M317.63 424.75V427.13M315.13 424.75H320.13M315.13 427.13H320.13" stroke="#8fcf8f" stroke-width="1.0" fill="none"/><path d="M320.46 424.51V427.2M317.96 424.51H322.96M317.96 427.2H322.96" stroke="#8fcf8f" stroke-width="1.0" fill="none"/><path d="M323.28 423.43V427.66M320.78 423.43H325.78M320.78 427.66H325.78" stroke="#8fcf8f" stroke-width="1.0" fill="none"/><path d="M326.1 423.97V426.97M323.6 423.97H328.6M323.6 426.97H328.6" stroke="#8fcf8f" stroke-width="1.0" fill="none"/><path d="M328.93 423.39V427.31M326.43 423.39H331.43M326.43 427.31H331.43" stroke="#8fcf8f" stroke-width="1.0" fill="none"/><path d="M331.75 423.46V427.14M329.25 423.46H334.25M329.25 427.14H334.25" stroke="#8fcf8f" stroke-width="1.0" fill="none"/><path d="M334.58 423.6V426.88M332.08 423.6H337.08M332.08 426.88H337.08" stroke="#8fcf8f" stroke-width="1.0" fill="none"/><path d="M337.4 431.08V433.65M334.9 431.08H339.9M334.9 433.65H339.9" stroke="#8fcf8f" stroke-width="1.0" fill="none"/>
<path d="M57.82 434.93L61.62 441.59L54.02 441.59Z" fill="#2ca02c"/><path d="M60.65 423.36L64.45 430.02L56.85 430.02Z" fill="#2ca02c"/><path d="M63.47 426.43L67.27 433.09L59.67 433.09Z" fill="#2ca02c"/><path d="M66.3 428.59L70.1 435.25L62.5 435.25Z" fill="#2ca02c"/><path d="M69.12 429.89L72.92 436.55L65.32 436.55Z" fill="#2ca02c"/><path d="M71.94 430.7L75.74 437.36L68.14 437.36Z" fill="#2ca02c"/><path d="M74.77 431.35L78.57 438.01L70.97 438.01Z" fill="#2ca02c"/><path d="M77.59 431.67L81.39 438.33L73.79 438.33Z" fill="#2ca02c"/><path d="M80.42 432.11L84.22 438.77L76.62 438.77Z" fill="#2ca02c"/><path d="M83.24 432.44L87.04 439.1L79.44 439.1Z" fill="#2ca02c"/><path d="M86.06 432.56L89.86 439.22L82.26 439.22Z" fill="#2ca02c"/><path d="M88.89 432.68L92.69 439.34L85.09 439.34Z" fill="#2ca02c"/><path d="M91.71 432.6L95.51 439.26L87.91 439.26Z" fill="#2ca02c"/><path d="M94.54 432.53L98.34 439.19L90.74 439.19Z" fill="#2ca02c"/><path d="M97.36 432.47L101.16 439.13L93.56 439.13Z" fill="#2ca02c"/><path d="M100.18 432.41L103.98 439.07L96.38 439.07Z" fill="#2ca02c"/><path d="M103.01 432.19L106.81 438.85L99.21 438.85Z" fill="#2ca02c"/><path d="M105.83 432.09L109.63 438.75L102.03 438.75Z" fill="#2ca02c"/><path d="M108.66 431.87L112.46 438.53L104.86 438.53Z" fill="#2ca02c"/><path d="M111.48 431.81L115.28 438.47L107.68 438.47Z" fill="#2ca02c"/><path d="M114.3 434.93L118.1 441.59L110.5 441.59Z" fill="#2ca02c"/><path d="M117.13 431.57L120.93 438.23L113.33 438.23Z" fill="#2ca02c"/><path d="M119.95 431.57L123.75 438.23L116.15 438.23Z" fill="#2ca02c"/><path d="M122.78 431.4L126.58 438.06L118.98 438.06Z" fill="#2ca02c"/><path d="M125.6 431.23L129.4 437.89L121.8 437.89Z" fill="#2ca02c"/><path d="M128.42 430.94L132.22 437.6L124.62 437.6Z" fill="#2ca02c"/><path d="M131.25 430.79L135.05 437.45L127.45 437.45Z" fill="#2ca02c"/><path d="M134.07 430.53L137.87 437.19L130.27 437.19Z" fill="#2ca02c"/><path d="M136.9 430.4L140.7 437.06L133.1 437.06Z" fill="#2ca02c"/><path d="M139.72 430.16L143.52 436.82L135.92 436.82Z" fill="#2ca02c"/><path d="M142.54 433.04L146.34 439.7L138.74 439.7Z" fill="#2ca02c"/><path d="M145.37 430.18L149.17 436.84L141.57 436.84Z" fill="#2ca02c"/><path d="M148.19 430.1L151.99 436.76L144.39 436.76Z" fill="#2ca02c"/><path d="M151.02 429.97L154.82 436.63L147.22 436.63Z" fill="#2ca02c"/><path d="M153.84 429.79L157.64 436.45L150.04 436.45Z" fill="#2ca02c"/><path d="M156.66 429.57L160.46 436.23L152.86 436.23Z" fill="#2ca02c"/><path d="M159.49 429.28L163.29 435.94L155.69 435.94Z" fill="#2ca02c"/><path d="M162.31 428.91L166.11 435.57L158.51 435.57Z" fill="#2ca02c"/><path d="M165.14 428.75L168.94 435.41L161.34 435.41Z" fill="#2ca02c"/><path d="M167.96 428.59L171.76 435.25L164.16 435.25Z" fill="#2ca02c"/><path d="M170.78 433.72L174.58 440.38L166.98 440.38Z" fill="#2ca02c"/><path d="M173.61 428.56L177.41 435.22L169.81 435.22Z" fill="#2ca02c"/><path d="M176.43 428.49L180.23 435.15L172.63 435.15Z" fill="#2ca02c"/><path d="M179.26 428.2L183.06 434.86L175.46 434.86Z" fill="#2ca02c"/><path d="M182.08 427.9L185.88 434.56L178.28 434.56Z" fill="#2ca02c"/><path d="M184.9 427.57L188.7 434.23L181.1 434.23Z" fill="#2ca02c"/><path d="M187.73 427.26L191.53 433.92L183.93 433.92Z" fill="#2ca02c"/><path d="M190.55 427.06L194.35 433.72L186.75 433.72Z" fill="#2ca02c"/><path d="M193.38 426.97L197.18 433.63L189.58 433.63Z" fill="#2ca02c"/><path d="M196.2 426.89L200 433.55L192.4 433.55Z" fill="#2ca02c"/><path d="M199.02 426.62L202.82 433.28L195.22 433.28Z" fill="#2ca02c"/><path d="M201.85 426.95L205.65 433.61L198.05 433.61Z" fill="#2ca02c"/><path d="M204.67 426.74L208.47 433.4L200.87 433.4Z" fill="#2ca02c"/><path d="M207.5 426.59L211.3 433.25L203.7 433.25Z" fill="#2ca02c"/><path d="M210.32 426.2L214.12 432.86L206.52 432.86Z" fill="#2ca02c"/><path d="M213.14 425.91L216.94 432.57L209.34 432.57Z" fill="#2ca02c"/><path d="M215.97 425.7L219.77 432.36L212.17 432.36Z" fill="#2ca02c"/><path d="M218.79 425.72L222.59 432.38L214.99 432.38Z" fill="#2ca02c"/><path d="M221.62 425.46L225.42 432.12L217.82 432.12Z" fill="#2ca02c"/><path d="M224.44 425.41L228.24 432.07L220.64 432.07Z" fill="#2ca02c"/><path d="M227.26 431.72L231.06 438.38L223.46 438.38Z" fill="#2ca02c"/><path d="M230.09 425.58L233.89 432.24L226.29 432.24Z" fill="#2ca02c"/><path d="M232.91 425.31L236.71 431.97L229.11 431.97Z" fill="#2ca02c"/><path d="M235.74 425.2L239.54 431.86L231.94 431.86Z" fill="#2ca02c"/><path d="M238.56 425.23L242.36 431.89L234.76 431.89Z" fill="#2ca02c"/><path d="M241.38 425.03L245.18 431.69L237.58 431.69Z" fill="#2ca02c"/><path d="M244.21 424.72L248.01 431.38L240.41 431.38Z" fill="#2ca02c"/><path d="M247.03 424.69L250.83 431.35L243.23 431.35Z" fill="#2ca02c"/><path d="M249.86 424.54L253.66 431.2L246.06 431.2Z" fill="#2ca02c"/><path d="M252.68 424.39L256.48 431.05L248.88 431.05Z" fill="#2ca02c"/><path d="M255.5 428.76L259.3 435.42L251.7 435.42Z" fill="#2ca02c"/><path d="M258.33 424.49L262.13 431.15L254.53 431.15Z" fill="#2ca02c"/><path d="M261.15 424.45L264.95 431.11L257.35 431.11Z" fill="#2ca02c"/><path d="M263.98 424.18L267.78 430.84L260.18 430.84Z" fill="#2ca02c"/><path d="M266.8 424.13L270.6 430.79L263 430.79Z" fill="#2ca02c"/><path d="M269.62 424.09L273.42 430.75L265.82 430.75Z" fill="#2ca02c"/><path d="M272.45 423.75L276.25 430.41L268.65 430.41Z" fill="#2ca02c"/><path d="M275.27 423.69L279.07 430.35L271.47 430.35Z" fill="#2ca02c"/><path d="M278.1 423.62L281.9 430.28L274.3 430.28Z" fill="#2ca02c"/><path d="M280.92 423.22L284.72 429.88L277.12 429.88Z" fill="#2ca02c"/><path d="M283.74 429.94L287.54 436.6L279.94 436.6Z" fill="#2ca02c"/><path d="M286.57 423.53L290.37 430.19L282.77 430.19Z" fill="#2ca02c"/><path d="M289.39 423.39L293.19 430.05L285.59 430.05Z" fill="#2ca02c"/><path d="M292.22 423.13L296.02 429.79L288.42 429.79Z" fill="#2ca02c"/><path d="M295.04 423.09L298.84 429.75L291.24 429.75Z" fill="#2ca02c"/><path d="M297.86 422.98L301.66 429.64L294.06 429.64Z" fill="#2ca02c"/><path d="M300.69 422.8L304.49 429.46L296.89 429.46Z" fill="#2ca02c"/><path d="M303.51 422.66L307.31 429.32L299.71 429.32Z" fill="#2ca02c"/><path d="M306.34 422.4L310.14 429.06L302.54 429.06Z" fill="#2ca02c"/><path d="M309.16 422.29L312.96 428.95L305.36 428.95Z" fill="#2ca02c"/><path d="M311.98 427.59L315.78 434.25L308.18 434.25Z" fill="#2ca02c"/><path d="M314.81 422.53L318.61 429.19L311.01 429.19Z" fill="#2ca02c"/><path d="M317.63 422.34L321.43 429L313.83 429Z" fill="#2ca02c"/><path d="M320.46 422.25L324.26 428.91L316.66 428.91Z" fill="#2ca02c"/><path d="M323.28 421.95L327.08 428.61L319.48 428.61Z" fill="#2ca02c"/><path d="M326.1 421.87L329.9 428.53L322.3 428.53Z" fill="#2ca02c"/><path d="M328.93 421.75L332.73 428.41L325.13 428.41Z" fill="#2ca02c"/><path d="M331.75 421.7L335.55 428.36L327.95 428.36Z" fill="#2ca02c"/><path d="M334.58 421.64L338.38 428.3L330.78 428.3Z" fill="#2ca02c"/><path d="M337.4 428.76L341.2 435.42L333.6 435.42Z" fill="#2ca02c"/>
<path d="M57.82 405.52V422.89M55.32 405.52H60.32M55.32 422.89H60.32" stroke="#ffb985" stroke-width="1.0" fill="none"/><path d="M60.65 357.71V391.22M58.15 357.71H63.15M58.15 391.22H63.15" stroke="#ffb985" stroke-width="1.0" fill="none"/><path d="M63.47 366.1V398.05M60.97 366.1H65.97M60.97 398.05H65.97" stroke="#ffb985" stroke-width="1.0" fill="none"/><path d="M66.3 370.48V402.23M63.8 370.48H68.8M63.8 402.23H68.8" stroke="#ffb985" stroke-width="1.0" fill="none"/><path d="M69.12 374.01V405.21M66.62 374.01H71.62M66.62 405.21H71.62" stroke="#ffb985" stroke-width="1.0" fill="none"/><path d="M71.94 378.04V407.72M69.44 378.04H74.44M69.44 407.72H74.44" stroke="#ffb985" stroke-width="1.0" fill="none"/><path d="M74.77 381.7V408.36M72.27 381.7H77.27M72.27 408.36H77.27" stroke="#ffb985" stroke-width="1.0" fill="none"/><path d="M77.59 385.12V409.96M75.09 385.12H80.09M75.09 409.96H80.09" stroke="#ffb985" stroke-width="1.0" fill="none"/><path d="M80.42 389.47V412.53M77.92 389.47H82.92M77.92 412.53H82.92" stroke="#ffb985" stroke-width="1.0" fill="none"/><path d="M83.24 390.71V414.46M80.74 390.71H85.74M80.74 414.46H85.74" stroke="#ffb985" stroke-width="1.0" fill="none"/><path d="M86.06 391.66V412.86M83.56 391.66H88.56M83.56 412.86H88.56" stroke="#ffb985" stroke-width="1.0" fill="none"/><path d="M88.89 397.41V416.54M86.39 397.41H91.39M86.39 416.54H91.39" stroke="#ffb985" stroke-width="1.0" fill="none"/><path d="M91.71 399.21V418.07M89.21 399.21H94.21M89.21 418.07H94.21" stroke="#ffb985" stroke-width="1.0" fill="none"/><path d="M94.54 402.06V419.36M92.04 402.06H97.04M92.04 419.36H97.04" stroke="#ffb985" stroke-width="1.0" fill="none"/><path d="M97.36 404.15V420.07M94.86 404.15H99.86M94.86 420.07H99.86" stroke="#ffb985" stroke-width="1.0" fill="none"/><path d="M100.18 406.08V422.29M97.68 406.08H102.68M97.68 422.29H102.68" stroke="#ffb985" stroke-width="1.0" fill="none"/><path d="M103.01 408.75V423.38M100.51 408.75H105.51M100.51 423.38H105.51" stroke="#ffb985" stroke-width="1.0" fill="none"/><path d="M105.83 410.58V422.86M103.33 410.58H108.33M103.33 422.86H108.33" stroke="#ffb985" stroke-width="1.0" fill="none"/><path d="M108.66 411.57V424.1M106.16 411.57H111.16M106.16 424.1H111.16" stroke="#ffb985" stroke-width="1.0" fill="none"/><path d="M111.48 414.79V424.19M108.98 414.79H113.98M108.98 424.19H113.98" stroke="#ffb985" stroke-width="1.0" fill="none"/><path d="M114.3 431.08V436.86M111.8 431.08H116.8M111.8 436.86H116.8" stroke="#ffb985" stroke-width="1.0" fill="none"/><path d="M117.13 426.24V428.88M114.63 426.24H119.63M114.63 428.88H119.63" stroke="#ffb985" stroke-width="1.0" fill="none"/><path d="M119.95 425.86V430.34M117.45 425.86H122.45M117.45 430.34H122.45" stroke="#ffb985" stroke-width="1.0" fill="none"/><path d="M122.78 425.77V430.7M120.28 425.77H125.28M120.28 430.7H125.28" stroke="#ffb985" stroke-width="1.0" fill="none"/><path d="M125.6 426.39V431.42M123.1 426.39H128.1M123.1 431.42H128.1" stroke="#ffb985" stroke-width="1.0" fill="none"/><path d="M128.42 427.1V431.17M125.92 427.1H130.92M125.92 431.17H130.92" stroke="#ffb985" stroke-width="1.0" fill="none"/><path d="M131.25 426.48V432.06M128.75 426.48H133.75M128.75 432.06H133.75" stroke="#ffb985" stroke-width="1.0" fill="none"/><path d="M134.07 427.42V432.06M131.57 427.42H136.57M131.57 432.06H136.57" stroke="#ffb985" stroke-width="1.0" fill="none"/><path d="M136.9 427.16V432.03M134.4 427.16H139.4M134.4 432.03H139.4" stroke="#ffb985" stroke-width="1.0" fill="none"/><path d="M139.72 428.86V431.34M137.22 428.86H142.22M137.22 431.34H142.22" stroke="#ffb985" stroke-width="1.0" fill="none"/><path d="M142.54 428.97V431.87M140.04 428.97H145.04M140.04 431.87H145.04" stroke="#ffb985" stroke-width="1.0" fill="none"/><path d="M145.37 428.83V432.82M142.87 428.83H147.87M142.87 432.82H147.87" stroke="#ffb985" stroke-width="1.0" fill="none"/><path d="M148.19 428.94V433.24M145.69 428.94H150.69M145.69 433.24H150.69" stroke="#ffb985" stroke-width="1.0" fill="none"/><path d="M151.02 430.15V432.7M148.52 430.15H153.52M148.52 432.7H153.52" stroke="#ffb985" stroke-width="1.0" fill="none"/><path d="M153.84 428.9V433.97M151.34 428.9H156.34M151.34 433.97H156.34" stroke="#ffb985" stroke-width="1.0" fill="none"/><path d="M156.66 430.16V433.69M154.16 430.16H159.16M154.16 433.69H159.16" stroke="#ffb985" stroke-width="1.0" fill="none"/><path d="M159.49 429.94V433.97M156.99 429.94H161.99M156.99 433.97H161.99" stroke="#ffb985" stroke-width="1.0" fill="none"/><path d="M162.31 429.92V434.13M159.81 429.92H164.81M159.81 434.13H164.81" stroke="#ffb985" stroke-width="1.0" fill="none"/><path d="M165.14 429.55V435M162.64 429.55H167.64M162.64 435H167.64" stroke="#ffb985" stroke-width="1.0" fill="none"/><path d="M167.96 430.9V434.25M165.46 430.9H170.46M165.46 434.25H170.46" stroke="#ffb985" stroke-width="1.0" fill="none"/><path d="M170.78 436.46V440.82M168.28 436.46H173.28M168.28 440.82H173.28" stroke="#ffb985" stroke-width="1.0" fill="none"/><path d="M173.61 430.76V435.3M171.11 430.76H176.11M171.11 435.3H176.11" stroke="#ffb985" stroke-width="1.0" fill="none"/><path d="M176.43 430.65V435.39M173.93 430.65H178.93M173.93 435.39H178.93" stroke="#ffb985" stroke-width="1.0" fill="none"/><path d="M179.26 431.35V434.74M176.76 431.35H181.76M176.76 434.74H181.76" stroke="#ffb985" stroke-width="1.0" fill="none"/><path d="M182.08 431.34V434.61M179.58 431.34H184.58M179.58 434.61H184.58" stroke="#ffb985" stroke-width="1.0" fill="none"/><path d="M184.9 431.13V435.14M182.4 431.13H187.4M182.4 435.14H187.4" stroke="#ffb985" stroke-width="1.0" fill="none"/><path d="M187.73 431.07V435.59M185.23 431.07H190.23M185.23 435.59H190.23" stroke="#ffb985" stroke-width="1.0" fill="none"/><path d="M190.55 430.82V435.52M188.05 430.82H193.05M188.05 435.52H193.05" stroke="#ffb985" stroke-width="1.0" fill="none"/><path d="M193.38 432.05V434.75M190.88 432.05H195.88M190.88 434.75H195.88" stroke="#ffb985" stroke-width="1.0" fill="none"/><path d="M196.2 431.29V435.2M193.7 431.29H198.7M193.7 435.2H198.7" stroke="#ffb985" stroke-width="1.0" fill="none"/><path d="M199.02 432.66V437.02M196.52 432.66H201.52M196.52 437.02H201.52" stroke="#ffb985" stroke-width="1.0" fill="none"/><path d="M201.85 431.76V434.7M199.35 431.76H204.35M199.35 434.7H204.35" stroke="#ffb985" stroke-width="1.0" fill="none"/><path d="M204.67 431.97V434.55M202.17 431.97H207.17M202.17 434.55H207.17" stroke="#ffb985" stroke-width="1.0" fill="none"/><path d="M207.5 430.26V436.06M205 430.26H210M205 436.06H210" stroke="#ffb985" stroke-width="1.0" fill="none"/><path d="M210.32 432.05V434.31M207.82 432.05H212.82M207.82 434.31H212.82" stroke="#ffb985" stroke-width="1.0" fill="none"/><path d="M213.14 431.19V435.32M210.64 431.19H215.64M210.64 435.32H215.64" stroke="#ffb985" stroke-width="1.0" fill="none"/><path d="M215.97 431.54V434.86M213.47 431.54H218.47M213.47 434.86H218.47" stroke="#ffb985" stroke-width="1.0" fill="none"/><path d="M218.79 432.09V434.38M216.29 432.09H221.29M216.29 434.38H221.29" stroke="#ffb985" stroke-width="1.0" fill="none"/><path d="M221.62 431.67V434.89M219.12 431.67H224.12M219.12 434.89H224.12" stroke="#ffb985" stroke-width="1.0" fill="none"/><path d="M224.44 432.02V434.82M221.94 432.02H226.94M221.94 434.82H226.94" stroke="#ffb985" stroke-width="1.0" fill="none"/><path d="M227.26 437.75V441.49M224.76 437.75H229.76M224.76 441.49H229.76" stroke="#ffb985" stroke-width="1.0" fill="none"/><path d="M230.09 430.3V436.02M227.59 430.3H232.59M227.59 436.02H232.59" stroke="#ffb985" stroke-width="1.0" fill="none"/><path d="M232.91 432.14V434.62M230.41 432.14H235.41M230.41 434.62H235.41" stroke="#ffb985" stroke-width="1.0" fill="none"/><path d="M235.74 431.34V434.88M233.24 431.34H238.24M233.24 434.88H238.24" stroke="#ffb985" stroke-width="1.0" fill="none"/><path d="M238.56 430.81V435.69M236.06 430.81H241.06M236.06 435.69H241.06" stroke="#ffb985" stroke-width="1.0" fill="none"/><path d="M241.38 430.98V435.6M238.88 430.98H243.88M238.88 435.6H243.88" stroke="#ffb985" stroke-width="1.0" fill="none"/><path d="M244.21 432.29V434.54M241.71 432.29H246.71M241.71 434.54H246.71" stroke="#ffb985" stroke-width="1.0" fill="none"/><path d="M247.03 431.74V434.8M244.53 431.74H249.53M244.53 434.8H249.53" stroke="#ffb985" stroke-width="1.0" fill="none"/><path d="M249.86 431.7V434.97M247.36 431.7H252.36M247.36 434.97H252.36" stroke="#ffb985" stroke-width="1.0" fill="none"/><path d="M252.68 430.32V435.99M250.18 430.32H255.18M250.18 435.99H255.18" stroke="#ffb985" stroke-width="1.0" fill="none"/><path d="M255.5 432.78V436.68M253 432.78H258M253 436.68H258" stroke="#ffb985" stroke-width="1.0" fill="none"/><path d="M258.33 431.41V434.59M255.83 431.41H260.83M255.83 434.59H260.83" stroke="#ffb985" stroke-width="1.0" fill="none"/><path d="M261.15 431.05V435.1M258.65 431.05H263.65M258.65 435.1H263.65" stroke="#ffb985" stroke-width="1.0" fill="none"/><path d="M263.98 431.09V435.15M261.48 431.09H266.48M261.48 435.15H266.48" stroke="#ffb985" stroke-width="1.0" fill="none"/><path d="M266.8 431.81V434.56M264.3 431.81H269.3M264.3 434.56H269.3" stroke="#ffb985" stroke-width="1.0" fill="none"/><path d="M269.62 430.56V435.34M267.12 430.56H272.12M267.12 435.34H272.12" stroke="#ffb985" stroke-width="1.0" fill="none"/><path d="M272.45 430.47V435.46M269.95 430.47H274.95M269.95 435.46H274.95" stroke="#ffb985" stroke-width="1.0" fill="none"/><path d="M275.27 430.86V434.89M272.77 430.86H277.77M272.77 434.89H277.77" stroke="#ffb985" stroke-width="1.0" fill="none"/><path d="M278.1 430.83V435.1M275.6 430.83H280.6M275.6 435.1H280.6" stroke="#ffb985" stroke-width="1.0" fill="none"/><path d="M280.92 430.16V435.34M278.42 430.16H283.42M278.42 435.34H283.42" stroke="#ffb985" stroke-width="1.0" fill="none"/><path d="M283.74 436.88V442.79M281.24 436.88H286.24M281.24 442.79H286.24" stroke="#ffb985" stroke-width="1.0" fill="none"/><path d="M286.57 430.63V435.19M284.07 430.63H289.07M284.07 435.19H289.07" stroke="#ffb985" stroke-width="1.0" fill="none"/><path d="M289.39 431.73V434.07M286.89 431.73H291.89M286.89 434.07H291.89" stroke="#ffb985" stroke-width="1.0" fill="none"/><path d="M292.22 430.68V434.83M289.72 430.68H294.72M289.72 434.83H294.72" stroke="#ffb985" stroke-width="1.0" fill="none"/><path d="M295.04 430.26V435.02M292.54 430.26H297.54M292.54 435.02H297.54" stroke="#ffb985" stroke-width="1.0" fill="none"/><path d="M297.86 431.14V434.6M295.36 431.14H300.36M295.36 434.6H300.36" stroke="#ffb985" stroke-width="1.0" fill="none"/><path d="M300.69 430.26V435.11M298.19 430.26H303.19M298.19 435.11H303.19" stroke="#ffb985" stroke-width="1.0" fill="none"/><path d="M303.51 430.81V434.42M301.01 430.81H306.01M301.01 434.42H306.01" stroke="#ffb985" stroke-width="1.0" fill="none"/><path d="M306.34 430.49V435.08M303.84 430.49H308.84M303.84 435.08H308.84" stroke="#ffb985" stroke-width="1.0" fill="none"/><path d="M309.16 430.53V435.11M306.66 430.53H311.66M306.66 435.11H311.66" stroke="#ffb985" stroke-width="1.0" fill="none"/><path d="M311.98 431.81V436.61M309.48 431.81H314.48M309.48 436.61H314.48" stroke="#ffb985" stroke-width="1.0" fill="none"/><path d="M314.81 429.6V435.39M312.31 429.6H317.31M312.31 435.39H317.31" stroke="#ffb985" stroke-width="1.0" fill="none"/><path d="M317.63 429.98V434.91M315.13 429.98H320.13M315.13 434.91H320.13" stroke="#ffb985" stroke-width="1.0" fill="none"/><path d="M320.46 429.99V434.94M317.96 429.99H322.96M317.96 434.94H322.96" stroke="#ffb985" stroke-width="1.0" fill="none"/><path d="M323.28 430.08V435.01M320.78 430.08H325.78M320.78 435.01H325.78" stroke="#ffb985" stroke-width="1.0" fill="none"/><path d="M326.1 430.97V434.05M323.6 430.97H328.6M323.6 434.05H328.6" stroke="#ffb985" stroke-width="1.0" fill="none"/><path d="M328.93 430.16V434.73M326.43 430.16H331.43M326.43 434.73H331.43" stroke="#ffb985" stroke-width="1.0" fill="none"/><path d="M331.75 429.99V434.58M329.25 429.99H334.25M329.25 434.58H334.25" stroke="#ffb985" stroke-width="1.0" fill="none"/><path d="M334.58 431.26V433.67M332.08 431.26H337.08M332.08 433.67H337.08" stroke="#ffb985" stroke-width="1.0" fill="none"/><path d="M337.4 436.84V441.96M334.9 436.84H339.9M334.9 441.96H339.9" stroke="#ffb985" stroke-width="1.0" fill="none"/>
<path d="M57.82 410.11L61.92 414.21L57.82 418.31L53.72 414.21Z" fill="#ff7f0e"/><path d="M60.65 370.36L64.75 374.46L60.65 378.56L56.55 374.46Z" fill="#ff7f0e"/><path d="M63.47 377.97L67.57 382.07L63.47 386.17L59.37 382.07Z" fill="#ff7f0e"/><path d="M66.3 382.25L70.4 386.35L66.3 390.45L62.2 386.35Z" fill="#ff7f0e"/><path d="M69.12 385.51L73.22 389.61L69.12 393.71L65.02 389.61Z" fill="#ff7f0e"/><path d="M71.94 388.78L76.04 392.88L71.94 396.98L67.84 392.88Z" fill="#ff7f0e"/><path d="M74.77 390.93L78.87 395.03L74.77 399.13L70.67 395.03Z" fill="#ff7f0e"/><path d="M77.59 393.44L81.69 397.54L77.59 401.64L73.49 397.54Z" fill="#ff7f0e"/><path d="M80.42 396.9L84.52 401L80.42 405.1L76.32 401Z" fill="#ff7f0e"/><path d="M83.24 398.49L87.34 402.59L83.24 406.69L79.14 402.59Z" fill="#ff7f0e"/><path d="M86.06 398.16L90.16 402.26L86.06 406.36L81.96 402.26Z" fill="#ff7f0e"/><path d="M88.89 402.88L92.99 406.98L88.89 411.08L84.79 406.98Z" fill="#ff7f0e"/><path d="M91.71 404.54L95.81 408.64L91.71 412.74L87.61 408.64Z" fill="#ff7f0e"/><path d="M94.54 406.61L98.64 410.71L94.54 414.81L90.44 410.71Z" fill="#ff7f0e"/><path d="M97.36 408.01L101.46 412.11L97.36 416.21L93.26 412.11Z" fill="#ff7f0e"/><path d="M100.18 410.08L104.28 414.18L100.18 418.28L96.08 414.18Z" fill="#ff7f0e"/><path d="M103.01 411.97L107.11 416.07L103.01 420.17L98.91 416.07Z" fill="#ff7f0e"/><path d="M105.83 412.62L109.93 416.72L105.83 420.82L101.73 416.72Z" fill="#ff7f0e"/><path d="M108.66 413.74L112.76 417.84L108.66 421.94L104.56 417.84Z" fill="#ff7f0e"/><path d="M111.48 415.39L115.58 419.49L111.48 423.59L107.38 419.49Z" fill="#ff7f0e"/><path d="M114.3 429.87L118.4 433.97L114.3 438.07L110.2 433.97Z" fill="#ff7f0e"/><path d="M117.13 423.46L121.23 427.56L117.13 431.66L113.03 427.56Z" fill="#ff7f0e"/><path d="M119.95 424L124.05 428.1L119.95 432.2L115.85 428.1Z" fill="#ff7f0e"/><path d="M122.78 424.14L126.88 428.24L122.78 432.34L118.68 428.24Z" fill="#ff7f0e"/><path d="M125.6 424.8L129.7 428.9L125.6 433L121.5 428.9Z" fill="#ff7f0e"/><path d="M128.42 425.03L132.52 429.13L128.42 433.23L124.32 429.13Z" fill="#ff7f0e"/><path d="M131.25 425.17L135.35 429.27L131.25 433.37L127.15 429.27Z" fill="#ff7f0e"/><path d="M134.07 425.64L138.17 429.74L134.07 433.84L129.97 429.74Z" fill="#ff7f0e"/><path d="M136.9 425.5L141 429.6L136.9 433.7L132.8 429.6Z" fill="#ff7f0e"/><path d="M139.72 426L143.82 430.1L139.72 434.2L135.62 430.1Z" fill="#ff7f0e"/><path d="M142.54 426.32L146.64 430.42L142.54 434.52L138.44 430.42Z" fill="#ff7f0e"/><path d="M145.37 426.73L149.47 430.83L145.37 434.93L141.27 430.83Z" fill="#ff7f0e"/><path d="M148.19 426.99L152.29 431.09L148.19 435.19L144.09 431.09Z" fill="#ff7f0e"/><path d="M151.02 427.33L155.12 431.43L151.02 435.53L146.92 431.43Z" fill="#ff7f0e"/><path d="M153.84 427.33L157.94 431.43L153.84 435.53L149.74 431.43Z" fill="#ff7f0e"/><path d="M156.66 427.82L160.76 431.92L156.66 436.02L152.56 431.92Z" fill="#ff7f0e"/><path d="M159.49 427.85L163.59 431.95L159.49 436.05L155.39 431.95Z" fill="#ff7f0e"/><path d="M162.31 427.93L166.41 432.03L162.31 436.13L158.21 432.03Z" fill="#ff7f0e"/><path d="M165.14 428.17L169.24 432.27L165.14 436.37L161.04 432.27Z" fill="#ff7f0e"/><path d="M167.96 428.47L172.06 432.57L167.96 436.67L163.86 432.57Z" fill="#ff7f0e"/><path d="M170.78 434.54L174.88 438.64L170.78 442.74L166.68 438.64Z" fill="#ff7f0e"/><path d="M173.61 428.93L177.71 433.03L173.61 437.13L169.51 433.03Z" fill="#ff7f0e"/><path d="M176.43 428.92L180.53 433.02L176.43 437.12L172.33 433.02Z" fill="#ff7f0e"/><path d="M179.26 428.95L183.36 433.05L179.26 437.15L175.16 433.05Z" fill="#ff7f0e"/><path d="M182.08 428.88L186.18 432.98L182.08 437.08L177.98 432.98Z" fill="#ff7f0e"/><path d="M184.9 429.04L189 433.14L184.9 437.24L180.8 433.14Z" fill="#ff7f0e"/><path d="M187.73 429.23L191.83 433.33L187.73 437.43L183.63 433.33Z" fill="#ff7f0e"/><path d="M190.55 429.07L194.65 433.17L190.55 437.27L186.45 433.17Z" fill="#ff7f0e"/><path d="M193.38 429.3L197.48 433.4L193.38 437.5L189.28 433.4Z" fill="#ff7f0e"/><path d="M196.2 429.14L200.3 433.24L196.2 437.34L192.1 433.24Z" fill="#ff7f0e"/><path d="M199.02 430.74L203.12 434.84L199.02 438.94L194.92 434.84Z" fill="#ff7f0e"/><path d="M201.85 429.13L205.95 433.23L201.85 437.33L197.75 433.23Z" fill="#ff7f0e"/><path d="M204.67 429.16L208.77 433.26L204.67 437.36L200.57 433.26Z" fill="#ff7f0e"/><path d="M207.5 429.06L211.6 433.16L207.5 437.26L203.4 433.16Z" fill="#ff7f0e"/><path d="M210.32 429.08L214.42 433.18L210.32 437.28L206.22 433.18Z" fill="#ff7f0e"/><path d="M213.14 429.15L217.24 433.25L213.14 437.35L209.04 433.25Z" fill="#ff7f0e"/><path d="M215.97 429.1L220.07 433.2L215.97 437.3L211.87 433.2Z" fill="#ff7f0e"/><path d="M218.79 429.14L222.89 433.24L218.79 437.34L214.69 433.24Z" fill="#ff7f0e"/><path d="M221.62 429.18L225.72 433.28L221.62 437.38L217.52 433.28Z" fill="#ff7f0e"/><path d="M224.44 429.32L228.54 433.42L224.44 437.52L220.34 433.42Z" fill="#ff7f0e"/><path d="M227.26 435.52L231.36 439.62L227.26 443.72L223.16 439.62Z" fill="#ff7f0e"/><path d="M230.09 429.06L234.19 433.16L230.09 437.26L225.99 433.16Z" fill="#ff7f0e"/><path d="M232.91 429.28L237.01 433.38L232.91 437.48L228.81 433.38Z" fill="#ff7f0e"/><path d="M235.74 429.01L239.84 433.11L235.74 437.21L231.64 433.11Z" fill="#ff7f0e"/><path d="M238.56 429.15L242.66 433.25L238.56 437.35L234.46 433.25Z" fill="#ff7f0e"/><path d="M241.38 429.19L245.48 433.29L241.38 437.39L237.28 433.29Z" fill="#ff7f0e"/><path d="M244.21 429.32L248.31 433.42L244.21 437.52L240.11 433.42Z" fill="#ff7f0e"/><path d="M247.03 429.17L251.13 433.27L247.03 437.37L242.93 433.27Z" fill="#ff7f0e"/><path d="M249.86 429.23L253.96 433.33L249.86 437.43L245.76 433.33Z" fill="#ff7f0e"/><path d="M252.68 429.06L256.78 433.16L252.68 437.26L248.58 433.16Z" fill="#ff7f0e"/><path d="M255.5 430.63L259.6 434.73L255.5 438.83L251.4 434.73Z" fill="#ff7f0e"/><path d="M258.33 428.9L262.43 433L258.33 437.1L254.23 433Z" fill="#ff7f0e"/><path d="M261.15 428.97L265.25 433.07L261.15 437.17L257.05 433.07Z" fill="#ff7f0e"/><path d="M263.98 429.02L268.08 433.12L263.98 437.22L259.88 433.12Z" fill="#ff7f0e"/><path d="M266.8 429.08L270.9 433.18L266.8 437.28L262.7 433.18Z" fill="#ff7f0e"/><path d="M269.62 428.85L273.72 432.95L269.62 437.05L265.52 432.95Z" fill="#ff7f0e"/><path d="M272.45 428.86L276.55 432.96L272.45 437.06L268.35 432.96Z" fill="#ff7f0e"/><path d="M275.27 428.78L279.37 432.88L275.27 436.98L271.17 432.88Z" fill="#ff7f0e"/><path d="M278.1 428.86L282.2 432.96L278.1 437.06L274 432.96Z" fill="#ff7f0e"/><path d="M280.92 428.65L285.02 432.75L280.92 436.85L276.82 432.75Z" fill="#ff7f0e"/><path d="M283.74 435.74L287.84 439.84L283.74 443.94L279.64 439.84Z" fill="#ff7f0e"/><path d="M286.57 428.81L290.67 432.91L286.57 437.01L282.47 432.91Z" fill="#ff7f0e"/><path d="M289.39 428.8L293.49 432.9L289.39 437L285.29 432.9Z" fill="#ff7f0e"/><path d="M292.22 428.66L296.32 432.76L292.22 436.86L288.12 432.76Z" fill="#ff7f0e"/><path d="M295.04 428.54L299.14 432.64L295.04 436.74L290.94 432.64Z" fill="#ff7f0e"/><path d="M297.86 428.77L301.96 432.87L297.86 436.97L293.76 432.87Z" fill="#ff7f0e"/><path d="M300.69 428.59L304.79 432.69L300.69 436.79L296.59 432.69Z" fill="#ff7f0e"/><path d="M303.51 428.52L307.61 432.62L303.51 436.72L299.41 432.62Z" fill="#ff7f0e"/><path d="M306.34 428.69L310.44 432.79L306.34 436.89L302.24 432.79Z" fill="#ff7f0e"/><path d="M309.16 428.72L313.26 432.82L309.16 436.92L305.06 432.82Z" fill="#ff7f0e"/><path d="M311.98 430.11L316.08 434.21L311.98 438.31L307.88 434.21Z" fill="#ff7f0e"/><path d="M314.81 428.39L318.91 432.49L314.81 436.59L310.71 432.49Z" fill="#ff7f0e"/><path d="M317.63 428.35L321.73 432.45L317.63 436.55L313.53 432.45Z" fill="#ff7f0e"/><path d="M320.46 428.37L324.56 432.47L320.46 436.57L316.36 432.47Z" fill="#ff7f0e"/><path d="M323.28 428.44L327.38 432.54L323.28 436.64L319.18 432.54Z" fill="#ff7f0e"/><path d="M326.1 428.41L330.2 432.51L326.1 436.61L322 432.51Z" fill="#ff7f0e"/><path d="M328.93 428.35L333.03 432.45L328.93 436.55L324.83 432.45Z" fill="#ff7f0e"/><path d="M331.75 428.18L335.85 432.28L331.75 436.38L327.65 432.28Z" fill="#ff7f0e"/><path d="M334.58 428.36L338.68 432.46L334.58 436.56L330.48 432.46Z" fill="#ff7f0e"/><path d="M337.4 435.3L341.5 439.4L337.4 443.5L333.3 439.4Z" fill="#ff7f0e"/>
<path d="M57.82 434.19V439.4M55.32 434.19H60.32M55.32 439.4H60.32" stroke="#c6aedd" stroke-width="1.0" fill="none"/><path d="M60.65 437.05V440.1M58.15 437.05H63.15M58.15 440.1H63.15" stroke="#c6aedd" stroke-width="1.0" fill="none"/><path d="M63.47 436.57V440.67M60.97 436.57H65.97M60.97 440.67H65.97" stroke="#c6aedd" stroke-width="1.0" fill="none"/><path d="M66.3 436.8V441.02M63.8 436.8H68.8M63.8 441.02H68.8" stroke="#c6aedd" stroke-width="1.0" fill="none"/><path d="M69.12 436.57V441.57M66.62 436.57H71.62M66.62 441.57H71.62" stroke="#c6aedd" stroke-width="1.0" fill="none"/><path d="M71.94 436.44V441.61M69.44 436.44H74.44M69.44 441.61H74.44" stroke="#c6aedd" stroke-width="1.0" fill="none"/><path d="M74.77 436.9V440.9M72.27 436.9H77.27M72.27 440.9H77.27" stroke="#c6aedd" stroke-width="1.0" fill="none"/><path d="M77.59 435.94V441.79M75.09 435.94H80.09M75.09 441.79H80.09" stroke="#c6aedd" stroke-width="1.0" fill="none"/><path d="M80.42 436.97V440.88M77.92 436.97H82.92M77.92 440.88H82.92" stroke="#c6aedd" stroke-width="1.0" fill="none"/><path d="M83.24 436.55V440.94M80.74 436.55H85.74M80.74 440.94H85.74" stroke="#c6aedd" stroke-width="1.0" fill="none"/><path d="M86.06 435.45V441.5M83.56 435.45H88.56M83.56 441.5H88.56" stroke="#c6aedd" stroke-width="1.0" fill="none"/><path d="M88.89 436.56V440M86.39 436.56H91.39M86.39 440H91.39" stroke="#c6aedd" stroke-width="1.0" fill="none"/><path d="M91.71 435.65V440.61M89.21 435.65H94.21M89.21 440.61H94.21" stroke="#c6aedd" stroke-width="1.0" fill="none"/><path d="M94.54 435.03V440.94M92.04 435.03H97.04M92.04 440.94H97.04" stroke="#c6aedd" stroke-width="1.0" fill="none"/><path d="M97.36 436.74V439.24M94.86 436.74H99.86M94.86 439.24H99.86" stroke="#c6aedd" stroke-width="1.0" fill="none"/><path d="M100.18 435.15V440.36M97.68 435.15H102.68M97.68 440.36H102.68" stroke="#c6aedd" stroke-width="1.0" fill="none"/><path d="M103.01 435.07V439.79M100.51 435.07H105.51M100.51 439.79H105.51" stroke="#c6aedd" stroke-width="1.0" fill="none"/><path d="M105.83 435.02V439.3M103.33 435.02H108.33M103.33 439.3H108.33" stroke="#c6aedd" stroke-width="1.0" fill="none"/><path d="M108.66 434.42V439.68M106.16 434.42H111.16M106.16 439.68H111.16" stroke="#c6aedd" stroke-width="1.0" fill="none"/><path d="M111.48 434.03V439.57M108.98 434.03H113.98M108.98 439.57H113.98" stroke="#c6aedd" stroke-width="1.0" fill="none"/><path d="M114.3 435.34V438.08M111.8 435.34H116.8M111.8 438.08H116.8" stroke="#c6aedd" stroke-width="1.0" fill="none"/><path d="M117.13 434.47V438.55M114.63 434.47H119.63M114.63 438.55H119.63" stroke="#c6aedd" stroke-width="1.0" fill="none"/><path d="M119.95 434.24V438.82M117.45 434.24H122.45M117.45 438.82H122.45" stroke="#c6aedd" stroke-width="1.0" fill="none"/><path d="M122.78 433.79V438.7M120.28 433.79H125.28M120.28 438.7H125.28" stroke="#c6aedd" stroke-width="1.0" fill="none"/><path d="M125.6 433.07V438.99M123.1 433.07H128.1M123.1 438.99H128.1" stroke="#c6aedd" stroke-width="1.0" fill="none"/><path d="M128.42 433.28V438.59M125.92 433.28H130.92M125.92 438.59H130.92" stroke="#c6aedd" stroke-width="1.0" fill="none"/><path d="M131.25 433.22V438.63M128.75 433.22H133.75M128.75 438.63H133.75" stroke="#c6aedd" stroke-width="1.0" fill="none"/><path d="M134.07 434.6V437.02M131.57 434.6H136.57M131.57 437.02H136.57" stroke="#c6aedd" stroke-width="1.0" fill="none"/><path d="M136.9 433.8V437.64M134.4 433.8H139.4M134.4 437.64H139.4" stroke="#c6aedd" stroke-width="1.0" fill="none"/><path d="M139.72 432.77V438.52M137.22 432.77H142.22M137.22 438.52H142.22" stroke="#c6aedd" stroke-width="1.0" fill="none"/><path d="M142.54 432.57V438.44M140.04 432.57H145.04M140.04 438.44H145.04" stroke="#c6aedd" stroke-width="1.0" fill="none"/><path d="M145.37 432.71V437.83M142.87 432.71H147.87M142.87 437.83H147.87" stroke="#c6aedd" stroke-width="1.0" fill="none"/><path d="M148.19 433.51V436.99M145.69 433.51H150.69M145.69 436.99H150.69" stroke="#c6aedd" stroke-width="1.0" fill="none"/><path d="M151.02 432.45V437.64M148.52 432.45H153.52M148.52 437.64H153.52" stroke="#c6aedd" stroke-width="1.0" fill="none"/><path d="M153.84 432.86V437.11M151.34 432.86H156.34M151.34 437.11H156.34" stroke="#c6aedd" stroke-width="1.0" fill="none"/><path d="M156.66 432.51V437.29M154.16 432.51H159.16M154.16 437.29H159.16" stroke="#c6aedd" stroke-width="1.0" fill="none"/><path d="M159.49 432.51V437.17M156.99 432.51H161.99M156.99 437.17H161.99" stroke="#c6aedd" stroke-width="1.0" fill="none"/><path d="M162.31 431.99V437.54M159.81 431.99H164.81M159.81 437.54H164.81" stroke="#c6aedd" stroke-width="1.0" fill="none"/><path d="M165.14 432.14V437.11M162.64 432.14H167.64M162.64 437.11H167.64" stroke="#c6aedd" stroke-width="1.0" fill="none"/><path d="M167.96 431.54V437.51M165.46 431.54H170.46M165.46 437.51H170.46" stroke="#c6aedd" stroke-width="1.0" fill="none"/><path d="M170.78 432.49V436.59M168.28 432.49H173.28M168.28 436.59H173.28" stroke="#c6aedd" stroke-width="1.0" fill="none"/><path d="M173.61 432.36V436.46M171.11 432.36H176.11M171.11 436.46H176.11" stroke="#c6aedd" stroke-width="1.0" fill="none"/><path d="M176.43 432.17V436.92M173.93 432.17H178.93M173.93 436.92H178.93" stroke="#c6aedd" stroke-width="1.0" fill="none"/><path d="M179.26 432.31V436.68M176.76 432.31H181.76M176.76 436.68H181.76" stroke="#c6aedd" stroke-width="1.0" fill="none"/><path d="M182.08 433.28V435.64M179.58 433.28H184.58M179.58 435.64H184.58" stroke="#c6aedd" stroke-width="1.0" fill="none"/><path d="M184.9 431.43V437.35M182.4 431.43H187.4M182.4 437.35H187.4" stroke="#c6aedd" stroke-width="1.0" fill="none"/><path d="M187.73 432.6V436.02M185.23 432.6H190.23M185.23 436.02H190.23" stroke="#c6aedd" stroke-width="1.0" fill="none"/><path d="M190.55 432.19V436.32M188.05 432.19H193.05M188.05 436.32H193.05" stroke="#c6aedd" stroke-width="1.0" fill="none"/><path d="M193.38 433V435.34M190.88 433H195.88M190.88 435.34H195.88" stroke="#c6aedd" stroke-width="1.0" fill="none"/><path d="M196.2 432.66V435.57M193.7 432.66H198.7M193.7 435.57H198.7" stroke="#c6aedd" stroke-width="1.0" fill="none"/><path d="M199.02 431.27V437.07M196.52 431.27H201.52M196.52 437.07H201.52" stroke="#c6aedd" stroke-width="1.0" fill="none"/><path d="M201.85 432.38V435.64M199.35 432.38H204.35M199.35 435.64H204.35" stroke="#c6aedd" stroke-width="1.0" fill="none"/><path d="M204.67 432.22V435.56M202.17 432.22H207.17M202.17 435.56H207.17" stroke="#c6aedd" stroke-width="1.0" fill="none"/><path d="M207.5 431.16V436.51M205 431.16H210M205 436.51H210" stroke="#c6aedd" stroke-width="1.0" fill="none"/><path d="M210.32 432.24V435.36M207.82 432.24H212.82M207.82 435.36H212.82" stroke="#c6aedd" stroke-width="1.0" fill="none"/><path d="M213.14 431.21V436M210.64 431.21H215.64M210.64 436H215.64" stroke="#c6aedd" stroke-width="1.0" fill="none"/><path d="M215.97 431.37V435.76M213.47 431.37H218.47M213.47 435.76H218.47" stroke="#c6aedd" stroke-width="1.0" fill="none"/><path d="M218.79 430.62V436.29M216.29 430.62H221.29M216.29 436.29H221.29" stroke="#c6aedd" stroke-width="1.0" fill="none"/><path d="M221.62 431.44V435.47M219.12 431.44H224.12M219.12 435.47H224.12" stroke="#c6aedd" stroke-width="1.0" fill="none"/><path d="M224.44 431.58V435.04M221.94 431.58H226.94M221.94 435.04H226.94" stroke="#c6aedd" stroke-width="1.0" fill="none"/><path d="M227.26 431.68V434.87M224.76 431.68H229.76M224.76 434.87H229.76" stroke="#c6aedd" stroke-width="1.0" fill="none"/><path d="M230.09 431.62V435.22M227.59 431.62H232.59M227.59 435.22H232.59" stroke="#c6aedd" stroke-width="1.0" fill="none"/><path d="M232.91 432.14V434.32M230.41 432.14H235.41M230.41 434.32H235.41" stroke="#c6aedd" stroke-width="1.0" fill="none"/><path d="M235.74 431.88V434.52M233.24 431.88H238.24M233.24 434.52H238.24" stroke="#c6aedd" stroke-width="1.0" fill="none"/><path d="M238.56 431.87V434.62M236.06 431.87H241.06M236.06 434.62H241.06" stroke="#c6aedd" stroke-width="1.0" fill="none"/><path d="M241.38 431.54V434.95M238.88 431.54H243.88M238.88 434.95H243.88" stroke="#c6aedd" stroke-width="1.0" fill="none"/><path d="M244.21 430.54V435.71M241.71 430.54H246.71M241.71 435.71H246.71" stroke="#c6aedd" stroke-width="1.0" fill="none"/><path d="M247.03 430.18V436.04M244.53 430.18H249.53M244.53 436.04H249.53" stroke="#c6aedd" stroke-width="1.0" fill="none"/><path d="M249.86 431.21V434.76M247.36 431.21H252.36M247.36 434.76H252.36" stroke="#c6aedd" stroke-width="1.0" fill="none"/><path d="M252.68 431.33V434.48M250.18 431.33H255.18M250.18 434.48H255.18" stroke="#c6aedd" stroke-width="1.0" fill="none"/><path d="M255.5 431.32V434.64M253 431.32H258M253 434.64H258" stroke="#c6aedd" stroke-width="1.0" fill="none"/><path d="M258.33 430.64V435.27M255.83 430.64H260.83M255.83 435.27H260.83" stroke="#c6aedd" stroke-width="1.0" fill="none"/><path d="M261.15 430.84V434.89M258.65 430.84H263.65M258.65 434.89H263.65" stroke="#c6aedd" stroke-width="1.0" fill="none"/><path d="M263.98 431.46V434.09M261.48 431.46H266.48M261.48 434.09H266.48" stroke="#c6aedd" stroke-width="1.0" fill="none"/><path d="M266.8 430.6V434.82M264.3 430.6H269.3M264.3 434.82H269.3" stroke="#c6aedd" stroke-width="1.0" fill="none"/><path d="M269.62 431.11V434.33M267.12 431.11H272.12M267.12 434.33H272.12" stroke="#c6aedd" stroke-width="1.0" fill="none"/><path d="M272.45 431.37V434.1M269.95 431.37H274.95M269.95 434.1H274.95" stroke="#c6aedd" stroke-width="1.0" fill="none"/><path d="M275.27 430.06V435.3M272.77 430.06H277.77M272.77 435.3H277.77" stroke="#c6aedd" stroke-width="1.0" fill="none"/><path d="M278.1 431.24V433.82M275.6 431.24H280.6M275.6 433.82H280.6" stroke="#c6aedd" stroke-width="1.0" fill="none"/><path d="M280.92 430.61V434.5M278.42 430.61H283.42M278.42 434.5H283.42" stroke="#c6aedd" stroke-width="1.0" fill="none"/><path d="M283.74 430.03V435.2M281.24 430.03H286.24M281.24 435.2H286.24" stroke="#c6aedd" stroke-width="1.0" fill="none"/><path d="M286.57 430.34V434.64M284.07 430.34H289.07M284.07 434.64H289.07" stroke="#c6aedd" stroke-width="1.0" fill="none"/><path d="M289.39 429.69V435.28M286.89 429.69H291.89M286.89 435.28H291.89" stroke="#c6aedd" stroke-width="1.0" fill="none"/><path d="M292.22 430.64V434.06M289.72 430.64H294.72M289.72 434.06H294.72" stroke="#c6aedd" stroke-width="1.0" fill="none"/><path d="M295.04 429.5V435.37M292.54 429.5H297.54M292.54 435.37H297.54" stroke="#c6aedd" stroke-width="1.0" fill="none"/><path d="M297.86 431.17V433.51M295.36 431.17H300.36M295.36 433.51H300.36" stroke="#c6aedd" stroke-width="1.0" fill="none"/><path d="M300.69 429.49V435.16M298.19 429.49H303.19M298.19 435.16H303.19" stroke="#c6aedd" stroke-width="1.0" fill="none"/><path d="M303.51 430.28V434.11M301.01 430.28H306.01M301.01 434.11H306.01" stroke="#c6aedd" stroke-width="1.0" fill="none"/><path d="M306.34 430.94V433.13M303.84 430.94H308.84M303.84 433.13H308.84" stroke="#c6aedd" stroke-width="1.0" fill="none"/><path d="M309.16 430.49V433.67M306.66 430.49H311.66M306.66 433.67H311.66" stroke="#c6aedd" stroke-width="1.0" fill="none"/><path d="M311.98 429.04V435.08M309.48 429.04H314.48M309.48 435.08H314.48" stroke="#c6aedd" stroke-width="1.0" fill="none"/><path d="M314.81 429.41V434.38M312.31 429.41H317.31M312.31 434.38H317.31" stroke="#c6aedd" stroke-width="1.0" fill="none"/><path d="M317.63 429.5V434.55M315.13 429.5H320.13M315.13 434.55H320.13" stroke="#c6aedd" stroke-width="1.0" fill="none"/><path d="M320.46 429.25V434.59M317.96 429.25H322.96M317.96 434.59H322.96" stroke="#c6aedd" stroke-width="1.0" fill="none"/><path d="M323.28 430.67V432.87M320.78 430.67H325.78M320.78 432.87H325.78" stroke="#c6aedd" stroke-width="1.0" fill="none"/><path d="M326.1 430.21V433.58M323.6 430.21H328.6M323.6 433.58H328.6" stroke="#c6aedd" stroke-width="1.0" fill="none"/><path d="M328.93 429.68V433.67M326.43 429.68H331.43M326.43 433.67H331.43" stroke="#c6aedd" stroke-width="1.0" fill="none"/><path d="M331.75 428.85V434.58M329.25 428.85H334.25M329.25 434.58H334.25" stroke="#c6aedd" stroke-width="1.0" fill="none"/><path d="M334.58 428.88V434.6M332.08 428.88H337.08M332.08 434.6H337.08" stroke="#c6aedd" stroke-width="1.0" fill="none"/><path d="M337.4 430.26V433.01M334.9 430.26H339.9M334.9 433.01H339.9" stroke="#c6aedd" stroke-width="1.0" fill="none"/>
<path d="M57.82 432.59L58.86 435.37L61.82 435.5L59.5 437.34L60.29 440.19L57.82 438.56L55.36 440.19L56.15 437.34L53.83 435.5L56.79 435.37Z" fill="#9467bd"/><path d="M60.65 434.37L61.68 437.15L64.64 437.28L62.33 439.12L63.12 441.97L60.65 440.34L58.18 441.97L58.97 439.12L56.65 437.28L59.61 437.15Z" fill="#9467bd"/><path d="M63.47 434.42L64.51 437.19L67.47 437.32L65.15 439.16L65.94 442.02L63.47 440.38L61 442.02L61.79 439.16L59.48 437.32L62.44 437.19Z" fill="#9467bd"/><path d="M66.3 434.71L67.33 437.48L70.29 437.61L67.97 439.46L68.76 442.31L66.3 440.68L63.83 442.31L64.62 439.46L62.3 437.61L65.26 437.48Z" fill="#9467bd"/><path d="M69.12 434.87L70.16 437.64L73.11 437.77L70.8 439.61L71.59 442.47L69.12 440.83L66.65 442.47L67.44 439.61L65.13 437.77L68.08 437.64Z" fill="#9467bd"/><path d="M71.94 434.82L72.98 437.6L75.94 437.73L73.62 439.57L74.41 442.42L71.94 440.79L69.48 442.42L70.27 439.57L67.95 437.73L70.91 437.6Z" fill="#9467bd"/><path d="M74.77 434.7L75.8 437.47L78.76 437.6L76.45 439.44L77.24 442.3L74.77 440.66L72.3 442.3L73.09 439.44L70.77 437.6L73.73 437.47Z" fill="#9467bd"/><path d="M77.59 434.66L78.63 437.44L81.59 437.57L79.27 439.41L80.06 442.26L77.59 440.63L75.12 442.26L75.91 439.41L73.6 437.57L76.56 437.44Z" fill="#9467bd"/><path d="M80.42 434.73L81.45 437.5L84.41 437.63L82.09 439.47L82.88 442.32L80.42 440.69L77.95 442.32L78.74 439.47L76.42 437.63L79.38 437.5Z" fill="#9467bd"/><path d="M83.24 434.54L84.28 437.32L87.23 437.45L84.92 439.29L85.71 442.14L83.24 440.51L80.77 442.14L81.56 439.29L79.25 437.45L82.2 437.32Z" fill="#9467bd"/><path d="M86.06 434.28L87.1 437.05L90.06 437.18L87.74 439.02L88.53 441.87L86.06 440.24L83.6 441.87L84.39 439.02L82.07 437.18L85.03 437.05Z" fill="#9467bd"/><path d="M88.89 434.08L89.92 436.86L92.88 436.99L90.57 438.83L91.36 441.68L88.89 440.05L86.42 441.68L87.21 438.83L84.89 436.99L87.85 436.86Z" fill="#9467bd"/><path d="M91.71 433.93L92.75 436.71L95.71 436.83L93.39 438.68L94.18 441.53L91.71 439.9L89.24 441.53L90.03 438.68L87.72 436.83L90.68 436.71Z" fill="#9467bd"/><path d="M94.54 433.78L95.57 436.56L98.53 436.69L96.21 438.53L97 441.38L94.54 439.75L92.07 441.38L92.86 438.53L90.54 436.69L93.5 436.56Z" fill="#9467bd"/><path d="M97.36 433.79L98.4 436.56L101.35 436.69L99.04 438.53L99.83 441.38L97.36 439.75L94.89 441.38L95.68 438.53L93.37 436.69L96.32 436.56Z" fill="#9467bd"/><path d="M100.18 433.55L101.22 436.33L104.18 436.46L101.86 438.3L102.65 441.15L100.18 439.52L97.72 441.15L98.51 438.3L96.19 436.46L99.15 436.33Z" fill="#9467bd"/><path d="M103.01 433.23L104.04 436L107 436.13L104.69 437.98L105.48 440.83L103.01 439.2L100.54 440.83L101.33 437.98L99.01 436.13L101.97 436Z" fill="#9467bd"/><path d="M105.83 432.96L106.87 435.73L109.83 435.86L107.51 437.7L108.3 440.56L105.83 438.92L103.36 440.56L104.15 437.7L101.84 435.86L104.8 435.73Z" fill="#9467bd"/><path d="M108.66 432.85L109.69 435.62L112.65 435.75L110.33 437.6L111.12 440.45L108.66 438.82L106.19 440.45L106.98 437.6L104.66 435.75L107.62 435.62Z" fill="#9467bd"/><path d="M111.48 432.6L112.52 435.37L115.47 435.5L113.16 437.35L113.95 440.2L111.48 438.56L109.01 440.2L109.8 437.35L107.49 435.5L110.44 435.37Z" fill="#9467bd"/><path d="M114.3 432.51L115.34 435.28L118.3 435.41L115.98 437.25L116.77 440.11L114.3 438.47L111.84 440.11L112.63 437.25L110.31 435.41L113.27 435.28Z" fill="#9467bd"/><path d="M117.13 432.31L118.16 435.08L121.12 435.21L118.81 437.06L119.6 439.91L117.13 438.28L114.66 439.91L115.45 437.06L113.13 435.21L116.09 435.08Z" fill="#9467bd"/><path d="M119.95 432.33L120.99 435.1L123.95 435.23L121.63 437.07L122.42 439.93L119.95 438.29L117.48 439.93L118.27 437.07L115.96 435.23L118.92 435.1Z" fill="#9467bd"/><path d="M122.78 432.05L123.81 434.82L126.77 434.95L124.45 436.79L125.24 439.64L122.78 438.01L120.31 439.64L121.1 436.79L118.78 434.95L121.74 434.82Z" fill="#9467bd"/><path d="M125.6 431.83L126.64 434.61L129.59 434.74L127.28 436.58L128.07 439.43L125.6 437.8L123.13 439.43L123.92 436.58L121.61 434.74L124.56 434.61Z" fill="#9467bd"/><path d="M128.42 431.73L129.46 434.5L132.42 434.63L130.1 436.48L130.89 439.33L128.42 437.7L125.96 439.33L126.75 436.48L124.43 434.63L127.39 434.5Z" fill="#9467bd"/><path d="M131.25 431.72L132.28 434.49L135.24 434.62L132.93 436.47L133.72 439.32L131.25 437.68L128.78 439.32L129.57 436.47L127.25 434.62L130.21 434.49Z" fill="#9467bd"/><path d="M134.07 431.61L135.11 434.38L138.07 434.51L135.75 436.35L136.54 439.21L134.07 437.57L131.6 439.21L132.39 436.35L130.08 434.51L133.04 434.38Z" fill="#9467bd"/><path d="M136.9 431.52L137.93 434.3L140.89 434.43L138.57 436.27L139.36 439.12L136.9 437.49L134.43 439.12L135.22 436.27L132.9 434.43L135.86 434.3Z" fill="#9467bd"/><path d="M139.72 431.45L140.76 434.22L143.71 434.35L141.4 436.19L142.19 439.04L139.72 437.41L137.25 439.04L138.04 436.19L135.73 434.35L138.68 434.22Z" fill="#9467bd"/><path d="M142.54 431.3L143.58 434.07L146.54 434.2L144.22 436.05L145.01 438.9L142.54 437.27L140.08 438.9L140.87 436.05L138.55 434.2L141.51 434.07Z" fill="#9467bd"/><path d="M145.37 431.07L146.4 433.84L149.36 433.97L147.05 435.82L147.84 438.67L145.37 437.03L142.9 438.67L143.69 435.82L141.37 433.97L144.33 433.84Z" fill="#9467bd"/><path d="M148.19 431.05L149.23 433.82L152.19 433.95L149.87 435.8L150.66 438.65L148.19 437.02L145.72 438.65L146.51 435.8L144.2 433.95L147.16 433.82Z" fill="#9467bd"/><path d="M151.02 430.84L152.05 433.62L155.01 433.75L152.69 435.59L153.48 438.44L151.02 436.81L148.55 438.44L149.34 435.59L147.02 433.75L149.98 433.62Z" fill="#9467bd"/><path d="M153.84 430.78L154.88 433.56L157.83 433.69L155.52 435.53L156.31 438.38L153.84 436.75L151.37 438.38L152.16 435.53L149.85 433.69L152.8 433.56Z" fill="#9467bd"/><path d="M156.66 430.7L157.7 433.47L160.66 433.6L158.34 435.45L159.13 438.3L156.66 436.67L154.2 438.3L154.99 435.45L152.67 433.6L155.63 433.47Z" fill="#9467bd"/><path d="M159.49 430.64L160.52 433.41L163.48 433.54L161.17 435.38L161.96 438.24L159.49 436.6L157.02 438.24L157.81 435.38L155.49 433.54L158.45 433.41Z" fill="#9467bd"/><path d="M162.31 430.56L163.35 433.34L166.31 433.47L163.99 435.31L164.78 438.16L162.31 436.53L159.84 438.16L160.63 435.31L158.32 433.47L161.28 433.34Z" fill="#9467bd"/><path d="M165.14 430.42L166.17 433.2L169.13 433.33L166.81 435.17L167.6 438.02L165.14 436.39L162.67 438.02L163.46 435.17L161.14 433.33L164.1 433.2Z" fill="#9467bd"/><path d="M167.96 430.32L169 433.1L171.95 433.23L169.64 435.07L170.43 437.92L167.96 436.29L165.49 437.92L166.28 435.07L163.97 433.23L166.92 433.1Z" fill="#9467bd"/><path d="M170.78 430.34L171.82 433.11L174.78 433.24L172.46 435.09L173.25 437.94L170.78 436.31L168.32 437.94L169.11 435.09L166.79 433.24L169.75 433.11Z" fill="#9467bd"/><path d="M173.61 430.21L174.64 432.99L177.6 433.12L175.29 434.96L176.08 437.81L173.61 436.18L171.14 437.81L171.93 434.96L169.61 433.12L172.57 432.99Z" fill="#9467bd"/><path d="M176.43 430.35L177.47 433.12L180.43 433.25L178.11 435.09L178.9 437.94L176.43 436.31L173.96 437.94L174.75 435.09L172.44 433.25L175.4 433.12Z" fill="#9467bd"/><path d="M179.26 430.29L180.29 433.06L183.25 433.19L180.93 435.04L181.72 437.89L179.26 436.26L176.79 437.89L177.58 435.04L175.26 433.19L178.22 433.06Z" fill="#9467bd"/><path d="M182.08 430.26L183.12 433.03L186.07 433.16L183.76 435.01L184.55 437.86L182.08 436.22L179.61 437.86L180.4 435.01L178.09 433.16L181.04 433.03Z" fill="#9467bd"/><path d="M184.9 430.19L185.94 432.96L188.9 433.09L186.58 434.93L187.37 437.79L184.9 436.15L182.44 437.79L183.23 434.93L180.91 433.09L183.87 432.96Z" fill="#9467bd"/><path d="M187.73 430.11L188.76 432.89L191.72 433.02L189.41 434.86L190.2 437.71L187.73 436.08L185.26 437.71L186.05 434.86L183.73 433.02L186.69 432.89Z" fill="#9467bd"/><path d="M190.55 430.06L191.59 432.83L194.55 432.96L192.23 434.8L193.02 437.65L190.55 436.02L188.08 437.65L188.87 434.8L186.56 432.96L189.52 432.83Z" fill="#9467bd"/><path d="M193.38 429.97L194.41 432.74L197.37 432.87L195.05 434.71L195.84 437.57L193.38 435.93L190.91 437.57L191.7 434.71L189.38 432.87L192.34 432.74Z" fill="#9467bd"/><path d="M196.2 429.91L197.24 432.69L200.19 432.82L197.88 434.66L198.67 437.51L196.2 435.88L193.73 437.51L194.52 434.66L192.21 432.82L195.16 432.69Z" fill="#9467bd"/><path d="M199.02 429.97L200.06 432.74L203.02 432.87L200.7 434.71L201.49 437.56L199.02 435.93L196.56 437.56L197.35 434.71L195.03 432.87L197.99 432.74Z" fill="#9467bd"/><path d="M201.85 429.81L202.88 432.58L205.84 432.71L203.53 434.55L204.32 437.41L201.85 435.77L199.38 437.41L200.17 434.55L197.85 432.71L200.81 432.58Z" fill="#9467bd"/><path d="M204.67 429.69L205.71 432.46L208.67 432.59L206.35 434.43L207.14 437.29L204.67 435.65L202.2 437.29L202.99 434.43L200.68 432.59L203.64 432.46Z" fill="#9467bd"/><path d="M207.5 429.63L208.53 432.41L211.49 432.54L209.17 434.38L209.96 437.23L207.5 435.6L205.03 437.23L205.82 434.38L203.5 432.54L206.46 432.41Z" fill="#9467bd"/><path d="M210.32 429.6L211.36 432.37L214.31 432.5L212 434.34L212.79 437.2L210.32 435.56L207.85 437.2L208.64 434.34L206.33 432.5L209.28 432.37Z" fill="#9467bd"/><path d="M213.14 429.41L214.18 432.18L217.14 432.31L214.82 434.15L215.61 437L213.14 435.37L210.68 437L211.47 434.15L209.15 432.31L212.11 432.18Z" fill="#9467bd"/><path d="M215.97 429.36L217 432.14L219.96 432.27L217.65 434.11L218.44 436.96L215.97 435.33L213.5 436.96L214.29 434.11L211.97 432.27L214.93 432.14Z" fill="#9467bd"/><path d="M218.79 429.26L219.83 432.03L222.79 432.16L220.47 434L221.26 436.85L218.79 435.22L216.32 436.85L217.11 434L214.8 432.16L217.76 432.03Z" fill="#9467bd"/><path d="M221.62 429.25L222.65 432.03L225.61 432.16L223.29 434L224.08 436.85L221.62 435.22L219.15 436.85L219.94 434L217.62 432.16L220.58 432.03Z" fill="#9467bd"/><path d="M224.44 429.11L225.48 431.88L228.43 432.01L226.12 433.86L226.91 436.71L224.44 435.07L221.97 436.71L222.76 433.86L220.45 432.01L223.4 431.88Z" fill="#9467bd"/><path d="M227.26 429.07L228.3 431.85L231.26 431.98L228.94 433.82L229.73 436.67L227.26 435.04L224.8 436.67L225.59 433.82L223.27 431.98L226.23 431.85Z" fill="#9467bd"/><path d="M230.09 429.22L231.12 431.99L234.08 432.12L231.77 433.97L232.56 436.82L230.09 435.18L227.62 436.82L228.41 433.97L226.09 432.12L229.05 431.99Z" fill="#9467bd"/><path d="M232.91 429.03L233.95 431.8L236.91 431.93L234.59 433.77L235.38 436.63L232.91 434.99L230.44 436.63L231.23 433.77L228.92 431.93L231.88 431.8Z" fill="#9467bd"/><path d="M235.74 429L236.77 431.77L239.73 431.9L237.41 433.74L238.2 436.59L235.74 434.96L233.27 436.59L234.06 433.74L231.74 431.9L234.7 431.77Z" fill="#9467bd"/><path d="M238.56 429.05L239.6 431.82L242.55 431.95L240.24 433.79L241.03 436.64L238.56 435.01L236.09 436.64L236.88 433.79L234.57 431.95L237.52 431.82Z" fill="#9467bd"/><path d="M241.38 429.04L242.42 431.82L245.38 431.95L243.06 433.79L243.85 436.64L241.38 435.01L238.92 436.64L239.71 433.79L237.39 431.95L240.35 431.82Z" fill="#9467bd"/><path d="M244.21 428.92L245.24 431.7L248.2 431.83L245.89 433.67L246.68 436.52L244.21 434.89L241.74 436.52L242.53 433.67L240.21 431.83L243.17 431.7Z" fill="#9467bd"/><path d="M247.03 428.91L248.07 431.68L251.03 431.81L248.71 433.65L249.5 436.51L247.03 434.87L244.56 436.51L245.35 433.65L243.04 431.81L246 431.68Z" fill="#9467bd"/><path d="M249.86 428.78L250.89 431.56L253.85 431.69L251.53 433.53L252.32 436.38L249.86 434.75L247.39 436.38L248.18 433.53L245.86 431.69L248.82 431.56Z" fill="#9467bd"/><path d="M252.68 428.7L253.72 431.48L256.67 431.61L254.36 433.45L255.15 436.3L252.68 434.67L250.21 436.3L251 433.45L248.69 431.61L251.64 431.48Z" fill="#9467bd"/><path d="M255.5 428.78L256.54 431.55L259.5 431.68L257.18 433.52L257.97 436.37L255.5 434.74L253.04 436.37L253.83 433.52L251.51 431.68L254.47 431.55Z" fill="#9467bd"/><path d="M258.33 428.75L259.36 431.53L262.32 431.65L260.01 433.5L260.8 436.35L258.33 434.72L255.86 436.35L256.65 433.5L254.33 431.65L257.29 431.53Z" fill="#9467bd"/><path d="M261.15 428.66L262.19 431.44L265.15 431.57L262.83 433.41L263.62 436.26L261.15 434.63L258.68 436.26L259.47 433.41L257.16 431.57L260.12 431.44Z" fill="#9467bd"/><path d="M263.98 428.58L265.01 431.35L267.97 431.48L265.65 433.32L266.44 436.18L263.98 434.54L261.51 436.18L262.3 433.32L259.98 431.48L262.94 431.35Z" fill="#9467bd"/><path d="M266.8 428.51L267.84 431.29L270.79 431.42L268.48 433.26L269.27 436.11L266.8 434.48L264.33 436.11L265.12 433.26L262.81 431.42L265.76 431.29Z" fill="#9467bd"/><path d="M269.62 428.52L270.66 431.29L273.62 431.42L271.3 433.26L272.09 436.11L269.62 434.48L267.16 436.11L267.95 433.26L265.63 431.42L268.59 431.29Z" fill="#9467bd"/><path d="M272.45 428.53L273.48 431.31L276.44 431.44L274.13 433.28L274.92 436.13L272.45 434.5L269.98 436.13L270.77 433.28L268.45 431.44L271.41 431.31Z" fill="#9467bd"/><path d="M275.27 428.48L276.31 431.25L279.27 431.38L276.95 433.23L277.74 436.08L275.27 434.45L272.8 436.08L273.59 433.23L271.28 431.38L274.24 431.25Z" fill="#9467bd"/><path d="M278.1 428.33L279.13 431.1L282.09 431.23L279.77 433.07L280.56 435.93L278.1 434.29L275.63 435.93L276.42 433.07L274.1 431.23L277.06 431.1Z" fill="#9467bd"/><path d="M280.92 428.36L281.96 431.13L284.91 431.26L282.6 433.1L283.39 435.95L280.92 434.32L278.45 435.95L279.24 433.1L276.93 431.26L279.88 431.13Z" fill="#9467bd"/><path d="M283.74 428.41L284.78 431.19L287.74 431.32L285.42 433.16L286.21 436.01L283.74 434.38L281.28 436.01L282.07 433.16L279.75 431.32L282.71 431.19Z" fill="#9467bd"/><path d="M286.57 428.29L287.6 431.06L290.56 431.19L288.25 433.03L289.04 435.89L286.57 434.25L284.1 435.89L284.89 433.03L282.57 431.19L285.53 431.06Z" fill="#9467bd"/><path d="M289.39 428.29L290.43 431.06L293.39 431.19L291.07 433.03L291.86 435.88L289.39 434.25L286.92 435.88L287.71 433.03L285.4 431.19L288.36 431.06Z" fill="#9467bd"/><path d="M292.22 428.15L293.25 430.92L296.21 431.05L293.89 432.89L294.68 435.75L292.22 434.11L289.75 435.75L290.54 432.89L288.22 431.05L291.18 430.92Z" fill="#9467bd"/><path d="M295.04 428.23L296.08 431.01L299.03 431.14L296.72 432.98L297.51 435.83L295.04 434.2L292.57 435.83L293.36 432.98L291.05 431.14L294 431.01Z" fill="#9467bd"/><path d="M297.86 428.14L298.9 430.91L301.86 431.04L299.54 432.89L300.33 435.74L297.86 434.11L295.4 435.74L296.19 432.89L293.87 431.04L296.83 430.91Z" fill="#9467bd"/><path d="M300.69 428.13L301.72 430.9L304.68 431.03L302.37 432.87L303.16 435.73L300.69 434.09L298.22 435.73L299.01 432.87L296.69 431.03L299.65 430.9Z" fill="#9467bd"/><path d="M303.51 428L304.55 430.77L307.51 430.9L305.19 432.74L305.98 435.59L303.51 433.96L301.04 435.59L301.83 432.74L299.52 430.9L302.48 430.77Z" fill="#9467bd"/><path d="M306.34 427.83L307.37 430.61L310.33 430.74L308.01 432.58L308.8 435.43L306.34 433.8L303.87 435.43L304.66 432.58L302.34 430.74L305.3 430.61Z" fill="#9467bd"/><path d="M309.16 427.88L310.2 430.65L313.15 430.78L310.84 432.62L311.63 435.48L309.16 433.84L306.69 435.48L307.48 432.62L305.17 430.78L308.12 430.65Z" fill="#9467bd"/><path d="M311.98 427.86L313.02 430.64L315.98 430.76L313.66 432.61L314.45 435.46L311.98 433.83L309.52 435.46L310.31 432.61L307.99 430.76L310.95 430.64Z" fill="#9467bd"/><path d="M314.81 427.69L315.84 430.47L318.8 430.6L316.49 432.44L317.28 435.29L314.81 433.66L312.34 435.29L313.13 432.44L310.81 430.6L313.77 430.47Z" fill="#9467bd"/><path d="M317.63 427.83L318.67 430.6L321.63 430.73L319.31 432.57L320.1 435.42L317.63 433.79L315.16 435.42L315.95 432.57L313.64 430.73L316.6 430.6Z" fill="#9467bd"/><path d="M320.46 427.72L321.49 430.49L324.45 430.62L322.13 432.46L322.92 435.32L320.46 433.68L317.99 435.32L318.78 432.46L316.46 430.62L319.42 430.49Z" fill="#9467bd"/><path d="M323.28 427.57L324.32 430.34L327.27 430.47L324.96 432.31L325.75 435.17L323.28 433.53L320.81 435.17L321.6 432.31L319.29 430.47L322.24 430.34Z" fill="#9467bd"/><path d="M326.1 427.69L327.14 430.47L330.1 430.59L327.78 432.44L328.57 435.29L326.1 433.66L323.64 435.29L324.43 432.44L322.11 430.59L325.07 430.47Z" fill="#9467bd"/><path d="M328.93 427.48L329.96 430.25L332.92 430.38L330.61 432.22L331.4 435.07L328.93 433.44L326.46 435.07L327.25 432.22L324.93 430.38L327.89 430.25Z" fill="#9467bd"/><path d="M331.75 427.51L332.79 430.29L335.75 430.42L333.43 432.26L334.22 435.11L331.75 433.48L329.28 435.11L330.07 432.26L327.76 430.42L330.72 430.29Z" fill="#9467bd"/><path d="M334.58 427.54L335.61 430.31L338.57 430.44L336.25 432.28L337.04 435.14L334.58 433.5L332.11 435.14L332.9 432.28L330.58 430.44L333.54 430.31Z" fill="#9467bd"/><path d="M337.4 427.44L338.44 430.21L341.39 430.34L339.08 432.18L339.87 435.03L337.4 433.4L334.93 435.03L335.72 432.18L333.41 430.34L336.36 430.21Z" fill="#9467bd"/>
</g>
<rect x="154" y="303" width="184.6" height="99.2" fill="#fff"/>
<g clip-path="url(#ci)">
<path d="M224.62 304.6V402.2M250.94 304.6V402.2M277.26 304.6V402.2M303.58 304.6V402.2M329.9 304.6V402.2M194.4 394.3H337.6M194.4 380.85H337.6M194.4 367.4H337.6M194.4 353.95H337.6M194.4 340.5H337.6M194.4 327.05H337.6M194.4 313.6H337.6" stroke="#dcdcdc" stroke-width="0.7" stroke-dasharray="1 2" fill="none"/>
<path d="M199.62 222.14V410.44M198.02 222.14H201.22M198.02 410.44H201.22" stroke="#9cc2e3" stroke-width="0.65" fill="none" opacity="0.8"/><path d="M203.56 93.58V157.6M201.96 93.58H205.16M201.96 157.6H205.16" stroke="#9cc2e3" stroke-width="0.65" fill="none" opacity="0.8"/><path d="M208.83 189.55V234.93M207.23 189.55H210.43M207.23 234.93H210.43" stroke="#9cc2e3" stroke-width="0.65" fill="none" opacity="0.8"/><path d="M214.09 243.33V277.96M212.49 243.33H215.69M212.49 277.96H215.69" stroke="#9cc2e3" stroke-width="0.65" fill="none" opacity="0.8"/><path d="M219.36 273.88V298.96M217.76 273.88H220.96M217.76 298.96H220.96" stroke="#9cc2e3" stroke-width="0.65" fill="none" opacity="0.8"/><path d="M224.62 290.29V330.18M223.02 290.29H226.22M223.02 330.18H226.22" stroke="#9cc2e3" stroke-width="0.65" fill="none" opacity="0.8"/><path d="M229.88 324.48V368.41M228.28 324.48H231.48M228.28 368.41H231.48" stroke="#9cc2e3" stroke-width="0.65" fill="none" opacity="0.8"/><path d="M235.15 334.71V375.74M233.55 334.71H236.75M233.55 375.74H236.75" stroke="#9cc2e3" stroke-width="0.65" fill="none" opacity="0.8"/><path d="M240.41 342.38V377.26M238.81 342.38H242.01M238.81 377.26H242.01" stroke="#9cc2e3" stroke-width="0.65" fill="none" opacity="0.8"/><path d="M245.68 330.82V393.13M244.08 330.82H247.28M244.08 393.13H247.28" stroke="#9cc2e3" stroke-width="0.65" fill="none" opacity="0.8"/><path d="M250.94 343.25V385.23M249.34 343.25H252.54M249.34 385.23H252.54" stroke="#9cc2e3" stroke-width="0.65" fill="none" opacity="0.8"/><path d="M256.2 347.07V381.83M254.6 347.07H257.8M254.6 381.83H257.8" stroke="#9cc2e3" stroke-width="0.65" fill="none" opacity="0.8"/><path d="M261.47 339.91V394.9M259.87 339.91H263.07M259.87 394.9H263.07" stroke="#9cc2e3" stroke-width="0.65" fill="none" opacity="0.8"/><path d="M266.73 350.75V382.78M265.13 350.75H268.33M265.13 382.78H268.33" stroke="#9cc2e3" stroke-width="0.65" fill="none" opacity="0.8"/><path d="M272 348.63V388.35M270.4 348.63H273.6M270.4 388.35H273.6" stroke="#9cc2e3" stroke-width="0.65" fill="none" opacity="0.8"/><path d="M277.26 353.23V379.23M275.66 353.23H278.86M275.66 379.23H278.86" stroke="#9cc2e3" stroke-width="0.65" fill="none" opacity="0.8"/><path d="M282.52 351.79V383.56M280.92 351.79H284.12M280.92 383.56H284.12" stroke="#9cc2e3" stroke-width="0.65" fill="none" opacity="0.8"/><path d="M287.79 335.71V400.14M286.19 335.71H289.39M286.19 400.14H289.39" stroke="#9cc2e3" stroke-width="0.65" fill="none" opacity="0.8"/><path d="M293.05 344.13V392.39M291.45 344.13H294.65M291.45 392.39H294.65" stroke="#9cc2e3" stroke-width="0.65" fill="none" opacity="0.8"/><path d="M298.32 346.49V390.55M296.72 346.49H299.92M296.72 390.55H299.92" stroke="#9cc2e3" stroke-width="0.65" fill="none" opacity="0.8"/><path d="M303.58 341.02V391.52M301.98 341.02H305.18M301.98 391.52H305.18" stroke="#9cc2e3" stroke-width="0.65" fill="none" opacity="0.8"/><path d="M308.84 344.01V394.46M307.24 344.01H310.44M307.24 394.46H310.44" stroke="#9cc2e3" stroke-width="0.65" fill="none" opacity="0.8"/><path d="M314.11 346.83V390.79M312.51 346.83H315.71M312.51 390.79H315.71" stroke="#9cc2e3" stroke-width="0.65" fill="none" opacity="0.8"/><path d="M319.37 362.72V400.02M317.77 362.72H320.97M317.77 400.02H320.97" stroke="#9cc2e3" stroke-width="0.65" fill="none" opacity="0.8"/><path d="M324.64 345.42V373.29M323.04 345.42H326.24M323.04 373.29H326.24" stroke="#9cc2e3" stroke-width="0.65" fill="none" opacity="0.8"/><path d="M329.9 390.98V413.76M328.3 390.98H331.5M328.3 413.76H331.5" stroke="#9cc2e3" stroke-width="0.65" fill="none" opacity="0.8"/><path d="M200.93 -15.01V2.02M199.33 -15.01H202.53M199.33 2.02H202.53" stroke="#ffb985" stroke-width="0.65" fill="none" opacity="0.8"/><path d="M206.2 94.87V120.31M204.6 94.87H207.8M204.6 120.31H207.8" stroke="#ffb985" stroke-width="0.65" fill="none" opacity="0.8"/><path d="M211.46 160.81V174.56M209.86 160.81H213.06M209.86 174.56H213.06" stroke="#ffb985" stroke-width="0.65" fill="none" opacity="0.8"/><path d="M216.72 201.26V234.67M215.12 201.26H218.32M215.12 234.67H218.32" stroke="#ffb985" stroke-width="0.65" fill="none" opacity="0.8"/><path d="M221.99 243.49V266.92M220.39 243.49H223.59M220.39 266.92H223.59" stroke="#ffb985" stroke-width="0.65" fill="none" opacity="0.8"/><path d="M227.25 312.14V332.5M225.65 312.14H228.85M225.65 332.5H228.85" stroke="#ffb985" stroke-width="0.65" fill="none" opacity="0.8"/><path d="M232.52 320.7V343.43M230.92 320.7H234.12M230.92 343.43H234.12" stroke="#ffb985" stroke-width="0.65" fill="none" opacity="0.8"/><path d="M237.78 324.05V352.08M236.18 324.05H239.38M236.18 352.08H239.38" stroke="#ffb985" stroke-width="0.65" fill="none" opacity="0.8"/><path d="M243.04 336.43V356.09M241.44 336.43H244.64M241.44 356.09H244.64" stroke="#ffb985" stroke-width="0.65" fill="none" opacity="0.8"/><path d="M248.31 330.65V369.32M246.71 330.65H249.91M246.71 369.32H249.91" stroke="#ffb985" stroke-width="0.65" fill="none" opacity="0.8"/><path d="M253.57 342.3V370.04M251.97 342.3H255.17M251.97 370.04H255.17" stroke="#ffb985" stroke-width="0.65" fill="none" opacity="0.8"/><path d="M258.84 349.11V364.59M257.24 349.11H260.44M257.24 364.59H260.44" stroke="#ffb985" stroke-width="0.65" fill="none" opacity="0.8"/><path d="M264.1 349.53V365.51M262.5 349.53H265.7M262.5 365.51H265.7" stroke="#ffb985" stroke-width="0.65" fill="none" opacity="0.8"/><path d="M269.36 337.1V376.9M267.76 337.1H270.96M267.76 376.9H270.96" stroke="#ffb985" stroke-width="0.65" fill="none" opacity="0.8"/><path d="M274.63 342.19V372.75M273.03 342.19H276.23M273.03 372.75H276.23" stroke="#ffb985" stroke-width="0.65" fill="none" opacity="0.8"/><path d="M279.89 345.96V368.03M278.29 345.96H281.49M278.29 368.03H281.49" stroke="#ffb985" stroke-width="0.65" fill="none" opacity="0.8"/><path d="M285.16 340.54V375.09M283.56 340.54H286.76M283.56 375.09H286.76" stroke="#ffb985" stroke-width="0.65" fill="none" opacity="0.8"/><path d="M290.42 349.58V364.39M288.82 349.58H292.02M288.82 364.39H292.02" stroke="#ffb985" stroke-width="0.65" fill="none" opacity="0.8"/><path d="M295.68 336.87V376.63M294.08 336.87H297.28M294.08 376.63H297.28" stroke="#ffb985" stroke-width="0.65" fill="none" opacity="0.8"/><path d="M300.95 334.65V375.82M299.35 334.65H302.55M299.35 375.82H302.55" stroke="#ffb985" stroke-width="0.65" fill="none" opacity="0.8"/><path d="M306.21 338.89V372M304.61 338.89H307.81M304.61 372H307.81" stroke="#ffb985" stroke-width="0.65" fill="none" opacity="0.8"/><path d="M311.48 347.73V362.68M309.88 347.73H313.08M309.88 362.68H313.08" stroke="#ffb985" stroke-width="0.65" fill="none" opacity="0.8"/><path d="M316.74 341.87V367.92M315.14 341.87H318.34M315.14 367.92H318.34" stroke="#ffb985" stroke-width="0.65" fill="none" opacity="0.8"/><path d="M322 333.6V371.81M320.4 333.6H323.6M320.4 371.81H323.6" stroke="#ffb985" stroke-width="0.65" fill="none" opacity="0.8"/><path d="M327.27 336.07V367.08M325.67 336.07H328.87M325.67 367.08H328.87" stroke="#ffb985" stroke-width="0.65" fill="none" opacity="0.8"/><path d="M199.62 349.92V430.62M198.02 349.92H201.22M198.02 430.62H201.22" stroke="#8fcf8f" stroke-width="0.65" fill="none" opacity="0.8"/><path d="M202.25 327.28V347.92M200.65 327.28H203.85M200.65 347.92H203.85" stroke="#8fcf8f" stroke-width="0.65" fill="none" opacity="0.8"/><path d="M207.51 357.46V378.65M205.91 357.46H209.11M205.91 378.65H209.11" stroke="#8fcf8f" stroke-width="0.65" fill="none" opacity="0.8"/><path d="M212.78 366.79V384.3M211.18 366.79H214.38M211.18 384.3H214.38" stroke="#8fcf8f" stroke-width="0.65" fill="none" opacity="0.8"/><path d="M218.04 361.32V388.69M216.44 361.32H219.64M216.44 388.69H219.64" stroke="#8fcf8f" stroke-width="0.65" fill="none" opacity="0.8"/><path d="M223.3 361.28V381.32M221.7 361.28H224.9M221.7 381.32H224.9" stroke="#8fcf8f" stroke-width="0.65" fill="none" opacity="0.8"/><path d="M228.57 356.57V382.3M226.97 356.57H230.17M226.97 382.3H230.17" stroke="#8fcf8f" stroke-width="0.65" fill="none" opacity="0.8"/><path d="M233.83 346.92V382.34M232.23 346.92H235.43M232.23 382.34H235.43" stroke="#8fcf8f" stroke-width="0.65" fill="none" opacity="0.8"/><path d="M239.1 360.8V396.33M237.5 360.8H240.7M237.5 396.33H240.7" stroke="#8fcf8f" stroke-width="0.65" fill="none" opacity="0.8"/><path d="M244.36 345.08V371.8M242.76 345.08H245.96M242.76 371.8H245.96" stroke="#8fcf8f" stroke-width="0.65" fill="none" opacity="0.8"/><path d="M249.62 335.49V368.5M248.02 335.49H251.22M248.02 368.5H251.22" stroke="#8fcf8f" stroke-width="0.65" fill="none" opacity="0.8"/><path d="M254.89 340.84V359.86M253.29 340.84H256.49M253.29 359.86H256.49" stroke="#8fcf8f" stroke-width="0.65" fill="none" opacity="0.8"/><path d="M260.15 324.48V361.02M258.55 324.48H261.75M258.55 361.02H261.75" stroke="#8fcf8f" stroke-width="0.65" fill="none" opacity="0.8"/><path d="M265.42 321.39V356.16M263.82 321.39H267.02M263.82 356.16H267.02" stroke="#8fcf8f" stroke-width="0.65" fill="none" opacity="0.8"/><path d="M270.68 322.95V349.48M269.08 322.95H272.28M269.08 349.48H272.28" stroke="#8fcf8f" stroke-width="0.65" fill="none" opacity="0.8"/><path d="M275.94 314.02V349.23M274.34 314.02H277.54M274.34 349.23H277.54" stroke="#8fcf8f" stroke-width="0.65" fill="none" opacity="0.8"/><path d="M281.21 319.38V341.92M279.61 319.38H282.81M279.61 341.92H282.81" stroke="#8fcf8f" stroke-width="0.65" fill="none" opacity="0.8"/><path d="M286.47 308.4V345.64M284.87 308.4H288.07M284.87 345.64H288.07" stroke="#8fcf8f" stroke-width="0.65" fill="none" opacity="0.8"/><path d="M291.74 340.52V363.61M290.14 340.52H293.34M290.14 363.61H293.34" stroke="#8fcf8f" stroke-width="0.65" fill="none" opacity="0.8"/><path d="M297 305.34V341.37M295.4 305.34H298.6M295.4 341.37H298.6" stroke="#8fcf8f" stroke-width="0.65" fill="none" opacity="0.8"/><path d="M302.26 303.15V337.3M300.66 303.15H303.86M300.66 337.3H303.86" stroke="#8fcf8f" stroke-width="0.65" fill="none" opacity="0.8"/><path d="M307.53 300.69V336.94M305.93 300.69H309.13M305.93 336.94H309.13" stroke="#8fcf8f" stroke-width="0.65" fill="none" opacity="0.8"/><path d="M312.79 299.25V331.03M311.19 299.25H314.39M311.19 331.03H314.39" stroke="#8fcf8f" stroke-width="0.65" fill="none" opacity="0.8"/><path d="M318.06 335.94V353.66M316.46 335.94H319.66M316.46 353.66H319.66" stroke="#8fcf8f" stroke-width="0.65" fill="none" opacity="0.8"/><path d="M323.32 298.78V320.93M321.72 298.78H324.92M321.72 320.93H324.92" stroke="#8fcf8f" stroke-width="0.65" fill="none" opacity="0.8"/><path d="M328.58 292.82V323.07M326.98 292.82H330.18M326.98 323.07H330.18" stroke="#8fcf8f" stroke-width="0.65" fill="none" opacity="0.8"/><path d="M199.62 325.71V433.31M198.02 325.71H201.22M198.02 433.31H201.22" stroke="#c6aedd" stroke-width="0.65" fill="none" opacity="0.8"/><path d="M204.88 368.16V419.01M203.28 368.16H206.48M203.28 419.01H206.48" stroke="#c6aedd" stroke-width="0.65" fill="none" opacity="0.8"/><path d="M210.14 370.96V414.46M208.54 370.96H211.74M208.54 414.46H211.74" stroke="#c6aedd" stroke-width="0.65" fill="none" opacity="0.8"/><path d="M215.41 376.4V399.18M213.81 376.4H217.01M213.81 399.18H217.01" stroke="#c6aedd" stroke-width="0.65" fill="none" opacity="0.8"/><path d="M220.67 367.08V399.82M219.07 367.08H222.27M219.07 399.82H222.27" stroke="#c6aedd" stroke-width="0.65" fill="none" opacity="0.8"/><path d="M225.94 362.64V395.3M224.34 362.64H227.54M224.34 395.3H227.54" stroke="#c6aedd" stroke-width="0.65" fill="none" opacity="0.8"/><path d="M231.2 361.26V388.31M229.6 361.26H232.8M229.6 388.31H232.8" stroke="#c6aedd" stroke-width="0.65" fill="none" opacity="0.8"/><path d="M236.46 358.48V387.26M234.86 358.48H238.06M234.86 387.26H238.06" stroke="#c6aedd" stroke-width="0.65" fill="none" opacity="0.8"/><path d="M241.73 350.86V389.04M240.13 350.86H243.33M240.13 389.04H243.33" stroke="#c6aedd" stroke-width="0.65" fill="none" opacity="0.8"/><path d="M246.99 350.62V384.17M245.39 350.62H248.59M245.39 384.17H248.59" stroke="#c6aedd" stroke-width="0.65" fill="none" opacity="0.8"/><path d="M252.26 350.48V380.62M250.66 350.48H253.86M250.66 380.62H253.86" stroke="#c6aedd" stroke-width="0.65" fill="none" opacity="0.8"/><path d="M257.52 347.64V382.46M255.92 347.64H259.12M255.92 382.46H259.12" stroke="#c6aedd" stroke-width="0.65" fill="none" opacity="0.8"/><path d="M262.78 337.19V389.28M261.18 337.19H264.38M261.18 389.28H264.38" stroke="#c6aedd" stroke-width="0.65" fill="none" opacity="0.8"/><path d="M268.05 341.11V381.89M266.45 341.11H269.65M266.45 381.89H269.65" stroke="#c6aedd" stroke-width="0.65" fill="none" opacity="0.8"/><path d="M273.31 336.6V382.39M271.71 336.6H274.91M271.71 382.39H274.91" stroke="#c6aedd" stroke-width="0.65" fill="none" opacity="0.8"/><path d="M278.58 331.88V383.51M276.98 331.88H280.18M276.98 383.51H280.18" stroke="#c6aedd" stroke-width="0.65" fill="none" opacity="0.8"/><path d="M283.84 346.28V368.79M282.24 346.28H285.44M282.24 368.79H285.44" stroke="#c6aedd" stroke-width="0.65" fill="none" opacity="0.8"/><path d="M289.1 330.94V380.88M287.5 330.94H290.7M287.5 380.88H290.7" stroke="#c6aedd" stroke-width="0.65" fill="none" opacity="0.8"/><path d="M294.37 342.87V367.46M292.77 342.87H295.97M292.77 367.46H295.97" stroke="#c6aedd" stroke-width="0.65" fill="none" opacity="0.8"/><path d="M299.63 340.43V368.29M298.03 340.43H301.23M298.03 368.29H301.23" stroke="#c6aedd" stroke-width="0.65" fill="none" opacity="0.8"/><path d="M304.9 330.92V376.31M303.3 330.92H306.5M303.3 376.31H306.5" stroke="#c6aedd" stroke-width="0.65" fill="none" opacity="0.8"/><path d="M310.16 329.59V375.42M308.56 329.59H311.76M308.56 375.42H311.76" stroke="#c6aedd" stroke-width="0.65" fill="none" opacity="0.8"/><path d="M315.42 329.34V370.71M313.82 329.34H317.02M313.82 370.71H317.02" stroke="#c6aedd" stroke-width="0.65" fill="none" opacity="0.8"/><path d="M320.69 331.53V368.41M319.09 331.53H322.29M319.09 368.41H322.29" stroke="#c6aedd" stroke-width="0.65" fill="none" opacity="0.8"/><path d="M325.95 325.39V370.22M324.35 325.39H327.55M324.35 370.22H327.55" stroke="#c6aedd" stroke-width="0.65" fill="none" opacity="0.8"/>
<rect x="197.31" y="313.98" width="4.62" height="4.62" fill="#1f77b4"/><rect x="198.62" y="60.8" width="4.62" height="4.62" fill="#1f77b4"/><rect x="199.94" y="95.49" width="4.62" height="4.62" fill="#1f77b4"/><rect x="201.25" y="123.28" width="4.62" height="4.62" fill="#1f77b4"/><rect x="202.57" y="149.27" width="4.62" height="4.62" fill="#1f77b4"/><rect x="203.89" y="166.57" width="4.62" height="4.62" fill="#1f77b4"/><rect x="205.2" y="194.02" width="4.62" height="4.62" fill="#1f77b4"/><rect x="206.52" y="209.93" width="4.62" height="4.62" fill="#1f77b4"/><rect x="207.83" y="224.42" width="4.62" height="4.62" fill="#1f77b4"/><rect x="209.15" y="238.44" width="4.62" height="4.62" fill="#1f77b4"/><rect x="210.47" y="248.17" width="4.62" height="4.62" fill="#1f77b4"/><rect x="211.78" y="258.33" width="4.62" height="4.62" fill="#1f77b4"/><rect x="213.1" y="264" width="4.62" height="4.62" fill="#1f77b4"/><rect x="214.41" y="276.06" width="4.62" height="4.62" fill="#1f77b4"/><rect x="215.73" y="272.71" width="4.62" height="4.62" fill="#1f77b4"/><rect x="217.05" y="284.11" width="4.62" height="4.62" fill="#1f77b4"/><rect x="218.36" y="282.69" width="4.62" height="4.62" fill="#1f77b4"/><rect x="219.68" y="289.46" width="4.62" height="4.62" fill="#1f77b4"/><rect x="220.99" y="302.55" width="4.62" height="4.62" fill="#1f77b4"/><rect x="222.31" y="307.93" width="4.62" height="4.62" fill="#1f77b4"/><rect x="223.63" y="366.44" width="4.62" height="4.62" fill="#1f77b4"/><rect x="224.94" y="337.87" width="4.62" height="4.62" fill="#1f77b4"/><rect x="226.26" y="339.75" width="4.62" height="4.62" fill="#1f77b4"/><rect x="227.57" y="344.13" width="4.62" height="4.62" fill="#1f77b4"/><rect x="228.89" y="346.87" width="4.62" height="4.62" fill="#1f77b4"/><rect x="230.21" y="348.4" width="4.62" height="4.62" fill="#1f77b4"/><rect x="231.52" y="351.6" width="4.62" height="4.62" fill="#1f77b4"/><rect x="232.84" y="352.91" width="4.62" height="4.62" fill="#1f77b4"/><rect x="234.15" y="354.8" width="4.62" height="4.62" fill="#1f77b4"/><rect x="235.47" y="355.73" width="4.62" height="4.62" fill="#1f77b4"/><rect x="236.79" y="368.99" width="4.62" height="4.62" fill="#1f77b4"/><rect x="238.1" y="357.51" width="4.62" height="4.62" fill="#1f77b4"/><rect x="239.42" y="356.73" width="4.62" height="4.62" fill="#1f77b4"/><rect x="240.73" y="359.13" width="4.62" height="4.62" fill="#1f77b4"/><rect x="242.05" y="359.68" width="4.62" height="4.62" fill="#1f77b4"/><rect x="243.37" y="359.66" width="4.62" height="4.62" fill="#1f77b4"/><rect x="244.68" y="360.56" width="4.62" height="4.62" fill="#1f77b4"/><rect x="246" y="359.7" width="4.62" height="4.62" fill="#1f77b4"/><rect x="247.31" y="360.09" width="4.62" height="4.62" fill="#1f77b4"/><rect x="248.63" y="361.93" width="4.62" height="4.62" fill="#1f77b4"/><rect x="249.95" y="391.99" width="4.62" height="4.62" fill="#1f77b4"/><rect x="251.26" y="361.26" width="4.62" height="4.62" fill="#1f77b4"/><rect x="252.58" y="360.95" width="4.62" height="4.62" fill="#1f77b4"/><rect x="253.89" y="362.14" width="4.62" height="4.62" fill="#1f77b4"/><rect x="255.21" y="363.12" width="4.62" height="4.62" fill="#1f77b4"/><rect x="256.53" y="362.06" width="4.62" height="4.62" fill="#1f77b4"/><rect x="257.84" y="365.07" width="4.62" height="4.62" fill="#1f77b4"/><rect x="259.16" y="365.09" width="4.62" height="4.62" fill="#1f77b4"/><rect x="260.47" y="363.33" width="4.62" height="4.62" fill="#1f77b4"/><rect x="261.79" y="364.49" width="4.62" height="4.62" fill="#1f77b4"/><rect x="263.11" y="385" width="4.62" height="4.62" fill="#1f77b4"/><rect x="264.42" y="364.46" width="4.62" height="4.62" fill="#1f77b4"/><rect x="265.74" y="363.44" width="4.62" height="4.62" fill="#1f77b4"/><rect x="267.05" y="364.87" width="4.62" height="4.62" fill="#1f77b4"/><rect x="268.37" y="365.49" width="4.62" height="4.62" fill="#1f77b4"/><rect x="269.69" y="366.18" width="4.62" height="4.62" fill="#1f77b4"/><rect x="271" y="366.24" width="4.62" height="4.62" fill="#1f77b4"/><rect x="272.32" y="364.02" width="4.62" height="4.62" fill="#1f77b4"/><rect x="273.63" y="365.11" width="4.62" height="4.62" fill="#1f77b4"/><rect x="274.95" y="363.92" width="4.62" height="4.62" fill="#1f77b4"/><rect x="276.27" y="367.78" width="4.62" height="4.62" fill="#1f77b4"/><rect x="277.58" y="365.78" width="4.62" height="4.62" fill="#1f77b4"/><rect x="278.9" y="366.3" width="4.62" height="4.62" fill="#1f77b4"/><rect x="280.21" y="365.37" width="4.62" height="4.62" fill="#1f77b4"/><rect x="281.53" y="366.27" width="4.62" height="4.62" fill="#1f77b4"/><rect x="282.85" y="365.75" width="4.62" height="4.62" fill="#1f77b4"/><rect x="284.16" y="365.34" width="4.62" height="4.62" fill="#1f77b4"/><rect x="285.48" y="365.61" width="4.62" height="4.62" fill="#1f77b4"/><rect x="286.79" y="366.3" width="4.62" height="4.62" fill="#1f77b4"/><rect x="288.11" y="366.33" width="4.62" height="4.62" fill="#1f77b4"/><rect x="289.43" y="386.21" width="4.62" height="4.62" fill="#1f77b4"/><rect x="290.74" y="365.95" width="4.62" height="4.62" fill="#1f77b4"/><rect x="292.06" y="365.07" width="4.62" height="4.62" fill="#1f77b4"/><rect x="293.37" y="365.35" width="4.62" height="4.62" fill="#1f77b4"/><rect x="294.69" y="365.01" width="4.62" height="4.62" fill="#1f77b4"/><rect x="296.01" y="366.21" width="4.62" height="4.62" fill="#1f77b4"/><rect x="297.32" y="365.59" width="4.62" height="4.62" fill="#1f77b4"/><rect x="298.64" y="366.14" width="4.62" height="4.62" fill="#1f77b4"/><rect x="299.95" y="364.98" width="4.62" height="4.62" fill="#1f77b4"/><rect x="301.27" y="363.96" width="4.62" height="4.62" fill="#1f77b4"/><rect x="302.59" y="369.13" width="4.62" height="4.62" fill="#1f77b4"/><rect x="303.9" y="364.4" width="4.62" height="4.62" fill="#1f77b4"/><rect x="305.22" y="366.26" width="4.62" height="4.62" fill="#1f77b4"/><rect x="306.53" y="366.93" width="4.62" height="4.62" fill="#1f77b4"/><rect x="307.85" y="365.66" width="4.62" height="4.62" fill="#1f77b4"/><rect x="309.17" y="365.93" width="4.62" height="4.62" fill="#1f77b4"/><rect x="310.48" y="365.84" width="4.62" height="4.62" fill="#1f77b4"/><rect x="311.8" y="366.5" width="4.62" height="4.62" fill="#1f77b4"/><rect x="313.11" y="365.96" width="4.62" height="4.62" fill="#1f77b4"/><rect x="314.43" y="365.83" width="4.62" height="4.62" fill="#1f77b4"/><rect x="315.75" y="388.63" width="4.62" height="4.62" fill="#1f77b4"/><rect x="317.06" y="379.06" width="4.62" height="4.62" fill="#1f77b4"/><rect x="318.38" y="379.35" width="4.62" height="4.62" fill="#1f77b4"/><rect x="319.69" y="379.01" width="4.62" height="4.62" fill="#1f77b4"/><rect x="321.01" y="357.76" width="4.62" height="4.62" fill="#1f77b4"/><rect x="322.33" y="357.05" width="4.62" height="4.62" fill="#1f77b4"/><rect x="323.64" y="355.51" width="4.62" height="4.62" fill="#1f77b4"/><rect x="324.96" y="355.1" width="4.62" height="4.62" fill="#1f77b4"/><rect x="326.27" y="352.25" width="4.62" height="4.62" fill="#1f77b4"/><rect x="327.59" y="400.06" width="4.62" height="4.62" fill="#1f77b4"/><path d="M199.62 236.43L202.81 239.63L199.62 242.82L196.42 239.63Z" fill="#ff7f0e"/><path d="M200.93 -9.69L204.13 -6.5L200.93 -3.3L197.73 -6.5Z" fill="#ff7f0e"/><path d="M202.25 37.45L205.45 40.64L202.25 43.84L199.05 40.64Z" fill="#ff7f0e"/><path d="M203.56 63.95L206.76 67.15L203.56 70.35L200.37 67.15Z" fill="#ff7f0e"/><path d="M204.88 84.11L208.08 87.31L204.88 90.51L201.68 87.31Z" fill="#ff7f0e"/><path d="M206.2 104.39L209.39 107.59L206.2 110.79L203 107.59Z" fill="#ff7f0e"/><path d="M207.51 117.7L210.71 120.89L207.51 124.09L204.31 120.89Z" fill="#ff7f0e"/><path d="M208.83 133.22L212.03 136.42L208.83 139.61L205.63 136.42Z" fill="#ff7f0e"/><path d="M210.14 154.66L213.34 157.85L210.14 161.05L206.95 157.85Z" fill="#ff7f0e"/><path d="M211.46 164.49L214.66 167.68L211.46 170.88L208.26 167.68Z" fill="#ff7f0e"/><path d="M212.78 162.45L215.97 165.65L212.78 168.85L209.58 165.65Z" fill="#ff7f0e"/><path d="M214.09 191.65L217.29 194.85L214.09 198.05L210.89 194.85Z" fill="#ff7f0e"/><path d="M215.41 201.93L218.61 205.13L215.41 208.33L212.21 205.13Z" fill="#ff7f0e"/><path d="M216.72 214.76L219.92 217.96L216.72 221.16L213.53 217.96Z" fill="#ff7f0e"/><path d="M218.04 223.45L221.24 226.65L218.04 229.85L214.84 226.65Z" fill="#ff7f0e"/><path d="M219.36 236.27L222.55 239.47L219.36 242.66L216.16 239.47Z" fill="#ff7f0e"/><path d="M220.67 247.95L223.87 251.15L220.67 254.35L217.47 251.15Z" fill="#ff7f0e"/><path d="M221.99 252L225.19 255.2L221.99 258.4L218.79 255.2Z" fill="#ff7f0e"/><path d="M223.3 258.92L226.5 262.12L223.3 265.32L220.11 262.12Z" fill="#ff7f0e"/><path d="M224.62 269.15L227.82 272.35L224.62 275.55L221.42 272.35Z" fill="#ff7f0e"/><path d="M225.94 358.82L229.13 362.02L225.94 365.22L222.74 362.02Z" fill="#ff7f0e"/><path d="M227.25 319.12L230.45 322.32L227.25 325.52L224.05 322.32Z" fill="#ff7f0e"/><path d="M228.57 322.46L231.77 325.66L228.57 328.85L225.37 325.66Z" fill="#ff7f0e"/><path d="M229.88 323.32L233.08 326.51L229.88 329.71L226.69 326.51Z" fill="#ff7f0e"/><path d="M231.2 327.45L234.4 330.65L231.2 333.85L228 330.65Z" fill="#ff7f0e"/><path d="M232.52 328.86L235.71 332.06L232.52 335.26L229.32 332.06Z" fill="#ff7f0e"/><path d="M233.83 329.7L237.03 332.9L233.83 336.1L230.63 332.9Z" fill="#ff7f0e"/><path d="M235.15 332.63L238.35 335.82L235.15 339.02L231.95 335.82Z" fill="#ff7f0e"/><path d="M236.46 331.73L239.66 334.93L236.46 338.12L233.27 334.93Z" fill="#ff7f0e"/><path d="M237.78 334.87L240.98 338.07L237.78 341.26L234.58 338.07Z" fill="#ff7f0e"/><path d="M239.1 336.82L242.29 340.02L239.1 343.22L235.9 340.02Z" fill="#ff7f0e"/><path d="M240.41 339.34L243.61 342.54L240.41 345.74L237.21 342.54Z" fill="#ff7f0e"/><path d="M241.73 340.96L244.93 344.16L241.73 347.36L238.53 344.16Z" fill="#ff7f0e"/><path d="M243.04 343.06L246.24 346.26L243.04 349.46L239.85 346.26Z" fill="#ff7f0e"/><path d="M244.36 343.1L247.56 346.3L244.36 349.5L241.16 346.3Z" fill="#ff7f0e"/><path d="M245.68 346.14L248.87 349.34L245.68 352.54L242.48 349.34Z" fill="#ff7f0e"/><path d="M246.99 346.31L250.19 349.51L246.99 352.71L243.79 349.51Z" fill="#ff7f0e"/><path d="M248.31 346.79L251.51 349.98L248.31 353.18L245.11 349.98Z" fill="#ff7f0e"/><path d="M249.62 348.3L252.82 351.5L249.62 354.7L246.43 351.5Z" fill="#ff7f0e"/><path d="M250.94 350.17L254.14 353.37L250.94 356.56L247.74 353.37Z" fill="#ff7f0e"/><path d="M252.26 387.74L255.45 390.94L252.26 394.14L249.06 390.94Z" fill="#ff7f0e"/><path d="M253.57 352.98L256.77 356.17L253.57 359.37L250.37 356.17Z" fill="#ff7f0e"/><path d="M254.89 352.94L258.09 356.14L254.89 359.34L251.69 356.14Z" fill="#ff7f0e"/><path d="M256.2 353.1L259.4 356.29L256.2 359.49L253.01 356.29Z" fill="#ff7f0e"/><path d="M257.52 352.66L260.72 355.86L257.52 359.06L254.32 355.86Z" fill="#ff7f0e"/><path d="M258.84 353.65L262.03 356.85L258.84 360.05L255.64 356.85Z" fill="#ff7f0e"/><path d="M260.15 354.87L263.35 358.06L260.15 361.26L256.95 358.06Z" fill="#ff7f0e"/><path d="M261.47 353.86L264.67 357.06L261.47 360.26L258.27 357.06Z" fill="#ff7f0e"/><path d="M262.78 355.27L265.98 358.47L262.78 361.67L259.59 358.47Z" fill="#ff7f0e"/><path d="M264.1 354.32L267.3 357.52L264.1 360.72L260.9 357.52Z" fill="#ff7f0e"/><path d="M265.42 364.2L268.61 367.4L265.42 370.6L262.22 367.4Z" fill="#ff7f0e"/><path d="M266.73 354.24L269.93 357.44L266.73 360.64L263.53 357.44Z" fill="#ff7f0e"/><path d="M268.05 354.42L271.25 357.62L268.05 360.82L264.85 357.62Z" fill="#ff7f0e"/><path d="M269.36 353.8L272.56 357L269.36 360.2L266.17 357Z" fill="#ff7f0e"/><path d="M270.68 353.93L273.88 357.13L270.68 360.33L267.48 357.13Z" fill="#ff7f0e"/><path d="M272 354.38L275.19 357.58L272 360.78L268.8 357.58Z" fill="#ff7f0e"/><path d="M273.31 354.06L276.51 357.26L273.31 360.46L270.11 357.26Z" fill="#ff7f0e"/><path d="M274.63 354.27L277.83 357.47L274.63 360.67L271.43 357.47Z" fill="#ff7f0e"/><path d="M275.94 354.55L279.14 357.75L275.94 360.94L272.75 357.75Z" fill="#ff7f0e"/><path d="M277.26 355.41L280.46 358.61L277.26 361.81L274.06 358.61Z" fill="#ff7f0e"/><path d="M278.58 393.79L281.77 396.99L278.58 400.19L275.38 396.99Z" fill="#ff7f0e"/><path d="M279.89 353.8L283.09 357L279.89 360.2L276.69 357Z" fill="#ff7f0e"/><path d="M281.21 355.15L284.41 358.34L281.21 361.54L278.01 358.34Z" fill="#ff7f0e"/><path d="M282.52 353.5L285.72 356.69L282.52 359.89L279.33 356.69Z" fill="#ff7f0e"/><path d="M283.84 354.36L287.04 357.55L283.84 360.75L280.64 357.55Z" fill="#ff7f0e"/><path d="M285.16 354.61L288.35 357.81L285.16 361.01L281.96 357.81Z" fill="#ff7f0e"/><path d="M286.47 355.39L289.67 358.58L286.47 361.78L283.27 358.58Z" fill="#ff7f0e"/><path d="M287.79 354.49L290.99 357.68L287.79 360.88L284.59 357.68Z" fill="#ff7f0e"/><path d="M289.1 354.87L292.3 358.07L289.1 361.27L285.91 358.07Z" fill="#ff7f0e"/><path d="M290.42 353.79L293.62 356.98L290.42 360.18L287.22 356.98Z" fill="#ff7f0e"/><path d="M291.74 363.53L294.93 366.73L291.74 369.93L288.54 366.73Z" fill="#ff7f0e"/><path d="M293.05 352.83L296.25 356.03L293.05 359.22L289.85 356.03Z" fill="#ff7f0e"/><path d="M294.37 353.26L297.57 356.46L294.37 359.66L291.17 356.46Z" fill="#ff7f0e"/><path d="M295.68 353.55L298.88 356.75L295.68 359.95L292.49 356.75Z" fill="#ff7f0e"/><path d="M297 353.95L300.2 357.15L297 360.34L293.8 357.15Z" fill="#ff7f0e"/><path d="M298.32 352.5L301.51 355.7L298.32 358.89L295.12 355.7Z" fill="#ff7f0e"/><path d="M299.63 352.59L302.83 355.79L299.63 358.98L296.43 355.79Z" fill="#ff7f0e"/><path d="M300.95 352.04L304.15 355.24L300.95 358.43L297.75 355.24Z" fill="#ff7f0e"/><path d="M302.26 352.57L305.46 355.77L302.26 358.97L299.07 355.77Z" fill="#ff7f0e"/><path d="M303.58 351.26L306.78 354.46L303.58 357.66L300.38 354.46Z" fill="#ff7f0e"/><path d="M304.9 395.14L308.09 398.34L304.9 401.53L301.7 398.34Z" fill="#ff7f0e"/><path d="M306.21 352.25L309.41 355.44L306.21 358.64L303.01 355.44Z" fill="#ff7f0e"/><path d="M307.53 352.19L310.73 355.39L307.53 358.59L304.33 355.39Z" fill="#ff7f0e"/><path d="M308.84 351.3L312.04 354.49L308.84 357.69L305.65 354.49Z" fill="#ff7f0e"/><path d="M310.16 350.57L313.36 353.77L310.16 356.97L306.96 353.77Z" fill="#ff7f0e"/><path d="M311.48 352.01L314.67 355.2L311.48 358.4L308.28 355.2Z" fill="#ff7f0e"/><path d="M312.79 350.87L315.99 354.07L312.79 357.27L309.59 354.07Z" fill="#ff7f0e"/><path d="M314.11 350.45L317.31 353.65L314.11 356.84L310.91 353.65Z" fill="#ff7f0e"/><path d="M315.42 351.48L318.62 354.68L315.42 357.88L312.23 354.68Z" fill="#ff7f0e"/><path d="M316.74 351.69L319.94 354.89L316.74 358.09L313.54 354.89Z" fill="#ff7f0e"/><path d="M318.06 360.3L321.25 363.5L318.06 366.7L314.86 363.5Z" fill="#ff7f0e"/><path d="M319.37 349.66L322.57 352.86L319.37 356.06L316.17 352.86Z" fill="#ff7f0e"/><path d="M320.69 349.37L323.89 352.57L320.69 355.77L317.49 352.57Z" fill="#ff7f0e"/><path d="M322 349.51L325.2 352.71L322 355.9L318.81 352.71Z" fill="#ff7f0e"/><path d="M323.32 349.99L326.52 353.19L323.32 356.39L320.12 353.19Z" fill="#ff7f0e"/><path d="M324.64 349.78L327.83 352.98L324.64 356.18L321.44 352.98Z" fill="#ff7f0e"/><path d="M325.95 349.37L329.15 352.57L325.95 355.77L322.75 352.57Z" fill="#ff7f0e"/><path d="M327.27 348.37L330.47 351.57L327.27 354.77L324.07 351.57Z" fill="#ff7f0e"/><path d="M328.58 349.48L331.78 352.68L328.58 355.88L325.39 352.68Z" fill="#ff7f0e"/><path d="M329.9 392.45L333.1 395.65L329.9 398.84L326.7 395.65Z" fill="#ff7f0e"/><path d="M199.62 387.53L202.5 392.59L196.73 392.59Z" fill="#2ca02c"/><path d="M200.93 315.87L203.82 320.94L198.04 320.94Z" fill="#2ca02c"/><path d="M202.25 334.86L205.14 339.93L199.36 339.93Z" fill="#2ca02c"/><path d="M203.56 348.26L206.45 353.32L200.68 353.32Z" fill="#2ca02c"/><path d="M204.88 356.33L207.77 361.39L201.99 361.39Z" fill="#2ca02c"/><path d="M206.2 361.3L209.08 366.36L203.31 366.36Z" fill="#2ca02c"/><path d="M207.51 365.32L210.4 370.38L204.62 370.38Z" fill="#2ca02c"/><path d="M208.83 367.3L211.72 372.36L205.94 372.36Z" fill="#2ca02c"/><path d="M210.14 370.05L213.03 375.11L207.26 375.11Z" fill="#2ca02c"/><path d="M211.46 372.1L214.35 377.16L208.57 377.16Z" fill="#2ca02c"/><path d="M212.78 372.81L215.66 377.88L209.89 377.88Z" fill="#2ca02c"/><path d="M214.09 373.6L216.98 378.66L211.2 378.66Z" fill="#2ca02c"/><path d="M215.41 373.08L218.3 378.15L212.52 378.15Z" fill="#2ca02c"/><path d="M216.72 372.68L219.61 377.74L213.84 377.74Z" fill="#2ca02c"/><path d="M218.04 372.27L220.93 377.33L215.15 377.33Z" fill="#2ca02c"/><path d="M219.36 371.9L222.24 376.96L216.47 376.96Z" fill="#2ca02c"/><path d="M220.67 370.58L223.56 375.64L217.78 375.64Z" fill="#2ca02c"/><path d="M221.99 369.94L224.88 375L219.1 375Z" fill="#2ca02c"/><path d="M223.3 368.56L226.19 373.62L220.42 373.62Z" fill="#2ca02c"/><path d="M224.62 368.2L227.51 373.27L221.73 373.27Z" fill="#2ca02c"/><path d="M225.94 387.53L228.82 392.59L223.05 392.59Z" fill="#2ca02c"/><path d="M227.25 366.7L230.14 371.76L224.36 371.76Z" fill="#2ca02c"/><path d="M228.57 366.7L231.46 371.76L225.68 371.76Z" fill="#2ca02c"/><path d="M229.88 365.68L232.77 370.74L227 370.74Z" fill="#2ca02c"/><path d="M231.2 364.58L234.09 369.64L228.31 369.64Z" fill="#2ca02c"/><path d="M232.52 362.8L235.4 367.87L229.63 367.87Z" fill="#2ca02c"/><path d="M233.83 361.89L236.72 366.96L230.94 366.96Z" fill="#2ca02c"/><path d="M235.15 360.24L238.04 365.3L232.26 365.3Z" fill="#2ca02c"/><path d="M236.46 359.44L239.35 364.5L233.58 364.5Z" fill="#2ca02c"/><path d="M237.78 357.99L240.67 363.05L234.89 363.05Z" fill="#2ca02c"/><path d="M239.1 375.83L241.98 380.89L236.21 380.89Z" fill="#2ca02c"/><path d="M240.41 358.11L243.3 363.17L237.52 363.17Z" fill="#2ca02c"/><path d="M241.73 357.6L244.62 362.66L238.84 362.66Z" fill="#2ca02c"/><path d="M243.04 356.8L245.93 361.86L240.16 361.86Z" fill="#2ca02c"/><path d="M244.36 355.7L247.25 360.76L241.47 360.76Z" fill="#2ca02c"/><path d="M245.68 354.33L248.56 359.39L242.79 359.39Z" fill="#2ca02c"/><path d="M246.99 352.55L249.88 357.62L244.1 357.62Z" fill="#2ca02c"/><path d="M248.31 350.26L251.2 355.32L245.42 355.32Z" fill="#2ca02c"/><path d="M249.62 349.26L252.51 354.32L246.74 354.32Z" fill="#2ca02c"/><path d="M250.94 348.28L253.83 353.34L248.05 353.34Z" fill="#2ca02c"/><path d="M252.26 380L255.14 385.06L249.37 385.06Z" fill="#2ca02c"/><path d="M253.57 348.1L256.46 353.16L250.68 353.16Z" fill="#2ca02c"/><path d="M254.89 347.61L257.78 352.67L252 352.67Z" fill="#2ca02c"/><path d="M256.2 345.86L259.09 350.92L253.32 350.92Z" fill="#2ca02c"/><path d="M257.52 344.01L260.41 349.07L254.63 349.07Z" fill="#2ca02c"/><path d="M258.84 341.92L261.72 346.99L255.95 346.99Z" fill="#2ca02c"/><path d="M260.15 340.01L263.04 345.07L257.26 345.07Z" fill="#2ca02c"/><path d="M261.47 338.77L264.36 343.83L258.58 343.83Z" fill="#2ca02c"/><path d="M262.78 338.21L265.67 343.27L259.9 343.27Z" fill="#2ca02c"/><path d="M264.1 337.72L266.99 342.78L261.21 342.78Z" fill="#2ca02c"/><path d="M265.42 336.04L268.3 341.1L262.53 341.1Z" fill="#2ca02c"/><path d="M266.73 338.08L269.62 343.14L263.84 343.14Z" fill="#2ca02c"/><path d="M268.05 336.77L270.94 341.83L265.16 341.83Z" fill="#2ca02c"/><path d="M269.36 335.84L272.25 340.9L266.48 340.9Z" fill="#2ca02c"/><path d="M270.68 333.48L273.57 338.54L267.79 338.54Z" fill="#2ca02c"/><path d="M272 331.65L274.88 336.71L269.11 336.71Z" fill="#2ca02c"/><path d="M273.31 330.37L276.2 335.44L270.42 335.44Z" fill="#2ca02c"/><path d="M274.63 330.49L277.52 335.55L271.74 335.55Z" fill="#2ca02c"/><path d="M275.94 328.89L278.83 333.95L273.06 333.95Z" fill="#2ca02c"/><path d="M277.26 328.57L280.15 333.63L274.37 333.63Z" fill="#2ca02c"/><path d="M278.58 367.62L281.46 372.68L275.69 372.68Z" fill="#2ca02c"/><path d="M279.89 329.61L282.78 334.67L277 334.67Z" fill="#2ca02c"/><path d="M281.21 327.92L284.1 332.98L278.32 332.98Z" fill="#2ca02c"/><path d="M282.52 327.25L285.41 332.31L279.64 332.31Z" fill="#2ca02c"/><path d="M283.84 327.44L286.73 332.5L280.95 332.5Z" fill="#2ca02c"/><path d="M285.16 326.19L288.04 331.25L282.27 331.25Z" fill="#2ca02c"/><path d="M286.47 324.29L289.36 329.35L283.58 329.35Z" fill="#2ca02c"/><path d="M287.79 324.09L290.68 329.15L284.9 329.15Z" fill="#2ca02c"/><path d="M289.1 323.19L291.99 328.26L286.22 328.26Z" fill="#2ca02c"/><path d="M290.42 322.25L293.31 327.31L287.53 327.31Z" fill="#2ca02c"/><path d="M291.74 349.33L294.62 354.39L288.85 354.39Z" fill="#2ca02c"/><path d="M293.05 322.87L295.94 327.93L290.16 327.93Z" fill="#2ca02c"/><path d="M294.37 322.59L297.26 327.65L291.48 327.65Z" fill="#2ca02c"/><path d="M295.68 320.95L298.57 326.01L292.8 326.01Z" fill="#2ca02c"/><path d="M297 320.62L299.89 325.68L294.11 325.68Z" fill="#2ca02c"/><path d="M298.32 320.41L301.2 325.47L295.43 325.47Z" fill="#2ca02c"/><path d="M299.63 318.26L302.52 323.32L296.74 323.32Z" fill="#2ca02c"/><path d="M300.95 317.9L303.84 322.96L298.06 322.96Z" fill="#2ca02c"/><path d="M302.26 317.49L305.15 322.55L299.38 322.55Z" fill="#2ca02c"/><path d="M303.58 314.99L306.47 320.06L300.69 320.06Z" fill="#2ca02c"/><path d="M304.9 356.59L307.78 361.66L302.01 361.66Z" fill="#2ca02c"/><path d="M306.21 316.93L309.1 321.99L303.32 321.99Z" fill="#2ca02c"/><path d="M307.53 316.08L310.42 321.14L304.64 321.14Z" fill="#2ca02c"/><path d="M308.84 314.43L311.73 319.49L305.96 319.49Z" fill="#2ca02c"/><path d="M310.16 314.22L313.05 319.28L307.27 319.28Z" fill="#2ca02c"/><path d="M311.48 313.5L314.36 318.57L308.59 318.57Z" fill="#2ca02c"/><path d="M312.79 312.4L315.68 317.47L309.9 317.47Z" fill="#2ca02c"/><path d="M314.11 311.53L317 316.59L311.22 316.59Z" fill="#2ca02c"/><path d="M315.42 309.94L318.31 315L312.54 315Z" fill="#2ca02c"/><path d="M316.74 309.27L319.63 314.33L313.85 314.33Z" fill="#2ca02c"/><path d="M318.06 342.07L320.94 347.13L315.17 347.13Z" fill="#2ca02c"/><path d="M319.37 310.74L322.26 315.8L316.48 315.8Z" fill="#2ca02c"/><path d="M320.69 309.56L323.58 314.63L317.8 314.63Z" fill="#2ca02c"/><path d="M322 309.02L324.89 314.08L319.12 314.08Z" fill="#2ca02c"/><path d="M323.32 307.12L326.21 312.18L320.43 312.18Z" fill="#2ca02c"/><path d="M324.64 306.64L327.52 311.7L321.75 311.7Z" fill="#2ca02c"/><path d="M325.95 305.91L328.84 310.97L323.06 310.97Z" fill="#2ca02c"/><path d="M327.27 305.57L330.16 310.63L324.38 310.63Z" fill="#2ca02c"/><path d="M328.58 305.21L331.47 310.27L325.7 310.27Z" fill="#2ca02c"/><path d="M329.9 349.33L332.79 354.39L327.01 354.39Z" fill="#2ca02c"/><path d="M199.62 376.65L200.32 378.53L202.33 378.62L200.76 379.88L201.29 381.82L199.62 380.7L197.94 381.82L198.48 379.88L196.9 378.62L198.91 378.53Z" fill="#9467bd"/><path d="M200.93 387.67L201.64 389.56L203.65 389.64L202.07 390.9L202.61 392.84L200.93 391.73L199.25 392.84L199.79 390.9L198.22 389.64L200.23 389.56Z" fill="#9467bd"/><path d="M202.25 387.95L202.95 389.83L204.96 389.92L203.39 391.17L203.93 393.11L202.25 392L200.57 393.11L201.11 391.17L199.53 389.92L201.54 389.83Z" fill="#9467bd"/><path d="M203.56 389.76L204.27 391.64L206.28 391.73L204.7 392.98L205.24 394.92L203.56 393.81L201.89 394.92L202.42 392.98L200.85 391.73L202.86 391.64Z" fill="#9467bd"/><path d="M204.88 390.73L205.59 392.62L207.6 392.7L206.02 393.96L206.56 395.9L204.88 394.79L203.2 395.9L203.74 393.96L202.16 392.7L204.17 392.62Z" fill="#9467bd"/><path d="M206.2 390.45L206.9 392.33L208.91 392.42L207.34 393.67L207.87 395.61L206.2 394.5L204.52 395.61L205.06 393.67L203.48 392.42L205.49 392.33Z" fill="#9467bd"/><path d="M207.51 389.68L208.22 391.56L210.23 391.65L208.65 392.91L209.19 394.85L207.51 393.73L205.83 394.85L206.37 392.91L204.8 391.65L206.81 391.56Z" fill="#9467bd"/><path d="M208.83 389.46L209.53 391.34L211.54 391.43L209.97 392.68L210.51 394.62L208.83 393.51L207.15 394.62L207.69 392.68L206.11 391.43L208.12 391.34Z" fill="#9467bd"/><path d="M210.14 389.85L210.85 391.74L212.86 391.83L211.28 393.08L211.82 395.02L210.14 393.91L208.47 395.02L209 393.08L207.43 391.83L209.44 391.74Z" fill="#9467bd"/><path d="M211.46 388.72L212.17 390.61L214.18 390.7L212.6 391.95L213.14 393.89L211.46 392.78L209.78 393.89L210.32 391.95L208.74 390.7L210.75 390.61Z" fill="#9467bd"/><path d="M212.78 387.06L213.48 388.94L215.49 389.03L213.92 390.28L214.45 392.22L212.78 391.11L211.1 392.22L211.64 390.28L210.06 389.03L212.07 388.94Z" fill="#9467bd"/><path d="M214.09 385.87L214.8 387.75L216.81 387.84L215.23 389.09L215.77 391.03L214.09 389.92L212.41 391.03L212.95 389.09L211.38 387.84L213.39 387.75Z" fill="#9467bd"/><path d="M215.41 384.93L216.11 386.82L218.12 386.91L216.55 388.16L217.09 390.1L215.41 388.99L213.73 390.1L214.27 388.16L212.69 386.91L214.7 386.82Z" fill="#9467bd"/><path d="M216.72 384.01L217.43 385.89L219.44 385.98L217.86 387.23L218.4 389.17L216.72 388.06L215.05 389.17L215.58 387.23L214.01 385.98L216.02 385.89Z" fill="#9467bd"/><path d="M218.04 384.03L218.75 385.92L220.76 386L219.18 387.26L219.72 389.2L218.04 388.09L216.36 389.2L216.9 387.26L215.32 386L217.33 385.92Z" fill="#9467bd"/><path d="M219.36 382.59L220.06 384.47L222.07 384.56L220.5 385.81L221.03 387.75L219.36 386.64L217.68 387.75L218.22 385.81L216.64 384.56L218.65 384.47Z" fill="#9467bd"/><path d="M220.67 380.59L221.38 382.48L223.39 382.57L221.81 383.82L222.35 385.76L220.67 384.65L218.99 385.76L219.53 383.82L217.96 382.57L219.97 382.48Z" fill="#9467bd"/><path d="M221.99 378.9L222.69 380.79L224.7 380.88L223.13 382.13L223.67 384.07L221.99 382.96L220.31 384.07L220.85 382.13L219.27 380.88L221.28 380.79Z" fill="#9467bd"/><path d="M223.3 378.24L224.01 380.12L226.02 380.21L224.44 381.46L224.98 383.4L223.3 382.29L221.63 383.4L222.16 381.46L220.59 380.21L222.6 380.12Z" fill="#9467bd"/><path d="M224.62 376.68L225.33 378.57L227.34 378.66L225.76 379.91L226.3 381.85L224.62 380.74L222.94 381.85L223.48 379.91L221.9 378.66L223.91 378.57Z" fill="#9467bd"/><path d="M225.94 376.12L226.64 378L228.65 378.09L227.08 379.34L227.61 381.28L225.94 380.17L224.26 381.28L224.8 379.34L223.22 378.09L225.23 378Z" fill="#9467bd"/><path d="M227.25 374.9L227.96 376.78L229.97 376.87L228.39 378.12L228.93 380.06L227.25 378.95L225.57 380.06L226.11 378.12L224.54 376.87L226.55 376.78Z" fill="#9467bd"/><path d="M228.57 375L229.27 376.88L231.28 376.97L229.71 378.22L230.25 380.16L228.57 379.05L226.89 380.16L227.43 378.22L225.85 376.97L227.86 376.88Z" fill="#9467bd"/><path d="M229.88 373.25L230.59 375.13L232.6 375.22L231.02 376.47L231.56 378.41L229.88 377.3L228.21 378.41L228.74 376.47L227.17 375.22L229.18 375.13Z" fill="#9467bd"/><path d="M231.2 371.93L231.91 373.82L233.92 373.91L232.34 375.16L232.88 377.1L231.2 375.99L229.52 377.1L230.06 375.16L228.48 373.91L230.49 373.82Z" fill="#9467bd"/><path d="M232.52 371.3L233.22 373.19L235.23 373.27L233.66 374.53L234.19 376.47L232.52 375.36L230.84 376.47L231.38 374.53L229.8 373.27L231.81 373.19Z" fill="#9467bd"/><path d="M233.83 371.23L234.54 373.12L236.55 373.21L234.97 374.46L235.51 376.4L233.83 375.29L232.15 376.4L232.69 374.46L231.12 373.21L233.13 373.12Z" fill="#9467bd"/><path d="M235.15 370.54L235.85 372.42L237.86 372.51L236.29 373.76L236.83 375.7L235.15 374.59L233.47 375.7L234.01 373.76L232.43 372.51L234.44 372.42Z" fill="#9467bd"/><path d="M236.46 370.02L237.17 371.9L239.18 371.99L237.6 373.24L238.14 375.18L236.46 374.07L234.79 375.18L235.32 373.24L233.75 371.99L235.76 371.9Z" fill="#9467bd"/><path d="M237.78 369.53L238.49 371.42L240.5 371.5L238.92 372.76L239.46 374.7L237.78 373.59L236.1 374.7L236.64 372.76L235.06 371.5L237.07 371.42Z" fill="#9467bd"/><path d="M239.1 368.64L239.8 370.53L241.81 370.62L240.24 371.87L240.77 373.81L239.1 372.7L237.42 373.81L237.96 371.87L236.38 370.62L238.39 370.53Z" fill="#9467bd"/><path d="M240.41 367.21L241.12 369.1L243.13 369.19L241.55 370.44L242.09 372.38L240.41 371.27L238.73 372.38L239.27 370.44L237.7 369.19L239.71 369.1Z" fill="#9467bd"/><path d="M241.73 367.09L242.43 368.98L244.44 369.07L242.87 370.32L243.41 372.26L241.73 371.15L240.05 372.26L240.59 370.32L239.01 369.07L241.02 368.98Z" fill="#9467bd"/><path d="M243.04 365.81L243.75 367.7L245.76 367.78L244.18 369.04L244.72 370.98L243.04 369.87L241.37 370.98L241.9 369.04L240.33 367.78L242.34 367.7Z" fill="#9467bd"/><path d="M244.36 365.44L245.07 367.32L247.08 367.41L245.5 368.66L246.04 370.6L244.36 369.49L242.68 370.6L243.22 368.66L241.64 367.41L243.65 367.32Z" fill="#9467bd"/><path d="M245.68 364.93L246.38 366.81L248.39 366.9L246.82 368.15L247.35 370.09L245.68 368.98L244 370.09L244.54 368.15L242.96 366.9L244.97 366.81Z" fill="#9467bd"/><path d="M246.99 364.54L247.7 366.42L249.71 366.51L248.13 367.77L248.67 369.71L246.99 368.59L245.31 369.71L245.85 367.77L244.28 366.51L246.29 366.42Z" fill="#9467bd"/><path d="M248.31 364.08L249.01 365.96L251.02 366.05L249.45 367.3L249.99 369.24L248.31 368.13L246.63 369.24L247.17 367.3L245.59 366.05L247.6 365.96Z" fill="#9467bd"/><path d="M249.62 363.21L250.33 365.1L252.34 365.18L250.76 366.44L251.3 368.38L249.62 367.27L247.95 368.38L248.48 366.44L246.91 365.18L248.92 365.1Z" fill="#9467bd"/><path d="M250.94 362.58L251.65 364.47L253.66 364.56L252.08 365.81L252.62 367.75L250.94 366.64L249.26 367.75L249.8 365.81L248.22 364.56L250.23 364.47Z" fill="#9467bd"/><path d="M252.26 362.69L252.96 364.58L254.97 364.67L253.4 365.92L253.93 367.86L252.26 366.75L250.58 367.86L251.12 365.92L249.54 364.67L251.55 364.58Z" fill="#9467bd"/><path d="M253.57 361.9L254.28 363.79L256.29 363.87L254.71 365.13L255.25 367.07L253.57 365.96L251.89 367.07L252.43 365.13L250.86 363.87L252.87 363.79Z" fill="#9467bd"/><path d="M254.89 362.72L255.59 364.61L257.6 364.7L256.03 365.95L256.57 367.89L254.89 366.78L253.21 367.89L253.75 365.95L252.17 364.7L254.18 364.61Z" fill="#9467bd"/><path d="M256.2 362.39L256.91 364.27L258.92 364.36L257.34 365.61L257.88 367.55L256.2 366.44L254.53 367.55L255.06 365.61L253.49 364.36L255.5 364.27Z" fill="#9467bd"/><path d="M257.52 362.19L258.23 364.08L260.24 364.17L258.66 365.42L259.2 367.36L257.52 366.25L255.84 367.36L256.38 365.42L254.8 364.17L256.81 364.08Z" fill="#9467bd"/><path d="M258.84 361.76L259.54 363.64L261.55 363.73L259.98 364.98L260.51 366.92L258.84 365.81L257.16 366.92L257.7 364.98L256.12 363.73L258.13 363.64Z" fill="#9467bd"/><path d="M260.15 361.28L260.86 363.17L262.87 363.26L261.29 364.51L261.83 366.45L260.15 365.34L258.47 366.45L259.01 364.51L257.44 363.26L259.45 363.17Z" fill="#9467bd"/><path d="M261.47 360.92L262.17 362.81L264.18 362.9L262.61 364.15L263.15 366.09L261.47 364.98L259.79 366.09L260.33 364.15L258.75 362.9L260.76 362.81Z" fill="#9467bd"/><path d="M262.78 360.38L263.49 362.26L265.5 362.35L263.92 363.6L264.46 365.54L262.78 364.43L261.11 365.54L261.64 363.6L260.07 362.35L262.08 362.26Z" fill="#9467bd"/><path d="M264.1 360.05L264.81 361.93L266.82 362.02L265.24 363.27L265.78 365.21L264.1 364.1L262.42 365.21L262.96 363.27L261.38 362.02L263.39 361.93Z" fill="#9467bd"/><path d="M265.42 360.38L266.12 362.26L268.13 362.35L266.56 363.6L267.09 365.54L265.42 364.43L263.74 365.54L264.28 363.6L262.7 362.35L264.71 362.26Z" fill="#9467bd"/><path d="M266.73 359.39L267.44 361.28L269.45 361.36L267.87 362.62L268.41 364.56L266.73 363.45L265.05 364.56L265.59 362.62L264.02 361.36L266.03 361.28Z" fill="#9467bd"/><path d="M268.05 358.64L268.75 360.53L270.76 360.62L269.19 361.87L269.73 363.81L268.05 362.7L266.37 363.81L266.91 361.87L265.33 360.62L267.34 360.53Z" fill="#9467bd"/><path d="M269.36 358.31L270.07 360.2L272.08 360.29L270.5 361.54L271.04 363.48L269.36 362.37L267.69 363.48L268.22 361.54L266.65 360.29L268.66 360.2Z" fill="#9467bd"/><path d="M270.68 358.1L271.39 359.99L273.4 360.08L271.82 361.33L272.36 363.27L270.68 362.16L269 363.27L269.54 361.33L267.96 360.08L269.97 359.99Z" fill="#9467bd"/><path d="M272 356.9L272.7 358.79L274.71 358.87L273.14 360.13L273.67 362.07L272 360.96L270.32 362.07L270.86 360.13L269.28 358.87L271.29 358.79Z" fill="#9467bd"/><path d="M273.31 356.64L274.02 358.53L276.03 358.62L274.45 359.87L274.99 361.81L273.31 360.7L271.63 361.81L272.17 359.87L270.6 358.62L272.61 358.53Z" fill="#9467bd"/><path d="M274.63 355.97L275.33 357.85L277.34 357.94L275.77 359.19L276.31 361.13L274.63 360.02L272.95 361.13L273.49 359.19L271.91 357.94L273.92 357.85Z" fill="#9467bd"/><path d="M275.94 355.96L276.65 357.85L278.66 357.94L277.08 359.19L277.62 361.13L275.94 360.02L274.27 361.13L274.8 359.19L273.23 357.94L275.24 357.85Z" fill="#9467bd"/><path d="M277.26 355.08L277.97 356.96L279.98 357.05L278.4 358.3L278.94 360.24L277.26 359.13L275.58 360.24L276.12 358.3L274.54 357.05L276.55 356.96Z" fill="#9467bd"/><path d="M278.58 354.84L279.28 356.73L281.29 356.81L279.72 358.07L280.25 360.01L278.58 358.9L276.9 360.01L277.44 358.07L275.86 356.81L277.87 356.73Z" fill="#9467bd"/><path d="M279.89 355.76L280.6 357.64L282.61 357.73L281.03 358.98L281.57 360.92L279.89 359.81L278.21 360.92L278.75 358.98L277.18 357.73L279.19 357.64Z" fill="#9467bd"/><path d="M281.21 354.57L281.91 356.46L283.92 356.55L282.35 357.8L282.89 359.74L281.21 358.63L279.53 359.74L280.07 357.8L278.49 356.55L280.5 356.46Z" fill="#9467bd"/><path d="M282.52 354.37L283.23 356.25L285.24 356.34L283.66 357.59L284.2 359.53L282.52 358.42L280.85 359.53L281.38 357.59L279.81 356.34L281.82 356.25Z" fill="#9467bd"/><path d="M283.84 354.68L284.55 356.56L286.56 356.65L284.98 357.91L285.52 359.85L283.84 358.73L282.16 359.85L282.7 357.91L281.12 356.65L283.13 356.56Z" fill="#9467bd"/><path d="M285.16 354.66L285.86 356.55L287.87 356.63L286.3 357.89L286.83 359.83L285.16 358.72L283.48 359.83L284.02 357.89L282.44 356.63L284.45 356.55Z" fill="#9467bd"/><path d="M286.47 353.92L287.18 355.8L289.19 355.89L287.61 357.14L288.15 359.08L286.47 357.97L284.79 359.08L285.33 357.14L283.76 355.89L285.77 355.8Z" fill="#9467bd"/><path d="M287.79 353.82L288.49 355.71L290.5 355.8L288.93 357.05L289.47 358.99L287.79 357.88L286.11 358.99L286.65 357.05L285.07 355.8L287.08 355.71Z" fill="#9467bd"/><path d="M289.1 353.05L289.81 354.94L291.82 355.02L290.24 356.28L290.78 358.22L289.1 357.11L287.43 358.22L287.96 356.28L286.39 355.02L288.4 354.94Z" fill="#9467bd"/><path d="M290.42 352.55L291.13 354.43L293.14 354.52L291.56 355.78L292.1 357.72L290.42 356.6L288.74 357.72L289.28 355.78L287.7 354.52L289.71 354.43Z" fill="#9467bd"/><path d="M291.74 353L292.44 354.89L294.45 354.97L292.88 356.23L293.41 358.17L291.74 357.06L290.06 358.17L290.6 356.23L289.02 354.97L291.03 354.89Z" fill="#9467bd"/><path d="M293.05 352.86L293.76 354.74L295.77 354.83L294.19 356.08L294.73 358.02L293.05 356.91L291.37 358.02L291.91 356.08L290.34 354.83L292.35 354.74Z" fill="#9467bd"/><path d="M294.37 352.31L295.07 354.19L297.08 354.28L295.51 355.53L296.05 357.47L294.37 356.36L292.69 357.47L293.23 355.53L291.65 354.28L293.66 354.19Z" fill="#9467bd"/><path d="M295.68 351.77L296.39 353.66L298.4 353.74L296.82 355L297.36 356.94L295.68 355.83L294.01 356.94L294.54 355L292.97 353.74L294.98 353.66Z" fill="#9467bd"/><path d="M297 351.38L297.71 353.26L299.72 353.35L298.14 354.6L298.68 356.54L297 355.43L295.32 356.54L295.86 354.6L294.28 353.35L296.29 353.26Z" fill="#9467bd"/><path d="M298.32 351.4L299.02 353.28L301.03 353.37L299.46 354.62L299.99 356.56L298.32 355.45L296.64 356.56L297.18 354.62L295.6 353.37L297.61 353.28Z" fill="#9467bd"/><path d="M299.63 351.5L300.34 353.39L302.35 353.48L300.77 354.73L301.31 356.67L299.63 355.56L297.95 356.67L298.49 354.73L296.92 353.48L298.93 353.39Z" fill="#9467bd"/><path d="M300.95 351.18L301.65 353.06L303.66 353.15L302.09 354.41L302.63 356.35L300.95 355.23L299.27 356.35L299.81 354.41L298.23 353.15L300.24 353.06Z" fill="#9467bd"/><path d="M302.26 350.22L302.97 352.11L304.98 352.2L303.4 353.45L303.94 355.39L302.26 354.28L300.59 355.39L301.12 353.45L299.55 352.2L301.56 352.11Z" fill="#9467bd"/><path d="M303.58 350.4L304.29 352.28L306.3 352.37L304.72 353.62L305.26 355.56L303.58 354.45L301.9 355.56L302.44 353.62L300.86 352.37L302.87 352.28Z" fill="#9467bd"/><path d="M304.9 350.76L305.6 352.64L307.61 352.73L306.04 353.98L306.57 355.92L304.9 354.81L303.22 355.92L303.76 353.98L302.18 352.73L304.19 352.64Z" fill="#9467bd"/><path d="M306.21 349.99L306.92 351.88L308.93 351.96L307.35 353.22L307.89 355.16L306.21 354.05L304.53 355.16L305.07 353.22L303.5 351.96L305.51 351.88Z" fill="#9467bd"/><path d="M307.53 349.97L308.23 351.85L310.24 351.94L308.67 353.19L309.21 355.13L307.53 354.02L305.85 355.13L306.39 353.19L304.81 351.94L306.82 351.85Z" fill="#9467bd"/><path d="M308.84 349.12L309.55 351.01L311.56 351.1L309.98 352.35L310.52 354.29L308.84 353.18L307.17 354.29L307.7 352.35L306.13 351.1L308.14 351.01Z" fill="#9467bd"/><path d="M310.16 349.65L310.87 351.54L312.88 351.62L311.3 352.88L311.84 354.82L310.16 353.71L308.48 354.82L309.02 352.88L307.44 351.62L309.45 351.54Z" fill="#9467bd"/><path d="M311.48 349.07L312.18 350.96L314.19 351.04L312.62 352.3L313.15 354.24L311.48 353.13L309.8 354.24L310.34 352.3L308.76 351.04L310.77 350.96Z" fill="#9467bd"/><path d="M312.79 348.99L313.5 350.88L315.51 350.97L313.93 352.22L314.47 354.16L312.79 353.05L311.11 354.16L311.65 352.22L310.08 350.97L312.09 350.88Z" fill="#9467bd"/><path d="M314.11 348.17L314.81 350.05L316.82 350.14L315.25 351.39L315.79 353.33L314.11 352.22L312.43 353.33L312.97 351.39L311.39 350.14L313.4 350.05Z" fill="#9467bd"/><path d="M315.42 347.17L316.13 349.05L318.14 349.14L316.56 350.4L317.1 352.34L315.42 351.22L313.75 352.34L314.28 350.4L312.71 349.14L314.72 349.05Z" fill="#9467bd"/><path d="M316.74 347.45L317.45 349.34L319.46 349.43L317.88 350.68L318.42 352.62L316.74 351.51L315.06 352.62L315.6 350.68L314.02 349.43L316.03 349.34Z" fill="#9467bd"/><path d="M318.06 347.35L318.76 349.23L320.77 349.32L319.2 350.57L319.73 352.51L318.06 351.4L316.38 352.51L316.92 350.57L315.34 349.32L317.35 349.23Z" fill="#9467bd"/><path d="M319.37 346.3L320.08 348.18L322.09 348.27L320.51 349.52L321.05 351.46L319.37 350.35L317.69 351.46L318.23 349.52L316.66 348.27L318.67 348.18Z" fill="#9467bd"/><path d="M320.69 347.11L321.39 349L323.4 349.09L321.83 350.34L322.37 352.28L320.69 351.17L319.01 352.28L319.55 350.34L317.97 349.09L319.98 349Z" fill="#9467bd"/><path d="M322 346.45L322.71 348.33L324.72 348.42L323.14 349.67L323.68 351.61L322 350.5L320.33 351.61L320.86 349.67L319.29 348.42L321.3 348.33Z" fill="#9467bd"/><path d="M323.32 345.52L324.03 347.41L326.04 347.49L324.46 348.75L325 350.69L323.32 349.58L321.64 350.69L322.18 348.75L320.6 347.49L322.61 347.41Z" fill="#9467bd"/><path d="M324.64 346.29L325.34 348.18L327.35 348.26L325.78 349.52L326.31 351.46L324.64 350.35L322.96 351.46L323.5 349.52L321.92 348.26L323.93 348.18Z" fill="#9467bd"/><path d="M325.95 344.95L326.66 346.84L328.67 346.93L327.09 348.18L327.63 350.12L325.95 349.01L324.27 350.12L324.81 348.18L323.24 346.93L325.25 346.84Z" fill="#9467bd"/><path d="M327.27 345.18L327.97 347.07L329.98 347.16L328.41 348.41L328.95 350.35L327.27 349.24L325.59 350.35L326.13 348.41L324.55 347.16L326.56 347.07Z" fill="#9467bd"/><path d="M328.58 345.33L329.29 347.22L331.3 347.31L329.72 348.56L330.26 350.5L328.58 349.39L326.91 350.5L327.44 348.56L325.87 347.31L327.88 347.22Z" fill="#9467bd"/><path d="M329.9 344.7L330.61 346.59L332.62 346.68L331.04 347.93L331.58 349.87L329.9 348.76L328.22 349.87L328.76 347.93L327.18 346.68L329.19 346.59Z" fill="#9467bd"/>
</g>
<rect x="194.4" y="304.6" width="143.2" height="97.6" fill="none" stroke="#888" stroke-width="0.9"/>
<path d="M198.3 402.2v-3.2M198.3 304.6v3.2M203.56 402.2v-1.8M203.56 304.6v1.8M208.83 402.2v-1.8M208.83 304.6v1.8M214.09 402.2v-1.8M214.09 304.6v1.8M219.36 402.2v-1.8M219.36 304.6v1.8M224.62 402.2v-3.2M224.62 304.6v3.2M229.88 402.2v-1.8M229.88 304.6v1.8M235.15 402.2v-1.8M235.15 304.6v1.8M240.41 402.2v-1.8M240.41 304.6v1.8M245.68 402.2v-1.8M245.68 304.6v1.8M250.94 402.2v-3.2M250.94 304.6v3.2M256.2 402.2v-1.8M256.2 304.6v1.8M261.47 402.2v-1.8M261.47 304.6v1.8M266.73 402.2v-1.8M266.73 304.6v1.8M272 402.2v-1.8M272 304.6v1.8M277.26 402.2v-3.2M277.26 304.6v3.2M282.52 402.2v-1.8M282.52 304.6v1.8M287.79 402.2v-1.8M287.79 304.6v1.8M293.05 402.2v-1.8M293.05 304.6v1.8M298.32 402.2v-1.8M298.32 304.6v1.8M303.58 402.2v-3.2M303.58 304.6v3.2M308.84 402.2v-1.8M308.84 304.6v1.8M314.11 402.2v-1.8M314.11 304.6v1.8M319.37 402.2v-1.8M319.37 304.6v1.8M324.64 402.2v-1.8M324.64 304.6v1.8M329.9 402.2v-3.2M329.9 304.6v3.2M335.16 402.2v-1.8M335.16 304.6v1.8M194.4 399.68h1.8M337.6 399.68h-1.8M194.4 396.99h1.8M337.6 396.99h-1.8M194.4 394.3h3.2M337.6 394.3h-3.2M194.4 391.61h1.8M337.6 391.61h-1.8M194.4 388.92h1.8M337.6 388.92h-1.8M194.4 386.23h1.8M337.6 386.23h-1.8M194.4 383.54h1.8M337.6 383.54h-1.8M194.4 380.85h3.2M337.6 380.85h-3.2M194.4 378.16h1.8M337.6 378.16h-1.8M194.4 375.47h1.8M337.6 375.47h-1.8M194.4 372.78h1.8M337.6 372.78h-1.8M194.4 370.09h1.8M337.6 370.09h-1.8M194.4 367.4h3.2M337.6 367.4h-3.2M194.4 364.71h1.8M337.6 364.71h-1.8M194.4 362.02h1.8M337.6 362.02h-1.8M194.4 359.33h1.8M337.6 359.33h-1.8M194.4 356.64h1.8M337.6 356.64h-1.8M194.4 353.95h3.2M337.6 353.95h-3.2M194.4 351.26h1.8M337.6 351.26h-1.8M194.4 348.57h1.8M337.6 348.57h-1.8M194.4 345.88h1.8M337.6 345.88h-1.8M194.4 343.19h1.8M337.6 343.19h-1.8M194.4 340.5h3.2M337.6 340.5h-3.2M194.4 337.81h1.8M337.6 337.81h-1.8M194.4 335.12h1.8M337.6 335.12h-1.8M194.4 332.43h1.8M337.6 332.43h-1.8M194.4 329.74h1.8M337.6 329.74h-1.8M194.4 327.05h3.2M337.6 327.05h-3.2M194.4 324.36h1.8M337.6 324.36h-1.8M194.4 321.67h1.8M337.6 321.67h-1.8M194.4 318.98h1.8M337.6 318.98h-1.8M194.4 316.29h1.8M337.6 316.29h-1.8M194.4 313.6h3.2M337.6 313.6h-3.2M194.4 310.91h1.8M337.6 310.91h-1.8M194.4 308.22h1.8M337.6 308.22h-1.8" stroke="#8a8a8a" stroke-width="0.7" fill="none"/>
<text x="191.6" y="316.9" font-size="10" text-anchor="end" fill="#111">0,9</text>
<text x="191.6" y="330.35" font-size="10" text-anchor="end" fill="#111">0,8</text>
<text x="191.6" y="343.8" font-size="10" text-anchor="end" fill="#111">0,7</text>
<text x="191.6" y="357.25" font-size="10" text-anchor="end" fill="#111">0,6</text>
<text x="191.6" y="370.7" font-size="10" text-anchor="end" fill="#111">0,5</text>
<text x="191.6" y="384.15" font-size="10" text-anchor="end" fill="#111">0,4</text>
<text x="191.6" y="397.6" font-size="10" text-anchor="end" fill="#111">0,3</text>
<text x="198.3" y="413" font-size="10.2" text-anchor="middle" fill="#111">0</text>
<text x="224.62" y="413" font-size="10.2" text-anchor="middle" fill="#111">20</text>
<text x="250.94" y="413" font-size="10.2" text-anchor="middle" fill="#111">40</text>
<text x="277.26" y="413" font-size="10.2" text-anchor="middle" fill="#111">60</text>
<text x="303.58" y="413" font-size="10.2" text-anchor="middle" fill="#111">80</text>
<text x="329.9" y="413" font-size="10.2" text-anchor="middle" fill="#111">100</text>
<text x="265.1" y="420.3" font-size="10.2" text-anchor="middle" fill="#111">Cycle number</text>
<text transform="translate(162.5 354) rotate(-90)" font-size="10.2" text-anchor="middle" fill="#111">Fraction of capacity</text>
<text transform="translate(174.5 354) rotate(-90)" font-size="10.2" text-anchor="middle" fill="#111">from CV-step [%]</text>
<path d="M46.4 2.4H346V456.4H46.4ZM46.4 229.4H346" fill="none" stroke="#222" stroke-width="1.2"/>
<path d="M55 2.4v6.3M55 229.4v-6.3M55 229.4v6.3M55 456.4v-6.3M69.12 2.4v3.4M69.12 229.4v-3.4M69.12 229.4v3.4M69.12 456.4v-3.4M83.24 2.4v6.3M83.24 229.4v-6.3M83.24 229.4v6.3M83.24 456.4v-6.3M97.36 2.4v3.4M97.36 229.4v-3.4M97.36 229.4v3.4M97.36 456.4v-3.4M111.48 2.4v6.3M111.48 229.4v-6.3M111.48 229.4v6.3M111.48 456.4v-6.3M125.6 2.4v3.4M125.6 229.4v-3.4M125.6 229.4v3.4M125.6 456.4v-3.4M139.72 2.4v6.3M139.72 229.4v-6.3M139.72 229.4v6.3M139.72 456.4v-6.3M153.84 2.4v3.4M153.84 229.4v-3.4M153.84 229.4v3.4M153.84 456.4v-3.4M167.96 2.4v6.3M167.96 229.4v-6.3M167.96 229.4v6.3M167.96 456.4v-6.3M182.08 2.4v3.4M182.08 229.4v-3.4M182.08 229.4v3.4M182.08 456.4v-3.4M196.2 2.4v6.3M196.2 229.4v-6.3M196.2 229.4v6.3M196.2 456.4v-6.3M210.32 2.4v3.4M210.32 229.4v-3.4M210.32 229.4v3.4M210.32 456.4v-3.4M224.44 2.4v6.3M224.44 229.4v-6.3M224.44 229.4v6.3M224.44 456.4v-6.3M238.56 2.4v3.4M238.56 229.4v-3.4M238.56 229.4v3.4M238.56 456.4v-3.4M252.68 2.4v6.3M252.68 229.4v-6.3M252.68 229.4v6.3M252.68 456.4v-6.3M266.8 2.4v3.4M266.8 229.4v-3.4M266.8 229.4v3.4M266.8 456.4v-3.4M280.92 2.4v6.3M280.92 229.4v-6.3M280.92 229.4v6.3M280.92 456.4v-6.3M295.04 2.4v3.4M295.04 229.4v-3.4M295.04 229.4v3.4M295.04 456.4v-3.4M309.16 2.4v6.3M309.16 229.4v-6.3M309.16 229.4v6.3M309.16 456.4v-6.3M323.28 2.4v3.4M323.28 229.4v-3.4M323.28 229.4v3.4M323.28 456.4v-3.4M337.4 2.4v6.3M337.4 229.4v-6.3M337.4 229.4v6.3M337.4 456.4v-6.3M46.4 227.09h3.4M346 227.09h-3.4M46.4 222.1h6.4M346 222.1h-6.4M46.4 217.11h3.4M346 217.11h-3.4M46.4 212.12h3.4M346 212.12h-3.4M46.4 207.13h3.4M346 207.13h-3.4M46.4 202.14h3.4M346 202.14h-3.4M46.4 197.14h6.4M346 197.14h-6.4M46.4 192.15h3.4M346 192.15h-3.4M46.4 187.16h3.4M346 187.16h-3.4M46.4 182.17h3.4M346 182.17h-3.4M46.4 177.18h3.4M346 177.18h-3.4M46.4 172.19h6.4M346 172.19h-6.4M46.4 167.2h3.4M346 167.2h-3.4M46.4 162.21h3.4M346 162.21h-3.4M46.4 157.21h3.4M346 157.21h-3.4M46.4 152.22h3.4M346 152.22h-3.4M46.4 147.23h6.4M346 147.23h-6.4M46.4 142.24h3.4M346 142.24h-3.4M46.4 137.25h3.4M346 137.25h-3.4M46.4 132.26h3.4M346 132.26h-3.4M46.4 127.27h3.4M346 127.27h-3.4M46.4 122.28h6.4M346 122.28h-6.4M46.4 117.28h3.4M346 117.28h-3.4M46.4 112.29h3.4M346 112.29h-3.4M46.4 107.3h3.4M346 107.3h-3.4M46.4 102.31h3.4M346 102.31h-3.4M46.4 97.32h6.4M346 97.32h-6.4M46.4 92.33h3.4M346 92.33h-3.4M46.4 87.34h3.4M346 87.34h-3.4M46.4 82.35h3.4M346 82.35h-3.4M46.4 77.36h3.4M346 77.36h-3.4M46.4 72.36h6.4M346 72.36h-6.4M46.4 67.37h3.4M346 67.37h-3.4M46.4 62.38h3.4M346 62.38h-3.4M46.4 57.39h3.4M346 57.39h-3.4M46.4 52.4h3.4M346 52.4h-3.4M46.4 47.41h6.4M346 47.41h-6.4M46.4 42.42h3.4M346 42.42h-3.4M46.4 37.43h3.4M346 37.43h-3.4M46.4 32.43h3.4M346 32.43h-3.4M46.4 27.44h3.4M346 27.44h-3.4M46.4 22.45h6.4M346 22.45h-6.4M46.4 17.46h3.4M346 17.46h-3.4M46.4 12.47h3.4M346 12.47h-3.4M46.4 7.48h3.4M346 7.48h-3.4M46.4 454.36h3.4M346 454.36h-3.4M46.4 450.03h3.4M346 450.03h-3.4M46.4 445.7h6.4M346 445.7h-6.4M46.4 441.37h3.4M346 441.37h-3.4M46.4 437.04h3.4M346 437.04h-3.4M46.4 432.72h3.4M346 432.72h-3.4M46.4 428.39h3.4M346 428.39h-3.4M46.4 424.06h3.4M346 424.06h-3.4M46.4 419.73h3.4M346 419.73h-3.4M46.4 415.4h3.4M346 415.4h-3.4M46.4 411.08h3.4M346 411.08h-3.4M46.4 406.75h3.4M346 406.75h-3.4M46.4 402.42h6.4M346 402.42h-6.4M46.4 398.09h3.4M346 398.09h-3.4M46.4 393.76h3.4M346 393.76h-3.4M46.4 389.44h3.4M346 389.44h-3.4M46.4 385.11h3.4M346 385.11h-3.4M46.4 380.78h3.4M346 380.78h-3.4M46.4 376.45h3.4M346 376.45h-3.4M46.4 372.12h3.4M346 372.12h-3.4M46.4 367.8h3.4M346 367.8h-3.4M46.4 363.47h3.4M346 363.47h-3.4M46.4 359.14h6.4M346 359.14h-6.4M46.4 354.81h3.4M346 354.81h-3.4M46.4 350.48h3.4M346 350.48h-3.4M46.4 346.16h3.4M346 346.16h-3.4M46.4 341.83h3.4M346 341.83h-3.4M46.4 337.5h3.4M346 337.5h-3.4M46.4 333.17h3.4M346 333.17h-3.4M46.4 328.84h3.4M346 328.84h-3.4M46.4 324.52h3.4M346 324.52h-3.4M46.4 320.19h3.4M346 320.19h-3.4M46.4 315.86h6.4M346 315.86h-6.4M46.4 311.53h3.4M346 311.53h-3.4M46.4 307.2h3.4M346 307.2h-3.4M46.4 302.88h3.4M346 302.88h-3.4M46.4 298.55h3.4M346 298.55h-3.4M46.4 294.22h3.4M346 294.22h-3.4M46.4 289.89h3.4M346 289.89h-3.4M46.4 285.56h3.4M346 285.56h-3.4M46.4 281.24h3.4M346 281.24h-3.4M46.4 276.91h3.4M346 276.91h-3.4M46.4 272.58h6.4M346 272.58h-6.4M46.4 268.25h3.4M346 268.25h-3.4M46.4 263.92h3.4M346 263.92h-3.4M46.4 259.6h3.4M346 259.6h-3.4M46.4 255.27h3.4M346 255.27h-3.4M46.4 250.94h3.4M346 250.94h-3.4M46.4 246.61h3.4M346 246.61h-3.4M46.4 242.28h3.4M346 242.28h-3.4M46.4 237.96h3.4M346 237.96h-3.4M46.4 233.63h3.4M346 233.63h-3.4" stroke="#222" stroke-width="1.1" fill="none"/>
<text x="39.6" y="226.4" font-size="12.6" text-anchor="end" fill="#111">0</text>
<text x="39.6" y="201.44" font-size="12.6" text-anchor="end" fill="#111">10</text>
<text x="39.6" y="176.49" font-size="12.6" text-anchor="end" fill="#111">20</text>
<text x="39.6" y="151.53" font-size="12.6" text-anchor="end" fill="#111">30</text>
<text x="39.6" y="126.58" font-size="12.6" text-anchor="end" fill="#111">40</text>
<text x="39.6" y="101.62" font-size="12.6" text-anchor="end" fill="#111">50</text>
<text x="39.6" y="76.66" font-size="12.6" text-anchor="end" fill="#111">60</text>
<text x="39.6" y="51.71" font-size="12.6" text-anchor="end" fill="#111">70</text>
<text x="39.6" y="26.75" font-size="12.6" text-anchor="end" fill="#111">80</text>
<text x="39.6" y="450" font-size="12.6" text-anchor="end" fill="#111">0</text>
<text x="39.6" y="406.72" font-size="12.6" text-anchor="end" fill="#111">2</text>
<text x="39.6" y="363.44" font-size="12.6" text-anchor="end" fill="#111">4</text>
<text x="39.6" y="320.16" font-size="12.6" text-anchor="end" fill="#111">6</text>
<text x="39.6" y="276.88" font-size="12.6" text-anchor="end" fill="#111">8</text>
<text x="55" y="473.6" font-size="12.6" text-anchor="middle" fill="#111">0</text>
<text x="83.24" y="473.6" font-size="12.6" text-anchor="middle" fill="#111">10</text>
<text x="111.48" y="473.6" font-size="12.6" text-anchor="middle" fill="#111">20</text>
<text x="139.72" y="473.6" font-size="12.6" text-anchor="middle" fill="#111">30</text>
<text x="167.96" y="473.6" font-size="12.6" text-anchor="middle" fill="#111">40</text>
<text x="196.2" y="473.6" font-size="12.6" text-anchor="middle" fill="#111">50</text>
<text x="224.44" y="473.6" font-size="12.6" text-anchor="middle" fill="#111">60</text>
<text x="252.68" y="473.6" font-size="12.6" text-anchor="middle" fill="#111">70</text>
<text x="280.92" y="473.6" font-size="12.6" text-anchor="middle" fill="#111">80</text>
<text x="309.16" y="473.6" font-size="12.6" text-anchor="middle" fill="#111">90</text>
<text x="337.4" y="473.6" font-size="12.6" text-anchor="middle" fill="#111">100</text>
<text x="196.3" y="489.5" font-size="15.8" text-anchor="middle" fill="#111">Cycle number</text>
<text transform="translate(17.9 222.4) rotate(-90)" font-size="16" text-anchor="middle" fill="#111">Fraction of capacity from CV-step [%]</text>
<text transform="translate(57.2 33.9) scale(0.88 1)" font-size="25.5" fill="#111">a</text>
<text x="72.5" y="34.2" font-size="23.5" fill="#111">)</text>
<text transform="translate(56.4 261.1) scale(0.96 1)" font-size="25.5" fill="#111">b</text>
<text x="72.5" y="260.9" font-size="23.5" fill="#111">)</text>
<rect x="103.6" y="2.4" width="170.4" height="72" fill="#fff" stroke="#222" stroke-width="1"/>
<rect x="112.34" y="5.14" width="8.71" height="8.71" fill="#1f77b4"/>
<circle cx="116.7" cy="24.4" r="4.74" fill="#d62728"/>
<path d="M116.7 32.95L122.67 43.4L110.73 43.4Z" fill="#2ca02c"/>
<path d="M116.7 46.21L122.69 52.2L116.7 58.19L110.71 52.2Z" fill="#ff7f0e"/>
<path d="M116.7 61.29L118.11 65.06L122.13 65.23L118.98 67.74L120.06 71.62L116.7 69.4L113.34 71.62L114.42 67.74L111.27 65.23L115.29 65.06Z" fill="#9467bd"/>
<text x="131.4" y="13.7" font-size="10.4" fill="#111" style="stroke-width:0.12px">ILE1: LiFSI:PYR<tspan font-size="7.5" dy="2.5">13</tspan><tspan dy="-2.5">FSI</tspan></text>
<text x="131.4" y="28.6" font-size="10.4" fill="#111" style="stroke-width:0.12px">ILE2: LiFSI:PYR<tspan font-size="7.5" dy="2.5">13</tspan><tspan dy="-2.5">TFSI</tspan></text>
<text x="131.4" y="42.8" font-size="10.4" fill="#111" style="stroke-width:0.12px">ILE3: LiFSI:EMIFSI</text>
<text x="131.4" y="56.4" font-size="10.4" fill="#111" style="stroke-width:0.12px">ILE7: LiFSI:P<tspan font-size="7.5" dy="2.5">111i4</tspan><tspan dy="-2.5">FSI</tspan></text>
<text x="131.4" y="71.2" font-size="10.4" fill="#111" style="stroke-width:0.12px">STD2: LiFSI:EC:DMC:VC:FEC</text>
</svg></body></html>
